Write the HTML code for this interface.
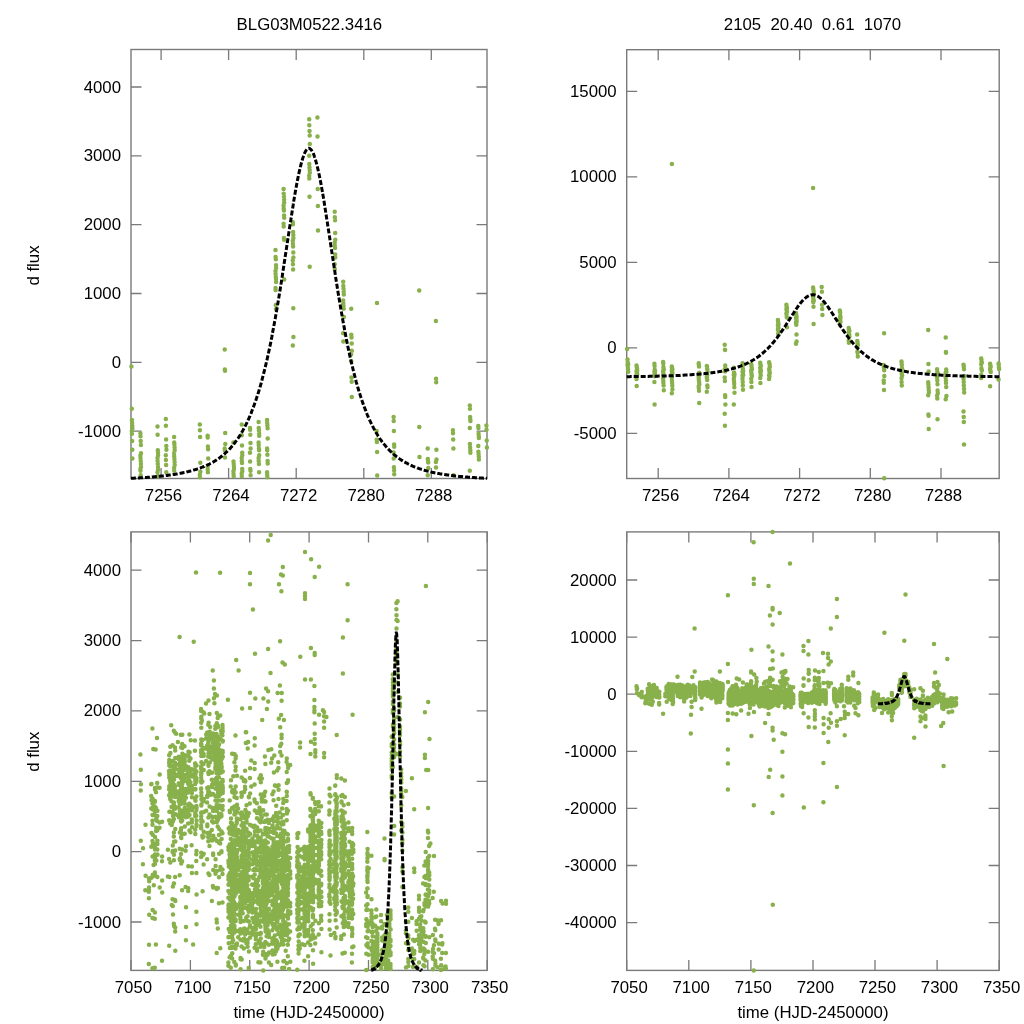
<!DOCTYPE html>
<html><head><meta charset="utf-8"><title>BLG03M0522.3416</title><style>html,body{margin:0;padding:0;background:#fff;}svg{display:block;will-change:transform}</style></head><body>
<svg width="1024" height="1024" viewBox="0 0 1024 1024">
<rect width="1024" height="1024" fill="#fff"/>
<g font-family="Liberation Sans, Arial, sans-serif" font-size="16.8" fill="#000">
<text x="309.4" y="30.3" text-anchor="middle">BLG03M0522.3416</text>
<text x="812.5" y="30.3" text-anchor="middle" xml:space="preserve">2105  20.40  0.61  1070</text>
<text transform="translate(39 265.5) rotate(-90)" text-anchor="middle">d flux</text>
<text transform="translate(39 751.7) rotate(-90)" text-anchor="middle">d flux</text>
<text x="309" y="1017.8" text-anchor="middle">time (HJD-2450000)</text>
<text x="813" y="1017.8" text-anchor="middle">time (HJD-2450000)</text>
<text x="163.5" y="500.6" text-anchor="middle">7256</text>
<text x="231" y="500.6" text-anchor="middle">7264</text>
<text x="298.6" y="500.6" text-anchor="middle">7272</text>
<text x="366.2" y="500.6" text-anchor="middle">7280</text>
<text x="433.7" y="500.6" text-anchor="middle">7288</text>
<text x="121" y="436.6" text-anchor="end">-1000</text>
<text x="121" y="367.8" text-anchor="end">0</text>
<text x="121" y="299" text-anchor="end">1000</text>
<text x="121" y="230.2" text-anchor="end">2000</text>
<text x="121" y="161.3" text-anchor="end">3000</text>
<text x="121" y="92.5" text-anchor="end">4000</text>
<text x="660.6" y="500.6" text-anchor="middle">7256</text>
<text x="731.3" y="500.6" text-anchor="middle">7264</text>
<text x="802" y="500.6" text-anchor="middle">7272</text>
<text x="872.7" y="500.6" text-anchor="middle">7280</text>
<text x="943.4" y="500.6" text-anchor="middle">7288</text>
<text x="616.7" y="438.9" text-anchor="end">-5000</text>
<text x="616.7" y="353.4" text-anchor="end">0</text>
<text x="616.7" y="267.9" text-anchor="end">5000</text>
<text x="616.7" y="182.4" text-anchor="end">10000</text>
<text x="616.7" y="96.9" text-anchor="end">15000</text>
<text x="133.4" y="992.5" text-anchor="middle">7050</text>
<text x="192.8" y="992.5" text-anchor="middle">7100</text>
<text x="252.1" y="992.5" text-anchor="middle">7150</text>
<text x="311.5" y="992.5" text-anchor="middle">7200</text>
<text x="370.9" y="992.5" text-anchor="middle">7250</text>
<text x="430.2" y="992.5" text-anchor="middle">7300</text>
<text x="489.6" y="992.5" text-anchor="middle">7350</text>
<text x="121" y="927.5" text-anchor="end">-1000</text>
<text x="121" y="857.1" text-anchor="end">0</text>
<text x="121" y="786.8" text-anchor="end">1000</text>
<text x="121" y="716.4" text-anchor="end">2000</text>
<text x="121" y="646.1" text-anchor="end">3000</text>
<text x="121" y="575.7" text-anchor="end">4000</text>
<text x="629.1" y="992.5" text-anchor="middle">7050</text>
<text x="691.2" y="992.5" text-anchor="middle">7100</text>
<text x="753.3" y="992.5" text-anchor="middle">7150</text>
<text x="815.4" y="992.5" text-anchor="middle">7200</text>
<text x="877.4" y="992.5" text-anchor="middle">7250</text>
<text x="939.5" y="992.5" text-anchor="middle">7300</text>
<text x="1001.6" y="992.5" text-anchor="middle">7350</text>
<text x="616.7" y="928.2" text-anchor="end">-40000</text>
<text x="616.7" y="871" text-anchor="end">-30000</text>
<text x="616.7" y="813.9" text-anchor="end">-20000</text>
<text x="616.7" y="756.8" text-anchor="end">-10000</text>
<text x="616.7" y="699.7" text-anchor="end">0</text>
<text x="616.7" y="642.6" text-anchor="end">10000</text>
<text x="616.7" y="585.5" text-anchor="end">20000</text>
</g>
<path d="M161.1 478.5v-10.5M161.1 49.5v10.5M228.6 478.5v-10.5M228.6 49.5v10.5M296.2 478.5v-10.5M296.2 49.5v10.5M363.8 478.5v-10.5M363.8 49.5v10.5M431.3 478.5v-10.5M431.3 49.5v10.5M131 431.1h10.5M487 431.1h-10.5M131 362.3h10.5M487 362.3h-10.5M131 293.5h10.5M487 293.5h-10.5M131 224.7h10.5M487 224.7h-10.5M131 155.8h10.5M487 155.8h-10.5M131 87h10.5M487 87h-10.5" stroke="#7a7a7a" stroke-width="1.3" fill="none"/>
<rect x="131.0" y="49.5" width="356" height="429" stroke="#7a7a7a" stroke-width="1.4" fill="none"/>
<path d="M658.2 478.5v-10.5M658.2 49.7v10.5M728.9 478.5v-10.5M728.9 49.7v10.5M799.6 478.5v-10.5M799.6 49.7v10.5M870.3 478.5v-10.5M870.3 49.7v10.5M941 478.5v-10.5M941 49.7v10.5M626.7 433.4h10.5M999.2 433.4h-10.5M626.7 347.9h10.5M999.2 347.9h-10.5M626.7 262.4h10.5M999.2 262.4h-10.5M626.7 176.9h10.5M999.2 176.9h-10.5M626.7 91.4h10.5M999.2 91.4h-10.5" stroke="#7a7a7a" stroke-width="1.3" fill="none"/>
<rect x="626.7" y="49.7" width="372.5" height="428.8" stroke="#7a7a7a" stroke-width="1.4" fill="none"/>
<path d="M131 970.4v-10.5M131 531.9v10.5M190.4 970.4v-10.5M190.4 531.9v10.5M249.7 970.4v-10.5M249.7 531.9v10.5M309.1 970.4v-10.5M309.1 531.9v10.5M368.5 970.4v-10.5M368.5 531.9v10.5M427.8 970.4v-10.5M427.8 531.9v10.5M487.2 970.4v-10.5M487.2 531.9v10.5M131 922h10.5M487.2 922h-10.5M131 851.6h10.5M487.2 851.6h-10.5M131 781.3h10.5M487.2 781.3h-10.5M131 710.9h10.5M487.2 710.9h-10.5M131 640.6h10.5M487.2 640.6h-10.5M131 570.2h10.5M487.2 570.2h-10.5" stroke="#7a7a7a" stroke-width="1.3" fill="none"/>
<rect x="131.0" y="531.9" width="356.2" height="438.5" stroke="#7a7a7a" stroke-width="1.4" fill="none"/>
<path d="M626.7 970.4v-10.5M626.7 531.9v10.5M688.8 970.4v-10.5M688.8 531.9v10.5M750.9 970.4v-10.5M750.9 531.9v10.5M813 970.4v-10.5M813 531.9v10.5M875 970.4v-10.5M875 531.9v10.5M937.1 970.4v-10.5M937.1 531.9v10.5M999.2 970.4v-10.5M999.2 531.9v10.5M626.7 922.7h10.5M999.2 922.7h-10.5M626.7 865.5h10.5M999.2 865.5h-10.5M626.7 808.4h10.5M999.2 808.4h-10.5M626.7 751.3h10.5M999.2 751.3h-10.5M626.7 694.2h10.5M999.2 694.2h-10.5M626.7 637.1h10.5M999.2 637.1h-10.5M626.7 580h10.5M999.2 580h-10.5" stroke="#7a7a7a" stroke-width="1.3" fill="none"/>
<rect x="626.7" y="531.9" width="372.5" height="438.5" stroke="#7a7a7a" stroke-width="1.4" fill="none"/>
<path d="M131.8 408.8h0M131.9 420h0M132.1 423h0M132.3 426h0M132.4 428.5h0M131.8 431h0M131.9 433.7h0M132.1 441h0M132.3 449.8h0M132.4 458.6h0M140.4 433.2h0M140.5 436.2h0M140.7 441h0M140.9 445h0M141 453.2h0M140.4 455.7h0M140.5 458.1h0M140.7 461h0M140.9 464h0M141 466.9h0M140.4 468.9h0M140.5 470.8h0M140.7 475.2h0M157.5 426.4h0M157.6 434.7h0M157.8 450.3h0M158 452.8h0M158.1 455.2h0M157.5 458.1h0M157.6 461h0M157.8 464h0M158 466.9h0M158.1 469.8h0M157.5 472.3h0M157.6 476.2h0M165.8 418.9h0M165.9 425.7h0M166.1 439.6h0M166.3 445.9h0M166.4 449.8h0M165.8 455.2h0M165.9 460.1h0M166.1 465h0M166.3 472.3h0M174.1 436.9h0M174.2 442.5h0M174.4 444.5h0M174.6 447.4h0M174.7 450.3h0M174.1 453.2h0M174.2 456.2h0M174.4 459.1h0M174.6 462h0M174.7 465h0M174.1 467.9h0M174.2 470.8h0M199.8 424.4h0M199.9 430.3h0M200.1 437.1h0M200.3 462.8h0M200.4 471.8h0M199.8 474.7h0M199.9 477.2h0M207.6 435.7h0M207.7 437.6h0M207.9 446.4h0M208.1 449.3h0M208.2 458.6h0M207.6 466.9h0M207.7 469.8h0M207.9 472.3h0M224.7 349.5h0M224.8 369.6h0M225 370.8h0M225.2 433h0M225.3 444h0M224.7 448.4h0M224.8 450.3h0M225 457.6h0M233.4 442.5h0M233.5 461.5h0M233.7 464h0M233.9 466.4h0M234 468.9h0M233.4 471.3h0M233.5 473.8h0M233.7 476.2h0M241.7 424.4h0M241.8 435.2h0M242 445.4h0M242.2 452.8h0M242.3 455.2h0M241.7 458.1h0M241.8 461h0M242 463h0M242.2 468.9h0M242.3 471.3h0M241.7 473.8h0M241.8 476.2h0M250 427.9h0M250.1 429.8h0M250.3 434.7h0M250.5 443h0M250.6 448.4h0M250 452.8h0M250.1 461.5h0M250.3 468.9h0M250.5 470.8h0M250.6 475.2h0M258.6 422h0M258.7 427.9h0M258.9 430.3h0M259.1 433.2h0M259.2 435.7h0M258.6 442.5h0M258.7 444.9h0M258.9 448.4h0M259.1 450.3h0M259.2 455.2h0M258.6 458.1h0M258.7 461h0M258.9 464h0M259.1 472.3h0M267.1 420h0M267.2 423h0M267.4 425.4h0M267.6 428.3h0M267.7 438.6h0M267.1 448.4h0M267.2 450.3h0M267.4 454.7h0M267.6 461h0M267.7 463.5h0M267.1 472.3h0M267.2 474.7h0M267.4 477.2h0M275.5 250h0M275.6 256.9h0M275.8 259.3h0M276 265.2h0M276.1 268.1h0M275.5 271.1h0M275.6 274h0M275.8 276.9h0M276 278.9h0M276.1 282h0M275.5 288h0M275.6 290h0M275.8 305h0M276 309.3h0M283.6 189h0M283.7 193.7h0M283.9 196.8h0M284.1 199.8h0M284.2 202.7h0M283.6 205.6h0M283.7 208.6h0M283.9 210.5h0M284.1 215.4h0M284.2 217.8h0M283.6 223.7h0M283.7 226.6h0M283.9 237.9h0M284.1 239.8h0M284.2 279.4h0M292.8 222.2h0M292.9 224.2h0M293.1 232h0M293.3 234.9h0M293.4 237.9h0M292.8 240.8h0M292.9 243.7h0M293.1 246.6h0M293.3 252.5h0M293.4 257.4h0M292.8 260.3h0M292.9 264.2h0M293.1 269.6h0M293.3 308.3h0M293.4 337.1h0M292.8 345.4h0M309.2 119.2h0M309.3 125.2h0M309.5 131.1h0M309.7 135.6h0M309.8 143.9h0M309.2 155.7h0M309.3 164h0M309.5 167.4h0M309.7 170.3h0M309.8 172.8h0M309.2 175.7h0M309.3 178.6h0M309.5 196.7h0M309.7 266.7h0M317.4 117.4h0M317.5 136.6h0M317.7 188.9h0M317.9 206.1h0M318 230.5h0M334.7 211.7h0M334.8 217.3h0M335 220.3h0M335.2 233h0M335.3 239.8h0M334.7 242.7h0M334.8 245.7h0M335 248.1h0M335.2 254.5h0M335.3 257.4h0M334.7 264.2h0M334.8 269.1h0M343.2 281.8h0M343.3 285.9h0M343.5 288.8h0M343.7 291.7h0M343.8 294.6h0M343.2 300.5h0M343.3 303.4h0M343.5 305.9h0M343.7 308.8h0M343.8 317.1h0M343.2 333.2h0M343.3 341.5h0M351.2 308.8h0M351.3 334.7h0M351.5 337.6h0M351.7 343.5h0M351.8 350.8h0M351.2 354.2h0M351.3 361.2h0M351.5 377.6h0M351.7 381.7h0M351.8 396.9h0M377 303.1h0M376.6 430.9h0M376.7 439.7h0M376.9 442.1h0M377.1 452h0M377.2 475.5h0M393.6 416.9h0M393.7 421h0M393.9 430.9h0M394.1 444.4h0M394.2 446.8h0M393.6 452.6h0M393.7 458.5h0M393.9 467.3h0M394.1 470.2h0M394.2 474.3h0M419.2 290.5h0M419.3 427.1h0M419.5 457h0M427.7 448.4h0M427.8 459.1h0M428 461h0M428.2 462.5h0M428.3 467.9h0M427.7 475.2h0M435.9 320.9h0M436 378.8h0M436.2 382.3h0M436.4 449.8h0M436.5 459.6h0M435.9 462h0M436 467.4h0M452.9 430.3h0M453 433.2h0M453.2 439.6h0M453.4 448.4h0M453.5 475.2h0M469.8 405.4h0M469.9 408.8h0M470.1 417.1h0M470.3 419.6h0M470.4 421h0M469.8 427.9h0M469.9 444h0M470.1 447.4h0M470.3 450.3h0M470.4 452.8h0M469.8 470.8h0M478.3 425.9h0M478.4 427.9h0M478.6 433.7h0M478.8 436.2h0M478.9 438.1h0M478.3 445.9h0M478.4 451.8h0M478.6 454.2h0M478.8 456.7h0M478.9 459.6h0M486.4 425.4h0M486.5 429.8h0M486.7 440.5h0M486.9 447.4h0M131.4 366.4h0" stroke="#88b04b" stroke-width="4.5" stroke-linecap="round" fill="none"/>
<path d="M131 478.3L131.6 478.3L132.2 478.3L132.8 478.2L133.4 478.2L134 478.2L134.6 478.1L135.2 478.1L135.8 478.1L136.3 478L136.9 478L137.5 478L138.1 477.9L138.7 477.9L139.3 477.9L139.9 477.8L140.5 477.8L141.1 477.8L141.7 477.7L142.3 477.7L142.9 477.7L143.5 477.6L144.1 477.6L144.7 477.5L145.3 477.5L145.9 477.4L146.5 477.4L147 477.4L147.6 477.3L148.2 477.3L148.8 477.2L149.4 477.2L150 477.1L150.6 477.1L151.2 477L151.8 477L152.4 476.9L153 476.9L153.6 476.8L154.2 476.8L154.8 476.7L155.4 476.7L156 476.6L156.6 476.6L157.2 476.5L157.7 476.5L158.3 476.4L158.9 476.3L159.5 476.3L160.1 476.2L160.7 476.1L161.3 476.1L161.9 476L162.5 476L163.1 475.9L163.7 475.8L164.3 475.7L164.9 475.7L165.5 475.6L166.1 475.5L166.7 475.5L167.3 475.4L167.8 475.3L168.4 475.2L169 475.1L169.6 475.1L170.2 475L170.8 474.9L171.4 474.8L172 474.7L172.6 474.6L173.2 474.5L173.8 474.5L174.4 474.4L175 474.3L175.6 474.2L176.2 474.1L176.8 474L177.4 473.9L178 473.8L178.5 473.7L179.1 473.5L179.7 473.4L180.3 473.3L180.9 473.2L181.5 473.1L182.1 473L182.7 472.8L183.3 472.7L183.9 472.6L184.5 472.5L185.1 472.3L185.7 472.2L186.3 472.1L186.9 471.9L187.5 471.8L188.1 471.6L188.6 471.5L189.2 471.3L189.8 471.2L190.4 471L191 470.9L191.6 470.7L192.2 470.6L192.8 470.4L193.4 470.2L194 470L194.6 469.9L195.2 469.7L195.8 469.5L196.4 469.3L197 469.1L197.6 468.9L198.2 468.7L198.8 468.5L199.3 468.3L199.9 468.1L200.5 467.9L201.1 467.6L201.7 467.4L202.3 467.2L202.9 467L203.5 466.7L204.1 466.5L204.7 466.2L205.3 466L205.9 465.7L206.5 465.4L207.1 465.2L207.7 464.9L208.3 464.6L208.9 464.3L209.5 464L210 463.7L210.6 463.4L211.2 463.1L211.8 462.7L212.4 462.4L213 462.1L213.6 461.7L214.2 461.4L214.8 461L215.4 460.7L216 460.3L216.6 459.9L217.2 459.5L217.8 459.1L218.4 458.7L219 458.3L219.6 457.8L220.1 457.4L220.7 457L221.3 456.5L221.9 456L222.5 455.5L223.1 455.1L223.7 454.6L224.3 454L224.9 453.5L225.5 453L226.1 452.4L226.7 451.9L227.3 451.3L227.9 450.7L228.5 450.1L229.1 449.5L229.7 448.9L230.3 448.2L230.8 447.6L231.4 446.9L232 446.2L232.6 445.5L233.2 444.8L233.8 444L234.4 443.3L235 442.5L235.6 441.7L236.2 440.9L236.8 440.1L237.4 439.2L238 438.4L238.6 437.5L239.2 436.6L239.8 435.7L240.4 434.7L240.9 433.7L241.5 432.7L242.1 431.7L242.7 430.7L243.3 429.6L243.9 428.5L244.5 427.4L245.1 426.3L245.7 425.1L246.3 423.9L246.9 422.7L247.5 421.4L248.1 420.1L248.7 418.8L249.3 417.5L249.9 416.1L250.5 414.7L251.1 413.2L251.6 411.7L252.2 410.2L252.8 408.7L253.4 407.1L254 405.5L254.6 403.8L255.2 402.1L255.8 400.4L256.4 398.6L257 396.8L257.6 395L258.2 393.1L258.8 391.2L259.4 389.2L260 387.2L260.6 385.1L261.2 383L261.8 380.8L262.3 378.6L262.9 376.4L263.5 374.1L264.1 371.7L264.7 369.3L265.3 366.9L265.9 364.4L266.5 361.9L267.1 359.3L267.7 356.6L268.3 353.9L268.9 351.2L269.5 348.4L270.1 345.5L270.7 342.6L271.3 339.6L271.9 336.6L272.4 333.6L273 330.4L273.6 327.3L274.2 324L274.8 320.8L275.4 317.5L276 314.1L276.6 310.7L277.2 307.2L277.8 303.7L278.4 300.1L279 296.5L279.6 292.9L280.2 289.2L280.8 285.5L281.4 281.7L282 277.9L282.6 274.1L283.1 270.3L283.7 266.4L284.3 262.5L284.9 258.6L285.5 254.6L286.1 250.7L286.7 246.8L287.3 242.8L287.9 238.9L288.5 234.9L289.1 231L289.7 227.1L290.3 223.2L290.9 219.4L291.5 215.5L292.1 211.8L292.7 208L293.3 204.3L293.8 200.7L294.4 197.2L295 193.7L295.6 190.3L296.2 187L296.8 183.7L297.4 180.6L298 177.6L298.6 174.7L299.2 171.9L299.8 169.3L300.4 166.8L301 164.4L301.6 162.1L302.2 160.1L302.8 158.1L303.4 156.4L303.9 154.8L304.5 153.3L305.1 152.1L305.7 151L306.3 150.1L306.9 149.4L307.5 148.9L308.1 148.6L308.7 148.4L309.3 148.5L309.9 148.7L310.5 149.1L311.1 149.7L311.7 150.5L312.3 151.5L312.9 152.6L313.5 153.9L314.1 155.4L314.6 157.1L315.2 158.9L315.8 160.9L316.4 163.1L317 165.4L317.6 167.8L318.2 170.4L318.8 173.1L319.4 175.9L320 178.9L320.6 181.9L321.2 185.1L321.8 188.4L322.4 191.7L323 195.2L323.6 198.7L324.2 202.3L324.7 205.9L325.3 209.6L325.9 213.4L326.5 217.2L327.1 221L327.7 224.9L328.3 228.8L328.9 232.7L329.5 236.6L330.1 240.6L330.7 244.5L331.3 248.4L331.9 252.4L332.5 256.3L333.1 260.2L333.7 264.2L334.3 268L334.9 271.9L335.4 275.7L336 279.5L336.6 283.3L337.2 287.1L337.8 290.8L338.4 294.4L339 298.1L339.6 301.6L340.2 305.2L340.8 308.7L341.4 312.1L342 315.5L342.6 318.9L343.2 322.2L343.8 325.4L344.4 328.6L345 331.8L345.6 334.9L346.1 337.9L346.7 340.9L347.3 343.8L347.9 346.7L348.5 349.6L349.1 352.3L349.7 355.1L350.3 357.7L350.9 360.4L351.5 362.9L352.1 365.5L352.7 367.9L353.3 370.4L353.9 372.7L354.5 375.1L355.1 377.3L355.7 379.6L356.2 381.8L356.8 383.9L357.4 386L358 388L358.6 390L359.2 392L359.8 393.9L360.4 395.8L361 397.6L361.6 399.4L362.2 401.2L362.8 402.9L363.4 404.6L364 406.2L364.6 407.8L365.2 409.4L365.8 410.9L366.4 412.4L366.9 413.8L367.5 415.3L368.1 416.7L368.7 418L369.3 419.4L369.9 420.7L370.5 421.9L371.1 423.2L371.7 424.4L372.3 425.6L372.9 426.7L373.5 427.9L374.1 429L374.7 430.1L375.3 431.1L375.9 432.2L376.5 433.2L377.1 434.2L377.6 435.1L378.2 436.1L378.8 437L379.4 437.9L380 438.8L380.6 439.6L381.2 440.5L381.8 441.3L382.4 442.1L383 442.9L383.6 443.6L384.2 444.4L384.8 445.1L385.4 445.8L386 446.5L386.6 447.2L387.2 447.9L387.7 448.5L388.3 449.1L388.9 449.8L389.5 450.4L390.1 451L390.7 451.5L391.3 452.1L391.9 452.7L392.5 453.2L393.1 453.7L393.7 454.3L394.3 454.8L394.9 455.3L395.5 455.7L396.1 456.2L396.7 456.7L397.3 457.1L397.9 457.6L398.4 458L399 458.4L399.6 458.9L400.2 459.3L400.8 459.7L401.4 460.1L402 460.4L402.6 460.8L403.2 461.2L403.8 461.5L404.4 461.9L405 462.2L405.6 462.6L406.2 462.9L406.8 463.2L407.4 463.5L408 463.8L408.5 464.1L409.1 464.4L409.7 464.7L410.3 465L410.9 465.3L411.5 465.5L412.1 465.8L412.7 466.1L413.3 466.3L413.9 466.6L414.5 466.8L415.1 467.1L415.7 467.3L416.3 467.5L416.9 467.7L417.5 468L418.1 468.2L418.7 468.4L419.2 468.6L419.8 468.8L420.4 469L421 469.2L421.6 469.4L422.2 469.6L422.8 469.8L423.4 469.9L424 470.1L424.6 470.3L425.2 470.5L425.8 470.6L426.4 470.8L427 471L427.6 471.1L428.2 471.3L428.8 471.4L429.4 471.6L429.9 471.7L430.5 471.8L431.1 472L431.7 472.1L432.3 472.3L432.9 472.4L433.5 472.5L434.1 472.7L434.7 472.8L435.3 472.9L435.9 473L436.5 473.1L437.1 473.3L437.7 473.4L438.3 473.5L438.9 473.6L439.5 473.7L440 473.8L440.6 473.9L441.2 474L441.8 474.1L442.4 474.2L443 474.3L443.6 474.4L444.2 474.5L444.8 474.6L445.4 474.7L446 474.8L446.6 474.8L447.2 474.9L447.8 475L448.4 475.1L449 475.2L449.6 475.3L450.2 475.3L450.7 475.4L451.3 475.5L451.9 475.6L452.5 475.6L453.1 475.7L453.7 475.8L454.3 475.8L454.9 475.9L455.5 476L456.1 476L456.7 476.1L457.3 476.2L457.9 476.2L458.5 476.3L459.1 476.4L459.7 476.4L460.3 476.5L460.8 476.5L461.4 476.6L462 476.6L462.6 476.7L463.2 476.8L463.8 476.8L464.4 476.9L465 476.9L465.6 477L466.2 477L466.8 477.1L467.4 477.1L468 477.2L468.6 477.2L469.2 477.2L469.8 477.3L470.4 477.3L471 477.4L471.5 477.4L472.1 477.5L472.7 477.5L473.3 477.5L473.9 477.6L474.5 477.6L475.1 477.7L475.7 477.7L476.3 477.7L476.9 477.8L477.5 477.8L478.1 477.9L478.7 477.9L479.3 477.9L479.9 478L480.5 478L481.1 478L481.7 478.1L482.2 478.1L482.8 478.1L483.4 478.2L484 478.2L484.6 478.2L485.2 478.2L485.8 478.3L486.4 478.3L487 478.3" stroke="#000" stroke-width="3" stroke-dasharray="5 2" fill="none"/>
<path d="M627.5 359.4h0M627.7 362.2h0M627.9 363h0M628 363.7h0M628.2 364.3h0M627.5 364.9h0M627.7 365.6h0M627.9 367.4h0M628 369.6h0M628.2 371.8h0M636.5 365.5h0M636.7 366.2h0M636.8 367.4h0M637 368.4h0M637.2 370.5h0M636.5 371.1h0M636.7 371.7h0M636.8 372.4h0M637 373.1h0M637.2 373.9h0M636.5 374.4h0M636.7 374.8h0M636.8 375.9h0M654.4 363.8h0M654.6 365.9h0M654.7 369.7h0M654.9 370.4h0M655.1 371h0M654.4 371.7h0M654.6 372.4h0M654.7 373.1h0M654.9 373.9h0M655.1 374.6h0M654.4 375.2h0M654.6 376.2h0M663.1 361.9h0M663.3 363.6h0M663.4 367.1h0M663.6 368.6h0M663.8 369.6h0M663.1 371h0M663.3 372.2h0M663.4 373.4h0M663.6 375.2h0M671.8 366.4h0M671.9 367.8h0M672.1 368.3h0M672.3 369h0M672.4 369.7h0M671.8 370.5h0M671.9 371.2h0M672.1 371.9h0M672.3 372.6h0M672.4 373.4h0M671.8 374.1h0M671.9 374.8h0M698.7 363.3h0M698.8 364.8h0M699 366.5h0M699.2 372.8h0M699.3 375.1h0M698.7 375.8h0M698.8 376.4h0M706.8 366.1h0M707 366.6h0M707.2 368.8h0M707.3 369.5h0M707.5 371.8h0M706.8 373.9h0M707 374.6h0M707.2 375.2h0M724.7 344.7h0M724.9 349.7h0M725.1 350h0M725.2 365.4h0M725.4 368.2h0M724.7 369.3h0M724.9 369.7h0M725.1 371.6h0M733.8 367.8h0M734 372.5h0M734.2 373.1h0M734.3 373.7h0M734.5 374.4h0M733.8 375h0M734 375.6h0M734.2 376.2h0M742.5 363.3h0M742.7 366h0M742.8 368.5h0M743 370.4h0M743.2 371h0M742.5 371.7h0M742.7 372.4h0M742.8 372.9h0M743 374.4h0M743.2 375h0M742.5 375.6h0M742.7 376.2h0M751.2 364.2h0M751.4 364.6h0M751.5 365.9h0M751.7 367.9h0M751.9 369.3h0M751.2 370.4h0M751.4 372.5h0M751.5 374.4h0M751.7 374.8h0M751.9 375.9h0M760.2 362.7h0M760.4 364.2h0M760.5 364.8h0M760.7 365.5h0M760.9 366.1h0M760.2 367.8h0M760.4 368.4h0M760.5 369.3h0M760.7 369.7h0M760.9 371h0M760.2 371.7h0M760.4 372.4h0M760.5 373.1h0M760.7 375.2h0M769.1 362.2h0M769.3 363h0M769.4 363.6h0M769.6 364.3h0M769.8 366.8h0M769.1 369.3h0M769.3 369.7h0M769.4 370.8h0M769.6 372.4h0M769.8 373h0M769.1 375.2h0M769.3 375.8h0M769.4 376.4h0M777.9 320h0M778 321.7h0M778.2 322.3h0M778.4 323.8h0M778.5 324.5h0M777.9 325.2h0M778 325.9h0M778.2 326.7h0M778.4 327.2h0M778.5 327.9h0M777.9 329.4h0M778 329.9h0M778.2 333.6h0M778.4 334.7h0M786.4 304.8h0M786.5 306h0M786.7 306.8h0M786.9 307.5h0M787 308.2h0M786.4 308.9h0M786.5 309.7h0M786.7 310.2h0M786.9 311.4h0M787 312h0M786.4 313.4h0M786.5 314.2h0M786.7 317h0M786.9 317.4h0M787 327.3h0M796 313.1h0M796.1 313.6h0M796.3 315.5h0M796.5 316.2h0M796.6 317h0M796 317.7h0M796.1 318.4h0M796.3 319.1h0M796.5 320.6h0M796.6 321.8h0M796 322.5h0M796.1 323.5h0M796.3 324.8h0M796.5 334.5h0M796.6 341.6h0M796 343.7h0M813.1 287.5h0M813.3 289h0M813.5 290.4h0M813.6 291.6h0M813.8 293.6h0M813.1 296.6h0M813.3 298.6h0M813.5 299.5h0M813.6 300.2h0M813.8 300.8h0M813.1 301.5h0M813.3 302.2h0M813.5 306.7h0M813.6 324.1h0M821.7 287h0M821.9 291.8h0M822.1 304.8h0M822.2 309.1h0M822.4 315.1h0M839.8 310.5h0M840 311.9h0M840.2 312.6h0M840.3 315.8h0M840.5 317.4h0M839.8 318.2h0M840 318.9h0M840.2 319.5h0M840.3 321.1h0M840.5 321.8h0M839.8 323.5h0M840 324.7h0M848.7 327.9h0M848.9 328.9h0M849 329.6h0M849.2 330.3h0M849.4 331.1h0M848.7 332.5h0M848.9 333.2h0M849 333.9h0M849.2 334.6h0M849.4 336.6h0M848.7 340.6h0M848.9 342.7h0M857.1 334.6h0M857.3 341h0M857.4 341.7h0M857.6 343.2h0M857.8 345h0M857.1 345.9h0M857.3 347.6h0M857.4 351.7h0M857.6 352.7h0M857.8 356.5h0M884.1 333.2h0M883.7 364.9h0M883.8 367.1h0M884 367.7h0M884.2 370.2h0M884.3 376h0M901.5 361.4h0M901.6 362.5h0M901.8 364.9h0M902 368.3h0M902.1 368.9h0M901.5 370.3h0M901.6 371.8h0M901.8 374h0M902 374.7h0M902.1 375.7h0M928.2 330h0M928.4 364h0M928.6 371.4h0M937.1 369.3h0M937.3 371.9h0M937.5 372.4h0M937.6 372.8h0M937.8 374.1h0M937.1 375.9h0M945.7 337.6h0M945.9 352h0M946 352.8h0M946.2 369.6h0M946.4 372h0M945.7 372.6h0M945.9 374h0M963.5 364.8h0M963.7 365.5h0M963.8 367.1h0M964 369.3h0M964.2 375.9h0M981.2 358.6h0M981.4 359.4h0M981.5 361.5h0M981.7 362.1h0M981.9 362.5h0M981.2 364.2h0M981.4 368.2h0M981.5 369h0M981.7 369.7h0M981.9 370.4h0M981.2 374.8h0M990.1 363.7h0M990.2 364.2h0M990.4 365.6h0M990.6 366.2h0M990.7 366.7h0M990.1 368.6h0M990.2 370.1h0M990.4 370.7h0M990.6 371.3h0M990.7 372h0M998.6 363.6h0M998.7 364.6h0M998.9 367.3h0M999.1 369h0M627.1 348.9h0M636.5 379h0M636.7 385.9h0M654.4 382h0M654.6 404.4h0M663.1 378.6h0M663.3 380.9h0M663.4 383.1h0M663.6 385.4h0M663.8 390.3h0M671.8 377.8h0M671.9 380.4h0M672.1 382.9h0M672.3 385.4h0M672.4 389.3h0M671.8 393.2h0M671.9 164.1h0M698.7 377.6h0M698.8 379.5h0M699 381.2h0M699.2 382.9h0M699.3 384.6h0M698.7 386.3h0M698.8 388.3h0M699 390.8h0M699.2 403h0M706.8 377h0M707 378.5h0M707.2 380h0M707.3 385.4h0M707.5 387.3h0M706.8 391.7h0M724.7 377.6h0M724.9 381h0M725.1 395.2h0M725.2 397.1h0M725.4 404.5h0M724.7 413.7h0M724.9 425.7h0M733.8 378.7h0M734 381.2h0M734.2 383.8h0M734.3 387.2h0M734.5 392.7h0M733.8 404.5h0M742.5 378.7h0M742.7 382.1h0M742.8 385.5h0M743 389.8h0M751.2 378.7h0M751.4 382.1h0M751.5 386.9h0M760.2 378.1h0M760.4 383h0M769.1 379h0M813.1 188.1h0M883.7 380.5h0M883.8 382.7h0M884 390h0M884.2 478.2h0M901.5 378.3h0M901.6 382h0M901.8 385.6h0M928.2 382.2h0M928.4 384.6h0M928.6 387.2h0M928.7 389.8h0M928.9 392.3h0M928.2 395.2h0M928.4 414.4h0M928.6 415.7h0M928.7 429h0M937.1 377.8h0M937.3 380.4h0M937.5 384.3h0M937.6 390.4h0M937.8 393.2h0M937.1 395.7h0M937.3 398.6h0M937.5 419.2h0M945.7 377.8h0M945.9 380.4h0M946 382.9h0M946.2 387h0M946.4 395.9h0M945.7 399.3h0M963.5 378.8h0M963.7 382.1h0M963.8 385.5h0M964 388.9h0M964.2 392.5h0M963.5 411.6h0M963.7 417.1h0M963.8 421.9h0M964 444.5h0M981.2 378.1h0M990.1 386.3h0M998.6 379.5h0" stroke="#88b04b" stroke-width="4.5" stroke-linecap="round" fill="none"/>
<path d="M626.7 376.7L627.3 376.7L627.9 376.7L628.6 376.7L629.2 376.7L629.8 376.7L630.4 376.6L631.1 376.6L631.7 376.6L632.3 376.6L632.9 376.6L633.5 376.6L634.2 376.6L634.8 376.6L635.4 376.6L636 376.6L636.6 376.6L637.3 376.6L637.9 376.5L638.5 376.5L639.1 376.5L639.8 376.5L640.4 376.5L641 376.5L641.6 376.5L642.2 376.5L642.9 376.5L643.5 376.5L644.1 376.4L644.7 376.4L645.4 376.4L646 376.4L646.6 376.4L647.2 376.4L647.8 376.4L648.5 376.4L649.1 376.3L649.7 376.3L650.3 376.3L651 376.3L651.6 376.3L652.2 376.3L652.8 376.3L653.4 376.3L654.1 376.2L654.7 376.2L655.3 376.2L655.9 376.2L656.5 376.2L657.2 376.2L657.8 376.2L658.4 376.1L659 376.1L659.7 376.1L660.3 376.1L660.9 376.1L661.5 376.1L662.1 376L662.8 376L663.4 376L664 376L664.6 376L665.3 375.9L665.9 375.9L666.5 375.9L667.1 375.9L667.7 375.9L668.4 375.8L669 375.8L669.6 375.8L670.2 375.8L670.9 375.8L671.5 375.7L672.1 375.7L672.7 375.7L673.3 375.7L674 375.6L674.6 375.6L675.2 375.6L675.8 375.6L676.4 375.5L677.1 375.5L677.7 375.5L678.3 375.4L678.9 375.4L679.6 375.4L680.2 375.4L680.8 375.3L681.4 375.3L682 375.3L682.7 375.2L683.3 375.2L683.9 375.2L684.5 375.1L685.2 375.1L685.8 375.1L686.4 375L687 375L687.6 375L688.3 374.9L688.9 374.9L689.5 374.8L690.1 374.8L690.8 374.8L691.4 374.7L692 374.7L692.6 374.6L693.2 374.6L693.9 374.5L694.5 374.5L695.1 374.5L695.7 374.4L696.3 374.4L697 374.3L697.6 374.3L698.2 374.2L698.8 374.2L699.5 374.1L700.1 374L700.7 374L701.3 373.9L701.9 373.9L702.6 373.8L703.2 373.7L703.8 373.7L704.4 373.6L705.1 373.6L705.7 373.5L706.3 373.4L706.9 373.4L707.5 373.3L708.2 373.2L708.8 373.1L709.4 373.1L710 373L710.7 372.9L711.3 372.8L711.9 372.7L712.5 372.7L713.1 372.6L713.8 372.5L714.4 372.4L715 372.3L715.6 372.2L716.2 372.1L716.9 372L717.5 371.9L718.1 371.8L718.7 371.7L719.4 371.6L720 371.5L720.6 371.4L721.2 371.3L721.8 371.2L722.5 371L723.1 370.9L723.7 370.8L724.3 370.7L725 370.5L725.6 370.4L726.2 370.3L726.8 370.1L727.4 370L728.1 369.8L728.7 369.7L729.3 369.5L729.9 369.4L730.6 369.2L731.2 369.1L731.8 368.9L732.4 368.7L733 368.5L733.7 368.4L734.3 368.2L734.9 368L735.5 367.8L736.1 367.6L736.8 367.4L737.4 367.2L738 367L738.6 366.8L739.3 366.6L739.9 366.3L740.5 366.1L741.1 365.9L741.7 365.6L742.4 365.4L743 365.1L743.6 364.9L744.2 364.6L744.9 364.3L745.5 364L746.1 363.8L746.7 363.5L747.3 363.2L748 362.9L748.6 362.6L749.2 362.2L749.8 361.9L750.5 361.6L751.1 361.2L751.7 360.9L752.3 360.5L752.9 360.2L753.6 359.8L754.2 359.4L754.8 359L755.4 358.6L756 358.2L756.7 357.8L757.3 357.3L757.9 356.9L758.5 356.5L759.2 356L759.8 355.5L760.4 355L761 354.5L761.6 354L762.3 353.5L762.9 353L763.5 352.5L764.1 351.9L764.8 351.4L765.4 350.8L766 350.2L766.6 349.6L767.2 349L767.9 348.4L768.5 347.8L769.1 347.1L769.7 346.5L770.4 345.8L771 345.1L771.6 344.4L772.2 343.7L772.8 343L773.5 342.2L774.1 341.5L774.7 340.7L775.3 340L775.9 339.2L776.6 338.4L777.2 337.6L777.8 336.7L778.4 335.9L779.1 335L779.7 334.2L780.3 333.3L780.9 332.4L781.5 331.5L782.2 330.6L782.8 329.7L783.4 328.8L784 327.9L784.7 326.9L785.3 326L785.9 325L786.5 324L787.1 323.1L787.8 322.1L788.4 321.1L789 320.2L789.6 319.2L790.3 318.2L790.9 317.2L791.5 316.2L792.1 315.3L792.7 314.3L793.4 313.3L794 312.4L794.6 311.4L795.2 310.5L795.8 309.5L796.5 308.6L797.1 307.7L797.7 306.9L798.3 306L799 305.1L799.6 304.3L800.2 303.5L800.8 302.7L801.4 302L802.1 301.3L802.7 300.6L803.3 299.9L803.9 299.3L804.6 298.7L805.2 298.2L805.8 297.6L806.4 297.2L807 296.7L807.7 296.3L808.3 296L808.9 295.7L809.5 295.4L810.2 295.2L810.8 295L811.4 294.9L812 294.8L812.6 294.7L813.3 294.8L813.9 294.8L814.5 294.9L815.1 295.1L815.7 295.3L816.4 295.5L817 295.8L817.6 296.1L818.2 296.5L818.9 296.9L819.5 297.4L820.1 297.8L820.7 298.4L821.3 299L822 299.6L822.6 300.2L823.2 300.9L823.8 301.6L824.5 302.3L825.1 303.1L825.7 303.9L826.3 304.7L826.9 305.5L827.6 306.4L828.2 307.2L828.8 308.1L829.4 309L830.1 309.9L830.7 310.9L831.3 311.8L831.9 312.8L832.5 313.7L833.2 314.7L833.8 315.7L834.4 316.6L835 317.6L835.6 318.6L836.3 319.6L836.9 320.6L837.5 321.5L838.1 322.5L838.8 323.5L839.4 324.5L840 325.4L840.6 326.4L841.2 327.3L841.9 328.3L842.5 329.2L843.1 330.1L843.7 331L844.4 331.9L845 332.8L845.6 333.7L846.2 334.6L846.8 335.4L847.5 336.3L848.1 337.1L848.7 337.9L849.3 338.7L850 339.5L850.6 340.3L851.2 341.1L851.8 341.8L852.4 342.6L853.1 343.3L853.7 344L854.3 344.7L854.9 345.4L855.5 346.1L856.2 346.7L856.8 347.4L857.4 348L858 348.7L858.7 349.3L859.3 349.9L859.9 350.5L860.5 351L861.1 351.6L861.8 352.2L862.4 352.7L863 353.2L863.6 353.8L864.3 354.3L864.9 354.8L865.5 355.2L866.1 355.7L866.7 356.2L867.4 356.6L868 357.1L868.6 357.5L869.2 358L869.9 358.4L870.5 358.8L871.1 359.2L871.7 359.6L872.3 359.9L873 360.3L873.6 360.7L874.2 361L874.8 361.4L875.4 361.7L876.1 362L876.7 362.4L877.3 362.7L877.9 363L878.6 363.3L879.2 363.6L879.8 363.9L880.4 364.2L881 364.4L881.7 364.7L882.3 365L882.9 365.2L883.5 365.5L884.2 365.7L884.8 366L885.4 366.2L886 366.4L886.6 366.6L887.3 366.9L887.9 367.1L888.5 367.3L889.1 367.5L889.8 367.7L890.4 367.9L891 368.1L891.6 368.3L892.2 368.4L892.9 368.6L893.5 368.8L894.1 369L894.7 369.1L895.3 369.3L896 369.4L896.6 369.6L897.2 369.7L897.8 369.9L898.5 370L899.1 370.2L899.7 370.3L900.3 370.5L900.9 370.6L901.6 370.7L902.2 370.8L902.8 371L903.4 371.1L904.1 371.2L904.7 371.3L905.3 371.4L905.9 371.5L906.5 371.6L907.2 371.8L907.8 371.9L908.4 372L909 372.1L909.7 372.2L910.3 372.3L910.9 372.3L911.5 372.4L912.1 372.5L912.8 372.6L913.4 372.7L914 372.8L914.6 372.9L915.2 372.9L915.9 373L916.5 373.1L917.1 373.2L917.7 373.2L918.4 373.3L919 373.4L919.6 373.5L920.2 373.5L920.8 373.6L921.5 373.6L922.1 373.7L922.7 373.8L923.3 373.8L924 373.9L924.6 374L925.2 374L925.8 374.1L926.4 374.1L927.1 374.2L927.7 374.2L928.3 374.3L928.9 374.3L929.6 374.4L930.2 374.4L930.8 374.5L931.4 374.5L932 374.6L932.7 374.6L933.3 374.7L933.9 374.7L934.5 374.7L935.1 374.8L935.8 374.8L936.4 374.9L937 374.9L937.6 374.9L938.3 375L938.9 375L939.5 375L940.1 375.1L940.7 375.1L941.4 375.2L942 375.2L942.6 375.2L943.2 375.3L943.9 375.3L944.5 375.3L945.1 375.3L945.7 375.4L946.3 375.4L947 375.4L947.6 375.5L948.2 375.5L948.8 375.5L949.5 375.5L950.1 375.6L950.7 375.6L951.3 375.6L951.9 375.6L952.6 375.7L953.2 375.7L953.8 375.7L954.4 375.7L955 375.8L955.7 375.8L956.3 375.8L956.9 375.8L957.5 375.9L958.2 375.9L958.8 375.9L959.4 375.9L960 375.9L960.6 376L961.3 376L961.9 376L962.5 376L963.1 376L963.8 376L964.4 376.1L965 376.1L965.6 376.1L966.2 376.1L966.9 376.1L967.5 376.1L968.1 376.2L968.7 376.2L969.4 376.2L970 376.2L970.6 376.2L971.2 376.2L971.8 376.2L972.5 376.3L973.1 376.3L973.7 376.3L974.3 376.3L974.9 376.3L975.6 376.3L976.2 376.3L976.8 376.4L977.4 376.4L978.1 376.4L978.7 376.4L979.3 376.4L979.9 376.4L980.5 376.4L981.2 376.4L981.8 376.4L982.4 376.5L983 376.5L983.7 376.5L984.3 376.5L984.9 376.5L985.5 376.5L986.1 376.5L986.8 376.5L987.4 376.5L988 376.5L988.6 376.6L989.3 376.6L989.9 376.6L990.5 376.6L991.1 376.6L991.7 376.6L992.4 376.6L993 376.6L993.6 376.6L994.2 376.6L994.8 376.6L995.5 376.7L996.1 376.7L996.7 376.7L997.3 376.7L998 376.7L998.6 376.7L999.2 376.7" stroke="#000" stroke-width="3" stroke-dasharray="5 2" fill="none"/>
<path d="M371.5 899.2h0M371.5 910.6h0M371.5 913.7h0M371.5 916.8h0M371.6 919.3h0M371.5 921.9h0M371.5 924.6h0M371.5 932.1h0M371.5 941.1h0M371.6 950.1h0M372.7 924.1h0M372.7 927.2h0M372.7 932.1h0M372.7 936.2h0M372.8 944.6h0M372.7 947.1h0M372.7 949.6h0M372.7 952.5h0M372.7 955.6h0M372.8 958.6h0M372.7 960.6h0M372.7 962.6h0M372.7 967.1h0M375.1 917.2h0M375.1 925.7h0M375.1 941.6h0M375.2 944.2h0M375.2 946.6h0M375.1 949.6h0M375.1 952.5h0M375.1 955.6h0M375.2 958.6h0M375.2 961.5h0M375.1 964.1h0M375.1 968.1h0M376.3 909.5h0M376.3 916.5h0M376.3 930.7h0M376.3 937.1h0M376.3 941.1h0M376.3 946.6h0M376.3 951.6h0M376.3 956.6h0M376.3 964.1h0M377.4 927.9h0M377.4 933.6h0M377.5 935.7h0M377.5 938.6h0M377.5 941.6h0M377.4 944.6h0M377.4 947.6h0M377.5 950.6h0M377.5 953.6h0M377.5 956.6h0M377.4 959.6h0M377.4 962.6h0M381 915.1h0M381.1 921.2h0M381.1 928.1h0M381.1 954.4h0M381.1 963.6h0M381 966.5h0M381.1 969.1h0M382.1 926.7h0M382.2 928.6h0M382.2 937.6h0M382.2 940.6h0M382.2 950.1h0M382.1 958.6h0M382.2 961.5h0M382.2 964.1h0M384.5 838.6h0M384.6 859.1h0M384.6 860.3h0M384.6 923.9h0M384.6 935.2h0M384.5 939.7h0M384.6 941.6h0M384.6 949.1h0M385.8 933.6h0M385.8 953.1h0M385.8 955.6h0M385.8 958.1h0M385.8 960.6h0M385.8 963.1h0M385.8 965.6h0M385.8 968.1h0M386.9 915.1h0M386.9 926.2h0M387 936.6h0M387 944.2h0M387 946.6h0M386.9 949.6h0M386.9 952.5h0M387 954.6h0M387 960.6h0M387 963.1h0M386.9 965.6h0M386.9 968.1h0M388.1 918.7h0M388.1 920.6h0M388.1 925.7h0M388.2 934.1h0M388.2 939.7h0M388.1 944.2h0M388.1 953.1h0M388.1 960.6h0M388.2 962.6h0M388.2 967.1h0M389.3 912.7h0M389.3 918.7h0M389.3 921.2h0M389.4 924.1h0M389.4 926.7h0M389.3 933.6h0M389.3 936.1h0M389.3 939.7h0M389.4 941.6h0M389.4 946.6h0M389.3 949.6h0M389.3 952.5h0M389.3 955.6h0M389.4 964.1h0M390.5 910.6h0M390.5 913.7h0M390.5 916.2h0M390.6 919.1h0M390.6 929.6h0M390.5 939.7h0M390.5 941.6h0M390.5 946.1h0M390.6 952.5h0M390.6 955.1h0M390.5 964.1h0M390.5 966.5h0M390.5 969.1h0M391.7 736.8h0M391.7 743.9h0M391.7 746.4h0M391.7 752.4h0M391.8 755.4h0M391.7 758.4h0M391.7 761.4h0M391.7 764.3h0M391.7 766.4h0M391.8 769.6h0M391.7 775.7h0M391.7 777.7h0M391.7 793.1h0M391.7 797.5h0M392.8 674.5h0M392.8 679.3h0M392.9 682.5h0M392.9 685.5h0M392.9 688.5h0M392.8 691.5h0M392.8 694.5h0M392.9 696.5h0M392.9 701.5h0M392.9 703.9h0M392.8 710h0M392.8 712.9h0M392.9 724.5h0M392.9 726.4h0M392.9 766.9h0M394.1 708.4h0M394.1 710.5h0M394.2 718.4h0M394.2 721.4h0M394.2 724.5h0M394.1 727.4h0M394.1 730.4h0M394.2 733.4h0M394.2 739.4h0M394.2 744.4h0M394.1 747.4h0M394.1 751.4h0M394.2 756.9h0M394.2 796.4h0M394.2 825.9h0M394.1 834.4h0M396.4 603.1h0M396.4 609.3h0M396.5 615.3h0M396.5 619.9h0M396.5 628.4h0M396.4 640.4h0M396.4 648.9h0M396.5 652.4h0M396.5 655.4h0M396.5 657.9h0M396.4 660.9h0M396.4 663.9h0M396.5 682.4h0M396.5 753.9h0M397.6 601.3h0M397.6 620.9h0M397.6 674.4h0M397.6 692h0M397.7 716.9h0M400 697.7h0M400 703.4h0M400 706.5h0M400.1 719.5h0M400.1 726.4h0M400 729.4h0M400 732.5h0M400 734.9h0M400.1 741.4h0M400.1 744.4h0M400 751.4h0M400 756.4h0M401.2 769.4h0M401.2 773.5h0M401.2 776.5h0M401.3 779.5h0M401.3 782.4h0M401.2 788.5h0M401.2 791.4h0M401.2 794h0M401.3 797h0M401.3 805.4h0M401.2 821.9h0M401.2 830.4h0M402.3 797h0M402.3 823.4h0M402.4 826.4h0M402.4 832.4h0M402.4 839.9h0M402.3 843.4h0M402.3 850.5h0M402.4 867.3h0M402.4 871.5h0M402.4 887h0M405.9 791.1h0M405.9 921.8h0M405.9 930.8h0M405.9 933.2h0M406 943.3h0M406 967.4h0M408.3 907.5h0M408.3 911.7h0M408.3 921.8h0M408.3 935.6h0M408.4 938h0M408.3 944h0M408.3 950h0M408.3 959h0M408.3 961.9h0M408.4 966.1h0M411.9 778.2h0M411.9 917.9h0M411.9 948.5h0M413.1 939.7h0M413.1 950.6h0M413.1 952.5h0M413.1 954.1h0M413.2 959.6h0M413.1 967.1h0M414.2 809.3h0M414.2 868.5h0M414.3 872.1h0M414.3 941.1h0M414.3 951.1h0M414.2 953.6h0M414.2 959.1h0M416.6 921.2h0M416.6 924.1h0M416.7 930.7h0M416.7 939.7h0M416.7 967.1h0M419 895.7h0M419 899.2h0M419 907.7h0M419.1 910.2h0M419.1 911.7h0M419 918.7h0M419 935.2h0M419 938.6h0M419.1 941.6h0M419.1 944.2h0M419 962.6h0M420.2 916.7h0M420.2 918.7h0M420.2 924.6h0M420.3 927.2h0M420.3 929.1h0M420.2 937.1h0M420.2 943.1h0M420.2 945.6h0M420.3 948.1h0M420.3 951.1h0M421.3 916.2h0M421.3 920.6h0M421.4 931.6h0M421.4 938.6h0M421.4 941.6h0M371.4 855.8h0M196 572.4h0M220.1 572.8h0M250 573.1h0M250 584.3h0M179.6 636.9h0M193.7 641.7h0M270.7 535h0M268.1 540.5h0M305 551.9h0M311.1 559.3h0M319.1 566.7h0M282.8 566.9h0M281 574.5h0M282.8 575.5h0M314.7 576.9h0M279 584.3h0M347.6 584.3h0M281.4 591.2h0M305 593.3h0M305 596.2h0M305 599.1h0M252.9 609.5h0M347.6 620.2h0M342.9 637.6h0M280.1 641.3h0M268.1 649h0M310.9 648.1h0M425.9 586.1h0M236.2 659.9h0M212.7 670.5h0M238.6 670.5h0M213.9 680.4h0M213.9 688.4h0M215 693.9h0M213.9 698.2h0M214.4 703.3h0M227.9 699.8h0M250 692.7h0M242.1 708.6h0M250 708h0M204.2 713.5h0M201.9 720.5h0M171.2 725.2h0M173.8 730.8h0M176.1 733.8h0M180.8 734.7h0M157 737.9h0M210.1 727h0M221 730.8h0M245.8 732.3h0M194.9 740.5h0M245.8 743.1h0M248.2 742h0M153.3 749h0M155.6 749.6h0M194.9 750.7h0M140.4 754.6h0M233.5 753.9h0M177.9 742h0M255 653.8h0M314.7 652.9h0M314.7 655h0M300.3 656.8h0M282.5 662.6h0M284.8 664.6h0M270.5 673h0M342.9 673.6h0M305 679.5h0M310.9 679.5h0M279.9 685.5h0M314.4 686.1h0M266.1 688.6h0M268.1 691.3h0M277.6 693.1h0M281.7 693.1h0M255.3 698.4h0M263.4 698.4h0M268.2 701.5h0M281.6 700.7h0M314.4 700h0M266.9 708.9h0M314.4 707h0M314.4 710.3h0M314.4 712.3h0M322.9 710.3h0M324.1 712.1h0M319.1 714.7h0M324.1 716.2h0M326.4 717h0M352.6 714.7h0M262.2 720h0M281.1 715h0M278.8 718.8h0M283.9 719.9h0M324.1 721.4h0M314.7 723.4h0M280.2 727.3h0M324.1 727.7h0M246.2 732.2h0M314.7 733.8h0M281.6 734.7h0M281.6 737.9h0M314.7 739h0M310.9 741.7h0M314.7 743.7h0M300.1 742.5h0M300.1 747.6h0M281.3 743.7h0M280.2 746.1h0M246.2 743.1h0M247.9 742h0M268.4 749.9h0M280.2 751.9h0M281.6 755.4h0M315.3 750.2h0M315.3 752.5h0M324.1 753.1h0M324.1 757.2h0M274.3 755.4h0M264.9 756.6h0M272 758.6h0M315.3 756.6h0M428.2 702h0M424.9 712.2h0M429.5 738.9h0M424.9 754.7h0M424.9 758h0M426.2 769.9h0M428.2 769.9h0M140.8 840.7h0M140.8 769.8h0M140.9 784.3h0M140.7 790.4h0M143 848.3h0M142.9 864.2h0M145.3 890.3h0M145.6 875.7h0M145.5 824.7h0M151.3 877.7h0M151.2 808.4h0M151.2 784.3h0M151.5 833h0M151.3 846.7h0M151.5 783.9h0M151.5 799.9h0M151.2 795.9h0M152.6 798.7h0M152.8 874.7h0M152.4 728.5h0M152.5 821h0M152.8 809.6h0M152.5 840.9h0M152.7 807.7h0M152.4 803.4h0M152.5 824.7h0M152.6 856.6h0M152.8 876.6h0M152.5 814.9h0M155 815.3h0M154.9 808.7h0M154.9 801h0M154.8 806.4h0M154.9 847.6h0M154.8 874.9h0M154.9 854.7h0M154.8 967.8h0M154.9 811.3h0M155 788h0M155 789.5h0M154.9 801.8h0M154.9 854.5h0M155.1 858h0M156.3 818.8h0M156.2 827.7h0M156.3 831.1h0M156.1 830.9h0M156 792.3h0M156 808.1h0M156.3 860.4h0M156.2 843.8h0M156.3 816.7h0M155.9 944.5h0M157.3 854.6h0M157.5 854.8h0M157.4 840.7h0M157.4 810.7h0M157.3 877.1h0M157.2 783.1h0M157.3 849.5h0M157.2 787.4h0M157.3 830.3h0M157.3 816h0M157.4 844.1h0M157.1 821h0M159.7 887.6h0M159.5 787.8h0M159.5 822.5h0M159.7 774.4h0M159.5 827.8h0M162.1 821.7h0M162.1 880.4h0M169.4 770.8h0M169.2 777.4h0M169.1 789.3h0M169.3 773.7h0M169.3 775.1h0M169.1 762.8h0M169.3 765.5h0M169 771.3h0M169.1 820.5h0M169.1 795.3h0M169.2 755.2h0M169.3 786.3h0M169.3 760.1h0M169.3 820.2h0M170.4 811.9h0M170.2 821.4h0M170.4 772.3h0M170.3 799.2h0M170.3 862.4h0M170.4 753.1h0M170.2 823.5h0M170.4 796.3h0M170.3 766.2h0M170.2 780.8h0M170.2 797.9h0M170.3 746.7h0M170.3 784.9h0M170.3 763.6h0M170.5 791.6h0M170.4 788.2h0M170.5 776.5h0M170.2 792.3h0M170.4 772.7h0M170.6 783.1h0M171.4 790.3h0M171.5 821.1h0M171.6 765.7h0M171.6 806.9h0M171.8 772.9h0M171.8 904.9h0M171.4 766.2h0M171.7 796.6h0M171.7 825h0M171.5 801.2h0M171.6 771.1h0M171.7 787.4h0M171.5 796.2h0M172.6 761h0M172.6 790.8h0M172.6 745.2h0M172.8 845.4h0M172.7 791.5h0M172.8 782.4h0M172.7 821.6h0M172.9 774.3h0M172.7 795.5h0M172.8 775.1h0M172.7 786.4h0M172.7 821.8h0M172.7 766.3h0M172.9 766.9h0M172.9 777.5h0M172.9 821.3h0M172.8 788h0M173 815.9h0M172.9 886.6h0M172.7 851.1h0M172.7 791.2h0M172.7 812.2h0M173.9 802.6h0M173.9 776.4h0M174 796.3h0M173.8 792.5h0M174 809.1h0M173.9 819.1h0M174 796.2h0M173.9 784.8h0M174 790.8h0M173.8 796.4h0M173.8 784.8h0M174 773.2h0M173.9 854.8h0M174.1 785h0M173.8 794.5h0M174.1 805.9h0M174 787.4h0M174.1 841.7h0M173.8 794.5h0M174.2 787.9h0M174.1 779.6h0M173.8 836.4h0M173.8 794h0M174 773.6h0M173.8 804.6h0M174 805.3h0M173.8 807.4h0M173.9 832.4h0M175.3 776.3h0M175.2 750.6h0M175.2 766.5h0M175.1 765.4h0M175.3 814.3h0M175.3 792.4h0M175.3 758h0M175 786.4h0M175 747.4h0M175 808.7h0M175 797.1h0M175.3 950.7h0M175 762.8h0M175 900h0M175 789.8h0M175.1 769.5h0M175.3 807.1h0M175 732.6h0M177.3 794.1h0M177.4 815.1h0M178.5 769.6h0M178.6 783.4h0M178.6 791.4h0M178.9 783.4h0M178.8 784.8h0M178.6 773.4h0M178.7 759h0M178.6 807.4h0M178.8 776.2h0M178.9 817.3h0M178.7 801.1h0M178.7 756.8h0M178.6 807.3h0M178.7 798.2h0M178.6 764.3h0M180.1 757.6h0M180 770.3h0M180.1 774.4h0M180.1 791.4h0M179.7 858.9h0M179.8 793.7h0M179.8 783.9h0M179.8 832.5h0M179.7 798.2h0M179.7 765.6h0M179.9 810.4h0M179.8 763h0M179.8 848.7h0M179.8 791h0M180 815.4h0M179.8 793.8h0M179.7 803.8h0M179.8 784.1h0M179.7 858.9h0M180.1 858.3h0M180 811.5h0M180.9 794.8h0M181.2 817.1h0M180.9 814.6h0M181.1 798h0M181 778.3h0M181.1 816.8h0M181.2 863.4h0M181.2 797.9h0M181.2 828.2h0M181.2 813.8h0M181.2 817.3h0M180.9 793.2h0M181.3 821.4h0M181.2 833h0M180.9 795.7h0M181.3 813.4h0M180.9 795.4h0M181.1 837h0M181.2 801.5h0M181 800.9h0M180.9 829.9h0M180.9 810.5h0M181 776.1h0M181 795.3h0M181.2 796.7h0M181.3 803.8h0M181.2 815.3h0M181.2 756.9h0M181 800.5h0M181.3 838h0M180.9 769.9h0M181 811.3h0M181.1 770.3h0M181.1 769.5h0M181 854.1h0M180.9 786.8h0M180.9 816.7h0M181.1 788.6h0M180.9 757.3h0M180.9 776.4h0M181.2 782.9h0M181.1 771.9h0M181.2 759.7h0M181 821h0M181.2 774.8h0M181.2 747.4h0M180.9 770.2h0M181 797.3h0M182.4 814.3h0M182.2 744h0M182.2 762.4h0M182.3 787.8h0M182.1 780.3h0M182.1 795.5h0M182.2 789.7h0M182.2 820.6h0M182.2 770.6h0M182.4 834.3h0M182.1 890.2h0M182.1 760.2h0M182.1 782h0M182.3 802.3h0M182.1 771.8h0M182.5 782.5h0M182.2 757.2h0M182.1 772.5h0M182.5 781.4h0M182.3 765.2h0M182.3 790.6h0M182.1 861.3h0M182.4 753.8h0M182.2 784.3h0M182.3 849.5h0M182.1 766.5h0M182.1 773.6h0M182.3 734.7h0M182.1 765.7h0M182.2 775.2h0M182.1 784.1h0M182.2 801.3h0M182.4 812.8h0M182.4 769.4h0M182.2 747.9h0M182.3 783.9h0M182.1 787.8h0M182.3 800.4h0M182.3 798.6h0M182.2 781.8h0M182.4 780.5h0M182.3 774.9h0M183.2 778.3h0M183.4 767.8h0M184.7 808h0M184.6 810.5h0M184.4 802.6h0M184.5 778.1h0M184.5 816.4h0M184.7 797.4h0M184.5 746.3h0M184.7 765.3h0M184.5 799.9h0M184.8 795.5h0M184.7 795.3h0M184.6 803.6h0M184.6 767.9h0M184.5 793h0M184.7 833.7h0M184.8 826.6h0M184.5 758h0M184.7 757h0M184.8 766.8h0M184.5 794.5h0M184.6 755.2h0M184.7 769.8h0M184.8 808.5h0M184.6 759.3h0M184.8 761.5h0M184.5 780.9h0M185.6 850.7h0M185.7 765.7h0M186 788.9h0M186 789.9h0M185.9 789.1h0M186 774.7h0M185.9 797.7h0M185.9 793.3h0M186 817.2h0M188.3 776.5h0M188 777.2h0M188.4 767.2h0M188.2 816.4h0M188.1 772.3h0M188.1 783.8h0M188.2 755.1h0M188 815.3h0M188.3 866.3h0M188.3 791.5h0M188.1 777.1h0M188.1 783.5h0M188.2 755.4h0M188.2 767.8h0M188.4 751.7h0M188.3 805.3h0M188.2 810.1h0M188.2 823.4h0M188.1 789.1h0M188.4 781h0M188.3 792.5h0M188.3 888.2h0M188.3 782.7h0M188.1 811.5h0M189.3 772.7h0M189.4 734.4h0M189.5 784.3h0M189.3 770.2h0M189.2 803.8h0M189.3 774.6h0M189.3 769.7h0M189.5 806h0M189.6 785.2h0M189.2 760.7h0M189.2 772.8h0M189.5 815h0M189.5 769.8h0M189.2 776.8h0M189.6 752.3h0M189.2 783.3h0M189.4 830.4h0M189.3 808h0M189.5 772.1h0M189.4 776.7h0M189.3 780.8h0M189.2 769.7h0M189.5 769.7h0M189.3 757.5h0M189.2 785.4h0M189.3 770.5h0M190.6 786.9h0M190.5 782.2h0M190.5 758.4h0M190.5 805.1h0M190.5 832.2h0M190.7 740.3h0M191.8 769.3h0M192 827.2h0M191.6 845.3h0M191.7 788.3h0M191.7 775.5h0M191.8 806.2h0M191.8 819.4h0M191.8 822.6h0M191.9 797.2h0M191.8 822h0M191.8 810.3h0M191.9 788.7h0M191.9 792.9h0M191.8 792.7h0M191.9 789.4h0M191.7 774.2h0M192 776.4h0M191.6 806.3h0M191.9 769.8h0M191.8 785.9h0M191.7 822h0M195.4 812.9h0M195.4 776.5h0M195.3 780.7h0M195.1 770.6h0M195.2 764.6h0M195.3 834.1h0M195.1 776.3h0M195.4 807h0M195.2 798.2h0M195.2 784h0M195.4 766h0M195.5 777.5h0M195.1 789.4h0M195.2 814.6h0M195.2 829.8h0M195.5 800.7h0M195.2 763.4h0M195.3 763.4h0M195.1 771.6h0M195.3 816.3h0M195.5 789h0M195.1 807.6h0M195.3 769.9h0M195.3 799.7h0M195.2 799.9h0M195.2 778.5h0M195.5 774.2h0M196.6 765.6h0M196.4 796.5h0M196.3 815.8h0M196.6 820.4h0M196.4 873h0M196.4 806h0M196.5 780.5h0M196.5 824.4h0M196.4 810h0M196.5 778.2h0M196.5 771.4h0M196.5 826.2h0M196.3 854.2h0M196.4 779.5h0M196.4 781.7h0M196.6 807.7h0M149 887.4h0M149.2 914.8h0M148.9 898.3h0M149 878.5h0M149 890.2h0M148.8 964.1h0M148.8 891.7h0M149.2 881.2h0M149 944.8h0M152.5 820.8h0M152.4 968.2h0M152.6 910.1h0M152.5 918h0M152.7 834.8h0M152.8 844.1h0M153.6 864.9h0M153.8 885.2h0M154.9 872.4h0M155.1 849.5h0M154.8 918.7h0M155 837h0M154.9 912.6h0M154.8 860.4h0M154.9 864.1h0M162.2 892.6h0M162 861.3h0M162 960.8h0M162.1 856.6h0M167.9 876.6h0M167.9 849.7h0M169.4 811.8h0M169.1 859h0M169.2 945.7h0M169.3 876.9h0M172.6 899.2h0M172.8 906.1h0M172.6 851.9h0M173 914.5h0M173.9 860.3h0M173.8 923.8h0M174 883.5h0M173.8 883.6h0M174.1 926h0M175.2 931.6h0M175.3 828.9h0M175.2 927.5h0M175.2 774.7h0M175.1 877h0M175.3 900.9h0M175.3 841.5h0M175.2 850.4h0M179.7 875.2h0M180 860h0M185.9 940.2h0M186 813.2h0M186 846.2h0M185.6 887.1h0M186 907.2h0M186 927h0M188.1 890.9h0M191.9 866.6h0M191.9 873.1h0M193.1 944.6h0M196.4 911.7h0M196.5 924.3h0M196.5 851h0M196.6 894.5h0M196.3 861.1h0M201.3 781.7h0M201.1 788.6h0M201.1 788.9h0M201.1 743.4h0M201.4 768.8h0M201.3 756h0M201.2 743.6h0M201.1 750.3h0M201.4 792.7h0M201.1 772.8h0M201.3 795.7h0M201.1 768.6h0M201.2 744.6h0M201.3 780.6h0M201.1 752.7h0M201.3 727.8h0M201.4 710.5h0M201.1 828.2h0M201.2 777.8h0M201.4 821.8h0M201.5 769.5h0M201.3 716.8h0M201.4 762.3h0M201.4 804.6h0M201.4 773.4h0M201.2 819.3h0M201.1 813.1h0M201.2 718.3h0M201.3 782.4h0M201.4 799.3h0M201.1 774.9h0M201.2 781.2h0M201.3 739.5h0M201.1 766.5h0M201.1 711h0M201.1 825.7h0M201.2 744.2h0M201.2 852.8h0M201.2 816.4h0M201.1 709h0M201.2 722.8h0M201.3 812.6h0M201.1 856.9h0M201.2 745.4h0M201.2 752.1h0M201.4 753.2h0M201.3 805.6h0M201.2 768.9h0M201.3 744.6h0M201.2 827.7h0M201.4 768.5h0M202.3 749.8h0M202.6 837.5h0M202.6 891.3h0M202.3 835.7h0M202.6 821.4h0M202.5 740h0M202.3 812.5h0M202.4 751.9h0M202.5 799.2h0M202.3 781.6h0M202.6 855.2h0M202.4 800.8h0M202.6 769.6h0M203.7 755.8h0M203.7 712.6h0M203.5 754.9h0M203.5 763.9h0M203.8 798.9h0M203.7 853.8h0M203.7 831.8h0M203.8 812.1h0M203.6 753.9h0M203.7 769.9h0M203.6 864.4h0M203.6 801.3h0M203.6 748.5h0M203.5 836.4h0M203.5 748h0M206 738.4h0M206 703.6h0M206.2 734.4h0M206.1 761h0M206.2 810.7h0M207.2 788h0M207.3 824.4h0M207.2 795.8h0M207.1 859.3h0M207.2 732.6h0M207.3 833.1h0M207.3 826.2h0M207.1 802.4h0M207.3 734.1h0M207.1 749h0M207.2 796.9h0M207.1 745.8h0M208.4 817.5h0M208.6 722.8h0M208.4 749.9h0M208.2 794h0M208.3 724.7h0M208.4 741.7h0M208.3 841.2h0M208.3 746.9h0M208.2 756.5h0M208.6 774h0M208.2 791.7h0M208.5 739.5h0M208.5 765.8h0M208.4 744.2h0M208.6 742.1h0M208.2 789.5h0M208.4 873.4h0M208.4 739.4h0M208.6 753.4h0M208.6 791.1h0M208.3 772.6h0M208.2 743.4h0M208.4 765.1h0M208.4 787.2h0M208.2 837h0M208.6 763.3h0M208.6 738.8h0M208.5 753.5h0M208.5 700.4h0M209.7 735.6h0M209.8 832.4h0M209.6 806.6h0M209.6 757.3h0M209.6 835.8h0M209.5 794.9h0M209.4 755.8h0M209.5 845.9h0M209.4 752.1h0M209.4 875h0M209.7 731.8h0M209.6 754.3h0M209.5 771.2h0M209.4 747.2h0M209.5 713.9h0M209.8 762.6h0M209.6 792.6h0M209.5 814.6h0M209.4 746.5h0M209.5 772.3h0M211.9 738.9h0M212 772.7h0M212.1 758.8h0M211.8 779.7h0M212.1 784.7h0M212.1 821.2h0M211.8 839.8h0M211.9 786.9h0M212.1 840.4h0M212.1 816.8h0M212.1 751.1h0M211.8 830h0M212.1 807.7h0M211.8 794.4h0M211.9 900.9h0M213.2 743.5h0M213 749.1h0M213.2 855.1h0M213.2 822.6h0M213 793.9h0M213.3 747.8h0M213.2 750.9h0M213.1 810.9h0M213.2 869.9h0M213 749.9h0M213.2 733.6h0M213.3 734.3h0M213.2 738h0M213.3 784h0M213 742.8h0M213.1 783.2h0M213.2 757.1h0M212.9 885.9h0M213.2 739.6h0M213.2 759.5h0M213 758.1h0M213 817.2h0M213.2 748.3h0M213.2 738h0M213.1 853.6h0M213 746.2h0M213.2 734.9h0M213.3 835.7h0M213.2 887.5h0M213 752.7h0M213.1 747.7h0M215.4 756.8h0M215.4 748.4h0M215.6 817h0M215.5 873.8h0M215.6 778.9h0M215.3 734.5h0M215.6 763.3h0M215.5 766.3h0M215.4 752.2h0M215.4 726h0M215.4 769.4h0M215.4 768.3h0M215.4 788.6h0M215.5 800.5h0M215.6 752.5h0M215.7 810.1h0M215.4 767.6h0M215.3 838.9h0M215.6 816.7h0M215.3 728.7h0M215.5 768.5h0M215.5 758.7h0M215.4 783h0M215.4 796.1h0M215.4 754.9h0M215.4 808h0M215.6 859.2h0M215.4 741.9h0M215.4 839.4h0M215.6 865.9h0M215.6 756.1h0M215.4 750.5h0M216.8 754.1h0M216.8 746.7h0M216.9 695.4h0M216.8 780.4h0M216.8 821.9h0M216.9 784.5h0M216.8 723.3h0M216.5 734h0M216.5 888.1h0M216.9 737.6h0M216.7 821.9h0M216.8 777.7h0M216.6 919.6h0M216.6 804.9h0M216.6 811h0M216.6 782h0M216.8 757.9h0M216.8 712.9h0M216.6 750.9h0M216.7 777.7h0M216.6 821h0M216.8 840.9h0M216.8 889.1h0M216.8 810.4h0M216.8 922.5h0M216.8 771.1h0M216.7 795.6h0M216.5 773.1h0M216.5 766.8h0M216.7 758.2h0M216.5 760.9h0M216.8 871.1h0M216.7 778.5h0M216.7 760.5h0M216.7 724.3h0M216.8 765.2h0M216.9 785.2h0M216.7 953h0M216.7 744.3h0M218 789.6h0M217.8 784.8h0M218 800.8h0M217.8 767.3h0M218 752h0M217.7 777.2h0M218 763.1h0M217.8 745.2h0M218 756.3h0M218.1 740.6h0M217.8 753.1h0M218 756.2h0M217.9 800.6h0M217.9 805.5h0M218 717.1h0M217.8 725.4h0M217.8 767.1h0M218 759.5h0M217.8 738.5h0M217.7 757.7h0M217.8 758.6h0M217.8 785.7h0M218 757h0M217.8 820.1h0M218 792h0M217.9 744.2h0M217.7 746h0M218 807.1h0M217.8 928.4h0M218 744.3h0M217.7 745.9h0M217.7 763.6h0M217.7 754h0M217.8 758.2h0M217.9 741h0M218 790.8h0M217.8 738.2h0M217.7 786.7h0M217.8 755.9h0M217.8 736.7h0M218 795.3h0M218.1 746.6h0M217.7 826.5h0M218 751.2h0M218 727h0M217.9 796.2h0M217.9 750.8h0M217.9 888.1h0M217.8 768.3h0M217.7 718h0M217.9 761.4h0M219.2 786.1h0M219.1 795.2h0M218.9 834.9h0M219.2 771.1h0M219.1 771.7h0M219.1 815.3h0M218.9 903.2h0M219.2 813.8h0M219.2 789.4h0M219 755.8h0M218.9 777.5h0M219.1 795.9h0M218.9 752.5h0M218.9 786.3h0M219.3 805.5h0M219.1 744.6h0M219 877.3h0M218.9 795.8h0M219.2 773.3h0M219 817.7h0M219 749.4h0M219.1 829.1h0M219.2 766h0M219.2 841.5h0M219.1 853.7h0M219.1 760.8h0M219 806.8h0M219 842.8h0M220.3 869.7h0M220.2 792h0M220.4 753.8h0M220.3 948.3h0M220.3 808h0M220.2 753.3h0M220.3 755.2h0M220.2 715.4h0M220.3 756.7h0M220.4 782.7h0M220.3 755.8h0M220.2 752.9h0M220.4 793.9h0M220.2 761.3h0M220.4 866.9h0M220.4 738.9h0M220.5 758.8h0M220.1 817h0M220.2 843.5h0M220.4 763.4h0M220.2 816.1h0M221.6 733.2h0M221.4 733.8h0M221.6 766.2h0M221.5 851.3h0M221.3 800.4h0M221.5 831.5h0M221.6 734.6h0M221.3 772.4h0M221.3 759.8h0M221.6 767.4h0M221.6 768h0M221.4 787.3h0M221.5 816h0M221.4 852.2h0M221.3 763.5h0M221.3 814.2h0M221.6 750.8h0M221.6 756.9h0M221.5 756h0M221.6 839h0M221.5 833.6h0M221.6 787.3h0M222.8 800h0M222.7 787.1h0M222.7 731.5h0M222.5 833.3h0M222.8 740.7h0M222.8 788.3h0M222.7 781.6h0M222.8 756.8h0M222.5 726.9h0M222.8 771.6h0M222.5 869.5h0M222.7 751.1h0M222.5 809.7h0M222.6 809.7h0M222.6 780.1h0M222.8 791.1h0M222.5 873.9h0M222.4 735.2h0M222.4 757.8h0M222.4 789.3h0M222.7 741.6h0M222.5 902.5h0M222.5 729h0M222.5 730.1h0M222.7 752.6h0M222.5 725.1h0M222.6 806h0M222.6 790.9h0M222.7 793.1h0M222.4 756.3h0M222.5 785.4h0M228.6 850.1h0M228.4 908.9h0M228.5 911.7h0M228.7 875.2h0M228.4 962.5h0M228.7 905h0M228.5 884.4h0M228.5 884.8h0M228.5 877h0M228.4 897.7h0M228.6 863.6h0M228.7 929h0M228.8 866.6h0M228.7 828.4h0M228.4 847h0M228.7 943.2h0M228.5 937.2h0M228.6 849.4h0M228.6 906.6h0M228.5 905.2h0M228.8 910h0M228.4 861h0M228.5 936.9h0M228.4 917.6h0M228.4 879.5h0M228.4 965.7h0M228.6 875.5h0M228.7 904.5h0M228.4 890.9h0M229.6 845h0M229.7 855.2h0M229.6 893.3h0M229.6 862.9h0M229.9 904.6h0M229.6 898.9h0M229.9 947.9h0M229.9 932.1h0M229.7 832.6h0M229.7 844.5h0M229.7 859.1h0M229.7 800.5h0M229.7 833.4h0M229.6 957.2h0M229.6 884.2h0M229.6 854.3h0M229.9 873h0M229.6 860.1h0M229.9 899.6h0M229.6 908.5h0M229.8 848.5h0M229.8 881.8h0M229.9 911.9h0M229.7 932h0M229.8 914.5h0M229.8 829.7h0M229.7 917.6h0M229.9 812.3h0M229.7 873.6h0M229.6 882.2h0M229.6 827.6h0M229.8 853.3h0M229.9 875.1h0M231.1 873.2h0M230.8 921h0M231.1 892.3h0M231.1 891.4h0M230.8 876.1h0M230.9 925.5h0M230.8 900h0M231.1 914h0M230.8 868.7h0M230.8 857.6h0M231.1 868.4h0M230.7 866.1h0M230.9 928.6h0M231.1 899.1h0M231.1 921h0M231 876.1h0M230.9 905.7h0M230.9 849.9h0M230.9 879h0M231 873.5h0M230.8 839.1h0M231 818.6h0M230.8 967.7h0M231 955.7h0M231.1 859.5h0M230.8 931.3h0M231 859.3h0M232 824.5h0M232 870.9h0M232.3 845.6h0M232.2 852.9h0M232.1 881.8h0M232.2 877.7h0M232.1 908.8h0M232 905.1h0M232.1 937.3h0M231.9 880.4h0M232.2 877.8h0M232.2 905.3h0M232 909.3h0M232 886.7h0M232.2 890.2h0M232 878.9h0M232 879.9h0M232 873.1h0M232.3 923.6h0M232.1 905h0M231.9 885.6h0M231.9 894.4h0M232.1 953.5h0M232.1 884.5h0M231.9 932.3h0M232.2 917.6h0M232 903.9h0M232.3 880h0M232 930h0M232.2 941.9h0M232.1 843h0M232.2 830.6h0M232.3 922.1h0M232.2 882.1h0M232.3 834.6h0M232 933.2h0M231.9 879.4h0M232 883.7h0M232.1 823.5h0M232.1 851h0M232.3 866.2h0M232 946.4h0M232.2 935.6h0M232.2 853.7h0M232.2 865.4h0M232.2 877h0M232.3 876.6h0M232.3 876.8h0M232.2 947.8h0M232.3 953.3h0M232.3 920.5h0M232.3 898.7h0M232 863.3h0M232.1 919.1h0M232 891.7h0M232 887.3h0M232.1 862.4h0M232 847.7h0M232.1 894h0M232.2 879.1h0M232.2 889.9h0M232.1 958.6h0M232.2 937.8h0M232.3 896.3h0M232.2 872.7h0M231.9 873.2h0M232 933.7h0M232.1 882h0M232.1 879.2h0M232.1 888.8h0M232.3 909.7h0M232.1 859.2h0M232.3 827.5h0M232.2 913.7h0M232.1 867.4h0M232.2 845.1h0M232.1 887.5h0M231.9 919.9h0M232.2 904.5h0M232 932.4h0M232 899h0M232 865.4h0M232.1 872.2h0M231.9 887.3h0M232.2 911.8h0M231.9 896h0M232.2 846.8h0M233.4 870.7h0M233.5 888.9h0M233.1 920.3h0M233.3 923.9h0M233.3 861.6h0M233.4 843.5h0M233.3 889.6h0M233.5 928.6h0M233.2 850.3h0M233.4 900.5h0M233.1 940.3h0M233.3 928.4h0M233.5 852.9h0M233.3 842.9h0M233.3 881.6h0M233.3 872.9h0M233.3 925.6h0M234.5 925.9h0M234.5 861h0M234.7 878.1h0M234.4 859.7h0M234.7 881.8h0M234.6 893h0M234.5 849.9h0M234.6 880.6h0M234.4 873.8h0M234.4 895.3h0M234.5 865.8h0M234.5 866.4h0M234.3 902.7h0M234.5 893.3h0M234.3 844.1h0M234.7 829.8h0M234.6 907.6h0M234.5 880.9h0M234.3 962h0M234.4 914.3h0M234.5 843.3h0M234.4 932.6h0M234.7 892.4h0M234.5 873.4h0M234.4 792.8h0M234.5 827.2h0M234.3 859h0M234.6 864.8h0M234.4 859.9h0M234.6 928.8h0M234.4 814.6h0M234.4 855.1h0M234.4 913.4h0M234.7 904.9h0M234.4 846.4h0M234.7 859h0M234.5 797.1h0M234.5 863.3h0M234.5 884.7h0M234.4 917.9h0M234.4 867.2h0M234.5 896.6h0M234.5 853.9h0M234.4 905.6h0M234.5 835.6h0M234.7 833.2h0M234.6 810.7h0M234.7 830.1h0M234.4 891.3h0M234.5 888.9h0M234.6 919.1h0M234.6 876.9h0M234.5 790.5h0M234.5 840.2h0M234.3 876.6h0M234.5 877.9h0M235.5 844.2h0M235.5 948.5h0M235.8 965.4h0M235.7 866.3h0M235.5 881.3h0M235.6 919.7h0M235.8 893.8h0M235.6 879.6h0M235.7 871.6h0M235.8 964.6h0M235.7 920.9h0M235.6 893.1h0M235.8 944.8h0M235.8 909.3h0M236.9 852.9h0M236.7 798h0M236.9 881.3h0M236.9 818.4h0M237 860.2h0M236.8 829.9h0M237 850.8h0M236.8 945.2h0M237 891.7h0M237 775.8h0M237 906.9h0M236.8 879.8h0M237 886.9h0M237 865.4h0M236.7 834.7h0M236.8 823h0M237 874.3h0M236.8 867.4h0M236.9 885.7h0M237 879.5h0M236.7 821.8h0M237 889.3h0M236.7 904.8h0M236.8 865.8h0M237 856.9h0M236.8 862.7h0M237.1 849.9h0M236.8 811.3h0M236.8 864.7h0M236.9 943.6h0M236.8 866.7h0M236.9 857.7h0M237 850.9h0M237.9 833.3h0M238.3 884.4h0M238.1 808.6h0M238.1 869.8h0M237.9 884.5h0M237.9 906.7h0M237.9 838h0M238 863.3h0M238 889.7h0M238 844.7h0M238.2 875h0M238.2 830.1h0M238.2 863h0M238.2 841.8h0M238.2 914.8h0M238.2 861.6h0M238 867.2h0M238 839.6h0M238.1 838.9h0M238.2 937.2h0M238.1 931.1h0M240.6 922h0M240.6 878.2h0M240.5 886.5h0M240.3 929.2h0M240.5 867.3h0M240.6 933.4h0M240.4 889.8h0M240.4 885.5h0M240.4 813.4h0M240.4 867h0M240.5 911.4h0M240.4 890.8h0M240.6 969.2h0M240.5 878.3h0M240.3 902.1h0M240.4 819.3h0M240.3 879.4h0M240.4 911.3h0M240.5 913.6h0M240.6 958.1h0M240.6 849.6h0M240.6 929.5h0M240.6 959.2h0M240.4 898.3h0M240.5 880.1h0M240.4 883h0M240.4 880.6h0M240.3 908.2h0M240.3 880.2h0M240.6 905.7h0M240.5 917.4h0M240.3 911.1h0M240.3 896.8h0M240.3 863.2h0M240.4 891.8h0M240.3 919h0M240.5 832.7h0M240.5 847.4h0M240.4 933h0M240.5 908.5h0M240.5 908.3h0M240.6 939.8h0M240.6 879h0M240.4 845.7h0M241.4 906.6h0M241.7 856.4h0M241.5 892.5h0M241.7 847.2h0M241.7 875.5h0M241.7 902.8h0M241.6 847.7h0M241.5 843h0M241.6 845.4h0M241.6 849.4h0M241.5 841.2h0M241.7 872.3h0M241.7 881h0M241.7 837.6h0M241.8 930.3h0M241.8 847.2h0M241.7 876.2h0M241.5 836.3h0M241.8 904.9h0M241.6 899.3h0M241.6 845.1h0M241.8 795.7h0M241.5 825.6h0M241.4 792.7h0M241.5 946.4h0M241.5 859.1h0M241.8 890.1h0M241.5 896.9h0M241.7 866h0M241.5 812.6h0M241.5 861.1h0M241.6 872.6h0M241.8 813.1h0M241.7 910.6h0M241.7 855.5h0M241.6 839.2h0M241.7 855.9h0M241.7 959.4h0M241.7 878.1h0M242.9 897.4h0M242.8 875.1h0M242.6 886.4h0M242.8 907.6h0M242.8 892.2h0M242.9 873.7h0M243 898.9h0M242.6 861.9h0M243 940.5h0M242.8 906.9h0M242.6 897.1h0M242.7 913.2h0M242.6 880.1h0M243 833.8h0M242.9 887.3h0M242.7 890.2h0M242.7 829.9h0M242.9 864.8h0M242.8 822.9h0M242.7 851.6h0M244.1 873.6h0M244.2 818.1h0M243.9 887.4h0M244.2 826.8h0M244.1 831.1h0M243.8 948.4h0M243.9 839.3h0M244.1 867.2h0M244 886.7h0M244 779.8h0M244.1 863.9h0M243.9 881.7h0M243.9 932.8h0M244 879.6h0M244 938.8h0M244.1 846.9h0M243.9 841.8h0M243.9 834.7h0M244 870.9h0M243.9 826.5h0M243.9 884.9h0M243.8 835.8h0M244.1 856.6h0M244 899.5h0M243.9 908h0M244 861h0M244.2 839.7h0M244 888.8h0M243.9 879.3h0M244 858.2h0M243.9 931.2h0M244.1 859.5h0M243.9 900h0M243.9 834.6h0M244 848h0M244.1 792.1h0M244.1 874.6h0M244 884.8h0M243.9 861.6h0M243.9 895.3h0M244 835.3h0M244.2 928.6h0M243.8 920.9h0M243.9 866.2h0M244.2 841.9h0M243.9 829.3h0M244.1 852.2h0M244 841.9h0M243.9 839.8h0M243.8 867.9h0M244.1 862.4h0M244.2 846.8h0M244 854.1h0M244.1 849.7h0M243.9 828.1h0M244.1 874.1h0M244.2 897.6h0M244 867.8h0M243.9 849.4h0M244.2 834.1h0M243.8 901.2h0M245.1 900h0M245.1 934.4h0M245.4 842.4h0M245.2 881.6h0M245.4 810.1h0M245.3 839.6h0M245.1 903h0M245 867.5h0M245.3 881.3h0M245.1 940.7h0M245.2 877.9h0M245 929.1h0M245.3 892.2h0M245.2 902.8h0M245.3 898.4h0M245.3 907.5h0M245 862.8h0M245.1 876.9h0M245.3 885.7h0M246.5 829.1h0M246.6 873.5h0M246.4 865.5h0M246.4 869.8h0M246.3 901.4h0M246.3 830.6h0M246.3 860.6h0M246.5 852.6h0M246.5 885.5h0M246.3 843.1h0M246.4 819h0M246.4 866.3h0M246.4 878h0M246.3 812.1h0M246.2 882.5h0M246.5 865.9h0M246.3 851.2h0M246.6 898.9h0M246.3 822.5h0M246.4 900.9h0M246.4 898.8h0M246.5 805.2h0M246.4 884h0M246.3 930.8h0M246.4 855.2h0M246.2 917.6h0M246.4 871.9h0M246.2 836.7h0M246.5 854.8h0M246.5 853.9h0M246.4 872.8h0M246.3 890.8h0M246.5 854.7h0M246.6 821.4h0M246.4 943.3h0M246.2 830.9h0M246.4 867.4h0M246.4 814.8h0M247.5 841.1h0M247.8 920.9h0M247.6 860.2h0M247.6 909h0M247.4 854.7h0M247.6 940.1h0M247.4 880.9h0M247.5 891.6h0M247.7 893.6h0M247.5 866.8h0M247.6 894.2h0M247.4 885.2h0M247.4 877.4h0M247.4 929.4h0M247.4 889h0M247.6 943.1h0M247.6 946.7h0M247.7 896.6h0M247.6 878.5h0M247.6 916.3h0M248.7 911.8h0M248.7 895.1h0M249 841h0M248.9 890.2h0M248.8 899.9h0M248.8 891.6h0M248.9 892h0M248.8 933.1h0M248.6 906h0M248.8 876.9h0M248.6 832.8h0M248.6 897.3h0M248.9 921.5h0M248.6 835.4h0M248.7 857.2h0M248.8 855.7h0M248.6 812.9h0M249 910.1h0M248.9 951.6h0M248.7 968h0M248.9 865.9h0M248.8 813.2h0M248.7 880.3h0M248.7 848.8h0M248.9 910.7h0M248.6 870.1h0M248.6 848.1h0M248.6 835.3h0M248.6 890.1h0M248.8 796.8h0M248.8 865.6h0M248.6 898h0M248.8 869h0M248.8 845.6h0M248.9 899.1h0M248.7 865.1h0M248.7 852.8h0M248.6 864.2h0M248.7 846.2h0M248.9 797.2h0M248.6 862.2h0M248.6 907h0M248.6 865.4h0M249 891.5h0M248.6 876.4h0M249.9 926.4h0M250.1 937.5h0M250 900.8h0M250.1 793.5h0M249.9 824.8h0M250.1 834h0M249.9 893.5h0M250.1 843.1h0M250 898.8h0M250.1 901.9h0M250.1 925.4h0M252.4 899.6h0M252.2 928.1h0M252.4 893.3h0M252.1 859.6h0M252.5 930.7h0M252.4 852.5h0M252.3 907.7h0M252.3 859.4h0M252.1 895.7h0M252.4 903.9h0M252.5 934.5h0M252.3 894.1h0M252.4 846h0M252.2 864.2h0M252.4 910.3h0M252.4 838.4h0M252.1 884.6h0M252.4 917.9h0M252.5 897.5h0M252.3 876.7h0M252.5 912.5h0M253.7 854.1h0M253.7 856.1h0M253.5 826.9h0M253.4 878.2h0M253.5 877.9h0M253.4 863h0M253.6 893.3h0M253.6 922.3h0M253.4 911.5h0M253.4 855.4h0M253.5 877.2h0M253.5 843.7h0M253.3 870.1h0M253.6 855.7h0M253.4 841.3h0M253.6 897.4h0M253.3 885.1h0M253.5 920.8h0M254.6 845.2h0M254.9 889.5h0M254.7 883.9h0M254.7 874.5h0M254.8 868.8h0M254.5 901.8h0M254.8 801.5h0M254.8 810.6h0M254.9 856.3h0M254.6 947.8h0M254.9 859.6h0M254.8 860.6h0M254.7 835.2h0M254.8 861.1h0M254.8 909.8h0M254.8 927.8h0M254.6 852h0M256 929.1h0M255.8 933.6h0M255.7 916.5h0M256 893.4h0M255.8 863.5h0M255.9 885.8h0M256 882.9h0M256 848.6h0M256 925.9h0M256 919.1h0M255.7 925.5h0M255.9 880.2h0M256 858.3h0M256 892h0M255.8 901.3h0M256 909.1h0M255.8 936.7h0M255.8 841.5h0M255.8 939.2h0M255.7 912.5h0M256.1 869.9h0M255.8 944.3h0M256 885.6h0M255.8 933.5h0M255.9 858.1h0M255.7 895.6h0M257.1 919.5h0M256.9 851.2h0M257.2 827.5h0M257.2 921.6h0M257.1 895.1h0M257 882h0M257.2 865.5h0M257.2 812.5h0M257.3 836h0M257.1 933.7h0M257 880h0M257 812.9h0M256.9 861.2h0M257.1 889.3h0M257.1 948.5h0M257.2 885.2h0M257 856.3h0M257 852.4h0M257.2 848.4h0M257.2 901h0M257.3 916.7h0M257 950.7h0M257.3 892.4h0M258.2 880.1h0M258.4 896.4h0M258.2 934.1h0M258.4 870.1h0M258.3 850.3h0M258.3 842.2h0M258.1 898.7h0M258.4 862.9h0M258.3 838.4h0M258.3 861.6h0M258.1 831.4h0M258.2 900.5h0M258.4 943.1h0M258.1 891.9h0M258.4 962.3h0M258.3 885.7h0M258.3 903.8h0M259.6 914.3h0M259.3 940.6h0M259.3 877h0M259.5 904h0M259.3 925.1h0M260.6 830.6h0M260.4 962.4h0M260.8 867h0M260.5 860.2h0M260.6 822.2h0M260.7 872.8h0M260.8 782.3h0M260.7 856.9h0M260.5 921.7h0M260.7 846.4h0M260.6 837.8h0M260.7 932.9h0M260.7 861.7h0M260.6 896.6h0M260.7 897h0M260.5 851.1h0M260.5 874h0M260.5 908.3h0M260.5 926.7h0M260.6 852.8h0M260.8 873.6h0M260.7 872.7h0M260.8 871.3h0M260.7 794.5h0M260.8 943.3h0M260.6 943.3h0M260.8 842.1h0M260.8 840.4h0M260.8 868.6h0M260.8 933.1h0M260.5 908.1h0M260.6 859.9h0M260.7 902h0M260.6 864.9h0M260.4 842.6h0M260.5 915.7h0M260.6 906.9h0M260.8 814.8h0M260.8 920.4h0M260.5 778.3h0M260.5 892.6h0M260.7 898.2h0M260.8 875.2h0M260.7 946.8h0M260.7 938.6h0M260.5 908.3h0M260.7 933.8h0M260.8 890.7h0M260.8 775.3h0M260.8 819.4h0M260.8 842.6h0M260.8 911.9h0M261.8 944.2h0M261.7 897.9h0M261.6 840.7h0M261.9 894.2h0M261.7 913.2h0M262.9 857.6h0M262.9 912.6h0M263.1 910.8h0M262.8 882h0M262.8 878.5h0M263.1 895.7h0M263 870.6h0M263.1 920.3h0M263.1 887.6h0M263.1 892.4h0M262.9 883.5h0M262.9 864.5h0M262.9 846h0M263.2 889.8h0M263.2 863.2h0M263 862.6h0M263 881.2h0M263 903.2h0M262.9 834h0M262.9 954.7h0M262.8 905.7h0M263.2 970.4h0M263.2 810.3h0M263 902.9h0M262.9 901.1h0M262.8 850.3h0M263.2 951.8h0M262.9 834.2h0M264.2 863.8h0M264.3 853.7h0M264.2 889h0M264.3 946.9h0M264.4 903.7h0M264.3 878.1h0M264.1 875.5h0M264.3 861.8h0M264.3 845.7h0M264 844.7h0M264.2 918.4h0M264.1 848.9h0M264.2 856.1h0M264.2 873.6h0M264.3 821.9h0M264.3 922.2h0M264 898.7h0M264.2 884.3h0M264.3 903.9h0M264.2 795.9h0M264.2 915.7h0M264.3 801h0M265.4 883.3h0M265.4 897.8h0M265.4 893.3h0M265.3 920h0M265.4 942h0M265.2 880.4h0M265.5 905.9h0M265.3 923.2h0M265.2 847.9h0M265.6 888.3h0M265.5 896.6h0M265.3 875.1h0M265.3 867.9h0M265.5 943.1h0M265.2 908.1h0M265.6 866.4h0M265.6 871.9h0M265.2 890.7h0M265.6 931.4h0M265.2 881h0M265.2 867.2h0M265.4 889.5h0M265.3 954h0M265.3 910.5h0M265.4 862.7h0M265.4 841.9h0M265.4 861.7h0M265.4 829.5h0M265.6 903.4h0M265.5 904.4h0M265.4 899h0M265.4 877.8h0M265.5 958.5h0M265.2 885h0M265.4 864.7h0M265.5 850.1h0M265.5 874.7h0M265.5 865.3h0M265.2 814.6h0M265.2 922.5h0M265.4 884.4h0M265.2 895.3h0M265.6 859.2h0M265.5 874.1h0M265.4 870h0M265.3 925.2h0M265.6 870.1h0M265.4 828.1h0M265.2 791.7h0M265.3 840.6h0M265.2 894.1h0M265.4 830.7h0M265.3 844.9h0M265.3 851h0M265.2 915.5h0M265.4 891.7h0M265.4 854.6h0M265.5 929.5h0M265.5 904.5h0M265.5 876.3h0M265.6 855.9h0M265.6 892.3h0M265.5 881.4h0M265.4 942.2h0M265.5 957.7h0M265.5 919h0M265.4 841h0M265.5 927.8h0M265.3 863h0M265.3 852.4h0M265.6 898.7h0M266.6 879.8h0M266.7 874.7h0M266.6 860.9h0M266.4 909.7h0M266.5 911.2h0M266.8 814.6h0M266.8 869.3h0M266.5 870.6h0M266.6 858.8h0M266.8 828.3h0M266.5 943.3h0M266.4 898.5h0M266.5 908.6h0M266.6 869.8h0M266.7 875.7h0M266.4 882.7h0M266.6 936.3h0M266.7 891.4h0M266.7 857.6h0M266.5 880.5h0M266.4 886.8h0M266.5 893.2h0M266.6 903.1h0M266.5 929.3h0M266.5 902.8h0M266.7 930.2h0M266.5 918h0M266.6 929.6h0M266.8 912.1h0M266.4 886.7h0M266.4 903.9h0M266.6 908.8h0M267.6 833.6h0M267.8 842.5h0M267.6 925.5h0M267.7 865.5h0M267.7 892.6h0M267.6 836.3h0M267.7 883.5h0M267.9 877h0M267.9 919.1h0M267.9 829.3h0M267.8 901.5h0M267.8 923.5h0M267.9 854.2h0M267.8 848h0M267.6 821.8h0M267.7 877.4h0M267.6 881.8h0M267.7 954.8h0M267.7 900h0M267.8 878.4h0M267.6 852.5h0M267.8 910.4h0M267.8 894.1h0M267.6 932.6h0M267.6 854.7h0M267.8 878.8h0M267.8 887.9h0M267.6 871.8h0M267.6 819.7h0M267.7 929.9h0M267.6 934.7h0M267.9 930.8h0M267.9 893h0M267.8 857.9h0M267.6 820.7h0M268 857.3h0M267.6 901.6h0M267.8 865.5h0M268.8 944.7h0M268.9 914.2h0M269 858.4h0M269 860.4h0M269.1 887.2h0M268.8 893.2h0M269.1 890.4h0M269.1 855h0M269 870.4h0M268.8 863.8h0M269 863.4h0M268.9 962.6h0M269.1 857.6h0M268.8 823.1h0M268.9 896.4h0M269 874.6h0M269 874.6h0M269 891.9h0M268.9 851.1h0M269 889h0M268.9 887.3h0M269.1 850.4h0M269 828.9h0M269 854.2h0M269 935.9h0M269 891.7h0M269.1 874.9h0M269 836.7h0M268.9 937h0M268.9 883.4h0M269 952.6h0M268.9 887.9h0M269 916.9h0M268.9 908.8h0M268.8 855.4h0M268.8 877.6h0M269.1 920.3h0M269 878.6h0M268.9 933.2h0M268.9 863.1h0M268.9 855.9h0M268.8 900.9h0M269 892.5h0M269 921.4h0M271.3 875h0M271.2 964.9h0M271.3 838.3h0M271.4 819.8h0M271.3 860.3h0M271.2 922.1h0M271.3 868.4h0M271.3 872.3h0M271.5 851.5h0M271.3 866.8h0M271.2 862h0M271.4 894.5h0M271.2 915.1h0M272.7 850.5h0M272.5 902h0M272.4 865.3h0M272.5 846.5h0M272.4 794.3h0M272.3 915.9h0M272.4 911.7h0M272.7 818.8h0M272.6 825.6h0M272.6 883.3h0M272.4 891.3h0M272.7 938.4h0M272.3 827.1h0M272.3 893.3h0M272.7 850.2h0M272.4 851.6h0M272.4 919.1h0M272.7 876.1h0M272.4 941.8h0M272.4 950.5h0M272.3 854.8h0M272.4 880.9h0M272.6 900.6h0M272.5 873.5h0M272.7 954.6h0M272.5 868.6h0M272.4 848.1h0M272.6 826.4h0M272.5 851.1h0M272.3 930.2h0M272.4 858.6h0M272.7 885.9h0M272.3 943.7h0M272.6 905.3h0M272.4 904.8h0M272.4 888.5h0M272.5 939.3h0M272.5 924.3h0M272.4 870.4h0M272.6 895.3h0M272.4 858.1h0M272.6 915h0M273.8 876.3h0M273.9 877.9h0M273.5 860.7h0M273.9 853h0M273.6 800.3h0M273.9 816.2h0M273.5 943.1h0M273.6 863.5h0M273.6 915.3h0M273.8 927.8h0M273.6 891.6h0M273.7 843.6h0M273.5 937.8h0M273.6 914.5h0M273.5 881.4h0M273.7 851.6h0M273.9 849.5h0M273.8 842.4h0M273.8 919.1h0M273.6 881.3h0M273.7 878.7h0M273.8 865.8h0M273.9 875.4h0M273.7 866.9h0M273.9 857.6h0M273.9 860.9h0M273.8 853.4h0M273.7 828.3h0M273.8 821.2h0M273.8 887.6h0M273.7 870.8h0M273.6 886.5h0M273.6 791.6h0M273.6 844.8h0M273.7 917.5h0M273.9 831.3h0M273.6 846.4h0M273.7 841.4h0M273.5 882.9h0M273.8 866h0M273.8 831.4h0M273.6 900.5h0M273.6 838.7h0M273.7 855.3h0M273.8 846h0M273.5 926.2h0M273.7 910.2h0M273.8 880.9h0M273.6 817.2h0M273.7 833.1h0M275.1 889h0M275 897.5h0M274.7 953.9h0M274.7 846h0M274.8 926.3h0M274.7 917.3h0M275 884.9h0M274.8 856.3h0M275 871.4h0M274.7 883.8h0M275 849.9h0M274.8 878.8h0M275 867h0M274.8 935.4h0M274.8 924h0M274.9 878.5h0M274.9 914.1h0M274.8 908.4h0M275 856.8h0M274.7 860.2h0M274.9 785.4h0M275 887h0M274.8 885.4h0M274.8 916.7h0M274.7 881.3h0M275 862.2h0M276 946.5h0M276.1 852.1h0M276 883.2h0M276.3 896.6h0M276.2 903.5h0M276.2 940.3h0M276.2 946.1h0M276 882.3h0M276.1 917.2h0M276.1 849.6h0M275.9 852h0M276 885.3h0M276.1 886.8h0M276 908.6h0M276.2 805.7h0M276.2 833.6h0M275.9 857.1h0M276 900.3h0M276.1 898.6h0M276.1 919.6h0M275.9 889.4h0M276.2 897.9h0M276.2 856.8h0M276 855.3h0M275.9 915.2h0M276 882.5h0M276 951.2h0M276.1 845.7h0M275.9 904.4h0M275.9 949.4h0M276.1 914.4h0M275.9 897h0M276.1 908h0M276.1 878.1h0M276 883.5h0M276.2 910.6h0M275.9 863.7h0M276.3 880.9h0M277.2 941.5h0M277.4 888.1h0M277.1 922.4h0M277.4 816.7h0M277.2 844.7h0M277.3 894.2h0M277.4 920.4h0M277.4 916.3h0M277.4 890h0M277.1 910.8h0M277.2 885.8h0M277.4 868.1h0M277.1 943.2h0M277.4 871h0M277.3 850.8h0M277.4 893.1h0M277.1 894.9h0M277.1 929.8h0M277.1 881.4h0M277.5 868.1h0M277.4 820.3h0M277.2 894.5h0M277.3 921.8h0M277.4 825.4h0M277.4 893.8h0M277.2 893.1h0M277.1 881.8h0M277.4 842.3h0M277.5 905.1h0M277.3 821.5h0M277.4 948.8h0M277.3 855h0M277.4 961.8h0M277.4 862.3h0M277.1 889.2h0M277.3 835.9h0M277.1 843.8h0M277.3 860.8h0M277.2 891.6h0M278.4 913.3h0M278.5 876.7h0M278.6 879.2h0M278.4 881.4h0M278.2 906.4h0M278.6 908.9h0M278.3 862.5h0M278.3 927h0M278.6 851.9h0M278.6 896.2h0M278.3 934.1h0M278.5 898h0M278.3 946h0M278.5 853.1h0M278.3 855.9h0M278.6 915.3h0M278.4 875.9h0M278.6 844.6h0M278.5 895.2h0M278.3 875.6h0M278.4 878.3h0M278.4 906.5h0M279.6 944.9h0M279.5 874.4h0M279.5 880.7h0M279.7 812.4h0M279.8 932.9h0M279.5 917.4h0M279.7 847.8h0M279.8 828.4h0M279.7 865.3h0M279.5 893.3h0M279.6 917.2h0M279.8 861.3h0M279.7 926.8h0M279.6 897.2h0M280.8 822.8h0M281 874.5h0M280.9 869.7h0M280.7 837.6h0M280.7 860.4h0M280.7 838.2h0M281 861.2h0M281 837.7h0M280.6 864.9h0M280.8 852.7h0M280.9 863.9h0M280.7 843.9h0M280.8 861.9h0M280.6 910.1h0M281 833.7h0M280.7 874.3h0M280.8 879.1h0M280.7 847.5h0M281 841.7h0M281 925.6h0M280.9 840.3h0M280.8 924.8h0M280.9 817.4h0M280.8 928.5h0M280.8 861.7h0M280.7 937h0M281 904.2h0M280.6 864.8h0M281.8 899.4h0M281.9 903.3h0M282 824.4h0M281.8 866.2h0M282.1 866.7h0M282.2 846.7h0M282 939.2h0M282.2 911.1h0M281.8 943.1h0M282 883.9h0M282 935.1h0M281.8 846.8h0M282.2 891.1h0M281.9 910.9h0M282.1 896.8h0M282 883.5h0M281.8 930.1h0M282 871.9h0M282 861.2h0M282 926.3h0M281.9 878.1h0M281.8 855h0M282.2 906h0M282 902h0M282 936.3h0M282.2 844.1h0M281.8 838.6h0M281.9 914.4h0M282.1 902h0M282.1 867.3h0M282.2 967.9h0M282.1 808.5h0M282.2 839.7h0M281.8 899.4h0M282 916.4h0M281.9 939.6h0M281.9 878.7h0M283.2 884.5h0M283.3 866.5h0M283 852.6h0M283.3 883.6h0M283 839.2h0M283.2 927.2h0M283.4 823.9h0M283.1 857.1h0M283.1 844.8h0M283.2 932h0M283.1 918.1h0M283.4 866.8h0M283.3 843.1h0M283.1 853.8h0M283.3 944.5h0M283.1 890h0M283.3 902.2h0M283.3 850.4h0M283.2 867.4h0M283.1 875.5h0M283.2 875.7h0M283.1 859h0M283.1 909.5h0M283.2 861.8h0M283 873.3h0M283.2 920.8h0M283 883.2h0M283 895.3h0M283.3 880.1h0M283.3 871.1h0M283.3 864.4h0M283 856h0M283.3 869.5h0M283.3 885.6h0M283.1 885.4h0M283.1 847.7h0M283 908.2h0M283.3 884.7h0M283.2 914.9h0M283.1 903.9h0M283.2 897.3h0M283.3 931.3h0M283.2 882.8h0M283.1 857.2h0M283.3 896.5h0M283 880.9h0M283.3 854.9h0M283.1 848.4h0M283.2 876.8h0M283.1 852.2h0M283 891.6h0M283.2 851.1h0M283.4 836.9h0M283.2 897.9h0M283 852.9h0M283.3 871.3h0M283 872.5h0M283 835.1h0M283.1 930.6h0M283.3 881.6h0M283 862.2h0M283.3 899.3h0M283.2 841.6h0M283 815.1h0M283.2 885.3h0M283.1 830.5h0M283.1 899.1h0M283.3 848.9h0M283.4 883.2h0M283.1 852.7h0M283.3 880.8h0M283.1 856.7h0M283.2 884.3h0M283.3 887h0M283 908.2h0M283.1 860.8h0M283.1 821.8h0M283.1 934.2h0M283.2 876.2h0M283 835h0M283.1 868.6h0M283 915.4h0M283.1 877.8h0M283.1 849.4h0M283 930.5h0M283 898.8h0M283.4 874h0M283.4 961.3h0M284.3 923.6h0M284.4 915.9h0M284.3 894.7h0M284.5 853.2h0M284.2 841h0M284.2 967.7h0M284.3 935.1h0M284.3 891.6h0M284.3 902.9h0M284.5 861.4h0M284.4 830.9h0M284.3 940.3h0M284.2 875.7h0M284.2 960.9h0M285.7 899.9h0M285.4 902.4h0M285.7 882.2h0M285.7 950.8h0M285.5 922.4h0M285.8 898.9h0M285.8 884h0M285.5 888.5h0M285.5 870.7h0M285.6 905.7h0M285.6 928.1h0M285.5 850.8h0M286.9 858.3h0M286.8 883.9h0M286.9 932.2h0M286.7 893h0M286.7 856.3h0M286.8 963.3h0M286.7 841.2h0M286.9 877.7h0M286.7 851.9h0M286.6 868.2h0M286.7 864.3h0M286.9 861.3h0M286.7 859.9h0M286.8 782.9h0M286.8 906.7h0M286.6 899.1h0M286.8 925.3h0M286.9 929h0M286.8 935.3h0M286.9 833.8h0M286.8 865.6h0M286.7 893.7h0M286.7 879.5h0M286.9 847.8h0M286.9 879.2h0M286.7 883.4h0M286.5 876.3h0M286.9 860.4h0M286.8 932.7h0M288 905.6h0M288 932.5h0M287.8 931.5h0M287.9 878.7h0M288.1 902.1h0M287.8 956.3h0M288 884.3h0M287.7 913.5h0M288 852h0M288.1 915.7h0M288 918.5h0M288 883.8h0M288 857.7h0M288 875.2h0M287.8 944.7h0M287.8 880.6h0M288 893h0M287.8 868.2h0M287.8 861.6h0M287.8 866.3h0M287.8 892.1h0M287.8 858.5h0M288 839h0M288 904.1h0M287.8 885.3h0M287.8 849.3h0M287.9 892.4h0M288 869.1h0M288 900.4h0M288.1 940.4h0M287.7 901.2h0M287.9 933.1h0M288.1 882h0M287.9 846.4h0M287.7 929.9h0M287.9 858.1h0M287.8 880h0M287.9 895.4h0M287.9 905.9h0M287.8 869.8h0M287.8 866.4h0M288 861.7h0M287.9 834.4h0M288 888.5h0M288 840.7h0M288 904.2h0M288 875.1h0M288.1 911.1h0M289.1 867.1h0M288.9 924.2h0M289 876.6h0M289.2 865.2h0M289 849.2h0M289.2 846.1h0M289 867h0M289.1 969.1h0M289.2 938.7h0M288.9 852.1h0M289.1 863.3h0M288.9 875.8h0M289.2 857.7h0M290.3 903.1h0M290.3 858h0M290.3 911.8h0M290.3 961.8h0M290.3 874h0M290.1 931.6h0M290.4 878.2h0M290.2 765.1h0M290.2 871.2h0M290.2 906.4h0M290.4 913.6h0M229.7 810.8h0M231 780.2h0M230.9 850.7h0M230.7 786.6h0M230.9 822.7h0M232.1 753.8h0M232.1 791.2h0M232.3 792.3h0M232.1 807.9h0M232.2 791h0M232 832.6h0M233.3 776.2h0M233.3 790.1h0M233.4 826.2h0M234.6 790.8h0M234.4 762.3h0M234.6 754.2h0M234.3 792.9h0M234.4 806.6h0M235.5 826.1h0M235.8 756h0M235.7 766.7h0M235.7 786.6h0M235.5 735.5h0M235.6 813.8h0M235.7 812h0M235.5 770.4h0M235.6 758.5h0M235.7 792.5h0M237 804.8h0M241.6 844.9h0M241.6 777.6h0M241.6 817.3h0M241.5 796.8h0M243.9 815.6h0M243.8 781h0M245.3 781.3h0M245.2 780.6h0M245 786.7h0M245.2 789.2h0M245.1 770.7h0M245.3 781.6h0M247.7 748.5h0M247.8 816.3h0M249.8 803.6h0M249.9 778.1h0M250.1 768.3h0M251.2 760.6h0M251.2 760.6h0M251.2 825.5h0M251.3 786.4h0M254.7 826.1h0M254.9 831.2h0M254.6 784.6h0M254.5 799.6h0M254.7 763h0M254.6 768.9h0M254.7 825.8h0M254.6 745.4h0M254.8 738.2h0M257 818.2h0M256.9 803.2h0M257.2 811.6h0M259.5 807.7h0M259.3 778.6h0M259.5 821.1h0M260.6 777.1h0M260.5 776.5h0M260.4 778h0M260.7 812.4h0M260.8 810h0M261.7 798.6h0M261.9 797.7h0M261.8 801.4h0M261.9 778.4h0M261.7 817.2h0M264.3 851.9h0M264.2 793.6h0M264.2 801.4h0M265.4 834.1h0M265.3 820.9h0M265.4 764.1h0M265.5 801.6h0M271.2 762.8h0M271.3 749.3h0M271.1 831.8h0M273.8 817h0M273.8 846.7h0M273.9 772.6h0M275 785.5h0M276.2 786h0M276.1 814.1h0M275.9 857.7h0M276.2 828.5h0M276.1 812.9h0M277.2 770.5h0M277.2 846.2h0M278.6 789.7h0M278.5 798.9h0M278.5 768h0M278.6 785.2h0M278.2 762.3h0M283.2 803h0M283.3 798.9h0M286.7 771.9h0M286.7 791.8h0M286.8 791.9h0M286.8 795.9h0M286.9 813.6h0M286.7 820.2h0M286.8 758.4h0M286.6 761.9h0M286.6 800.9h0M286.9 811.3h0M286.6 808.9h0M287.7 782h0M287.9 765.1h0M288.1 767.9h0M288.1 780.2h0M288 810.8h0M297.3 864.7h0M297.3 913.4h0M297.3 867h0M297.2 866h0M297.2 909.8h0M297.6 884.2h0M297.5 860h0M297.2 857.2h0M297.4 929.4h0M297.6 851.6h0M297.4 866.2h0M297.6 887.6h0M297.5 833.5h0M297.4 899.5h0M297.2 877.7h0M297.4 885.7h0M297.5 918.9h0M297.6 847h0M297.5 834.5h0M297.4 905.3h0M297.3 861.6h0M297.4 861.8h0M297.2 875.4h0M297.6 913.7h0M297.5 911.9h0M297.3 969.7h0M297.4 922.6h0M297.4 903.3h0M297.3 917.9h0M297.4 838h0M297.3 892.7h0M297.3 904.6h0M297.6 904.3h0M297.3 852.6h0M298.5 890.7h0M298.6 898.4h0M298.5 911.5h0M298.8 922.6h0M298.7 851.3h0M298.7 895.5h0M298.7 897.3h0M298.7 911.1h0M298.5 901h0M298.5 912h0M298.6 903.1h0M298.4 883.5h0M298.8 888.6h0M298.4 949.5h0M298.8 871.2h0M298.7 893.1h0M298.5 855.5h0M298.5 874.5h0M298.6 870.3h0M298.5 867.8h0M298.5 893h0M298.7 880h0M298.5 936.3h0M298.5 890.9h0M298.8 863.4h0M298.5 915.1h0M298.8 919.3h0M298.4 833.1h0M298.6 880.1h0M298.7 886.5h0M298.8 950.1h0M298.6 887.3h0M298.8 896.4h0M298.6 935.3h0M298.7 889.7h0M298.6 904.7h0M298.8 885h0M298.6 870.2h0M298.5 945.7h0M298.8 875.8h0M298.5 855.6h0M298.5 921.3h0M298.5 891.4h0M298.7 893.4h0M298.8 900.8h0M298.6 953.5h0M298.4 881.3h0M298.7 908.5h0M298.8 927.3h0M298.4 901.5h0M298.7 866.1h0M298.6 896.6h0M298.7 865.2h0M298.7 941.6h0M298.5 929h0M298.7 922.3h0M300 869.9h0M299.9 934.5h0M299.7 901.4h0M299.8 948.2h0M299.7 856.1h0M299.7 934.6h0M299.9 901.5h0M299.8 928.8h0M299.7 903h0M300 850.1h0M299.6 894.2h0M299.7 886.2h0M299.8 885h0M300 903.8h0M300 889.7h0M299.6 866.3h0M302.2 926.5h0M302.3 882h0M302 876.5h0M302.2 918.1h0M302.3 909.6h0M302.2 848.9h0M302.4 889.2h0M302.3 879.6h0M302 895.9h0M302.3 871.6h0M302.3 891.1h0M302.2 857.2h0M302.1 868h0M302 885.5h0M302.2 886.5h0M302.3 944.2h0M302.1 878.9h0M302.3 897.1h0M302.2 902.5h0M302.2 924.4h0M302.1 888h0M302.3 876.7h0M304.4 927.3h0M304.7 859.1h0M304.6 884.5h0M304.7 880.1h0M304.7 878.4h0M304.7 872.2h0M304.8 913.1h0M304.4 901.6h0M304.6 923.4h0M304.5 930.2h0M304.5 883.3h0M304.5 904.3h0M304.6 908.8h0M304.5 909.7h0M304.5 913.9h0M304.6 883.7h0M304.6 851.2h0M304.6 896.6h0M304.6 882.1h0M304.5 919.8h0M304.4 902.7h0M304.8 935.1h0M304.7 909.6h0M304.5 868.8h0M304.7 921.9h0M304.6 873.2h0M304.4 911.8h0M304.6 925.4h0M304.4 885.9h0M304.7 885.2h0M304.4 883h0M304.6 888.9h0M304.7 936.3h0M304.6 908.4h0M304.7 906.3h0M304.6 895.5h0M304.5 888.7h0M304.4 896.6h0M304.4 893.8h0M304.7 907.8h0M304.4 873.2h0M304.4 960.7h0M304.7 884.6h0M304.7 887.7h0M304.4 896.5h0M304.4 919.6h0M304.6 896.4h0M304.5 890.6h0M304.7 889.7h0M304.5 885.1h0M304.6 903.9h0M304.5 865.4h0M304.4 873.9h0M304.4 924.4h0M304.7 893.1h0M304.4 902.3h0M304.4 884.7h0M304.6 935.4h0M304.5 884.9h0M304.4 891.3h0M304.7 887.3h0M304.5 932.1h0M304.6 878h0M304.8 885.5h0M304.4 885.9h0M304.4 851.9h0M304.7 907.4h0M304.5 929.4h0M304.6 899.5h0M304.5 866.8h0M304.5 923.6h0M304.5 909.4h0M304.6 859.2h0M304.5 871.2h0M304.7 931.3h0M304.4 881h0M304.7 922.3h0M304.6 945.1h0M304.7 864.7h0M304.8 917.3h0M304.4 878.6h0M304.6 866.7h0M304.5 846.8h0M304.7 894.4h0M304.5 877.3h0M304.7 855.5h0M304.5 849.8h0M304.4 882h0M308.2 913.2h0M308.2 831.5h0M308.1 942.4h0M308.2 899.2h0M308.1 872.8h0M308.3 921.3h0M308.2 911.6h0M308.2 933.8h0M308.3 896.1h0M308.3 881.3h0M308.2 929.9h0M308.2 906.5h0M308.2 883.7h0M308.1 899.1h0M308.2 849.4h0M308.2 886.7h0M308.1 871.4h0M308 900h0M308.1 902.2h0M308.1 932.2h0M308.3 860.8h0M308.3 851.6h0M308.2 861.1h0M308.1 886h0M308.1 956.2h0M307.9 893.7h0M308 918.3h0M308.1 885.4h0M307.9 935.5h0M308.3 880.3h0M308.2 894.9h0M308.1 899.6h0M308.2 853.8h0M308 858.3h0M308.3 878.6h0M308 905.2h0M308.2 910.8h0M308.1 882.6h0M308.2 860.7h0M308 904.8h0M308.2 885.8h0M308.2 854.4h0M307.9 856.8h0M308.2 864.6h0M308.2 882.5h0M308.3 883.8h0M308 871.6h0M308.3 867.8h0M308.3 884.4h0M308.3 903.6h0M308.2 874.6h0M308 863.7h0M308.1 905.2h0M308.1 847h0M308 919.9h0M308 829.6h0M308.1 915.8h0M310.6 897.3h0M310.7 876.7h0M310.6 883.9h0M310.5 793.3h0M310.6 866.7h0M310.5 816h0M310.5 816.3h0M310.4 856.9h0M310.5 891.4h0M310.6 809.9h0M310.4 944.9h0M310.6 840.1h0M310.5 754h0M310.3 830.8h0M310.6 890.9h0M310.4 840.3h0M310.4 841.5h0M310.7 926.3h0M310.7 840.9h0M310.7 889.4h0M310.5 831.2h0M310.6 838.3h0M310.5 852.6h0M310.3 808.8h0M310.5 901.5h0M310.3 830h0M310.5 879.4h0M310.4 872.6h0M310.7 867.8h0M310.6 939.6h0M310.5 832.4h0M310.4 898.4h0M310.6 850.5h0M310.6 937.1h0M310.6 794.6h0M310.5 836.1h0M310.5 834.3h0M310.4 850.1h0M310.3 855.6h0M310.4 845.4h0M310.3 882.7h0M310.5 872.4h0M310.6 896h0M310.6 885.4h0M310.5 826.6h0M310.7 907.5h0M310.6 869.7h0M310.4 893.8h0M310.4 825.5h0M310.5 859.1h0M310.6 860.4h0M310.3 855.6h0M313 831.6h0M312.7 861.5h0M312.9 841.4h0M313.1 908.8h0M312.9 867.6h0M312.7 843.8h0M312.8 865.8h0M313.1 902.2h0M312.7 878.5h0M313 859h0M312.7 837.7h0M313 862.1h0M313 850h0M312.9 827.7h0M313.1 902.3h0M312.8 884.5h0M312.9 896.6h0M312.9 917.2h0M312.9 850.5h0M312.8 830h0M312.8 860.3h0M313.1 892.8h0M312.9 896.9h0M312.7 869.2h0M312.8 833.3h0M312.9 815.1h0M313 816.4h0M313 828.8h0M312.7 840.9h0M313 821.9h0M312.9 860.2h0M312.7 871.2h0M312.8 938.6h0M312.8 829.8h0M312.7 798.7h0M313 858.4h0M312.7 849.8h0M312.7 910.4h0M312.9 880.8h0M313 950.2h0M313 853.7h0M312.7 823.5h0M312.8 812.3h0M313 849.8h0M313 835.9h0M312.8 885.9h0M312.8 899h0M313 854.3h0M312.8 866.5h0M312.7 819.2h0M313 879.4h0M312.7 850h0M312.9 857.1h0M312.9 861.3h0M312.7 841.3h0M312.8 930.2h0M312.7 870.7h0M312.9 889.4h0M312.9 852h0M312.7 842.6h0M312.9 798h0M312.9 826.5h0M312.7 877.5h0M312.7 874.3h0M312.8 878.5h0M313.1 902.2h0M313.1 963.7h0M313 874.3h0M312.9 828.1h0M312.7 825.7h0M313 847.8h0M313 840.5h0M312.8 839h0M312.7 832.5h0M312.7 836.8h0M313 834.8h0M312.9 883.9h0M313 847.5h0M313 915.5h0M312.8 849.6h0M313 855.8h0M313 848.8h0M312.9 900.1h0M312.8 849h0M313 821.8h0M313 915.1h0M313 836.4h0M312.9 844.5h0M313 844.2h0M313 866.5h0M312.7 878.2h0M313 916.9h0M312.8 874.3h0M312.9 881.9h0M312.7 818.1h0M312.8 889.2h0M312.9 820.3h0M312.9 889.2h0M312.9 868.5h0M312.9 910.1h0M312.8 934.6h0M312.9 886.1h0M312.7 924h0M312.8 835.6h0M313 884.1h0M312.8 843.7h0M312.7 876h0M312.8 878.2h0M315.1 813.2h0M315.2 825.6h0M315.2 861.8h0M315.1 896.2h0M315.1 879.5h0M315.4 804h0M315.1 809.1h0M315.2 943.6h0M315.2 883.2h0M315.1 896.9h0M315.2 837h0M315.1 802.8h0M315.3 866.1h0M315.3 810.9h0M315.3 814.1h0M315.3 827.6h0M315 839h0M315.3 836.5h0M315.4 869.8h0M315.2 882.3h0M315.4 802.3h0M315.1 841.9h0M315.4 920.8h0M315.3 830.5h0M315.2 937.5h0M315.4 841.7h0M315.1 871.6h0M315.3 848h0M315.3 867.1h0M315.4 855h0M318.7 806.2h0M319 845h0M318.6 869.2h0M318.9 923.3h0M318.7 903.4h0M318.7 843h0M318.8 863.7h0M318.6 830.8h0M318.9 865.4h0M319 865.5h0M318.8 842.1h0M318.8 845.2h0M318.7 855.7h0M318.7 865.3h0M318.6 863.9h0M319 844h0M318.7 859.6h0M318.9 896.8h0M318.9 871.1h0M318.9 880.1h0M318.6 840.9h0M318.8 889.3h0M318.9 854.4h0M318.9 906.2h0M318.8 846.6h0M318.9 824.5h0M318.8 851.3h0M318.8 836.3h0M318.6 884.6h0M319 873.2h0M318.9 863.7h0M318.7 880.2h0M318.6 890.7h0M318.8 899.3h0M318.7 828.9h0M318.9 848.9h0M318.9 826.4h0M318.9 857.6h0M318.9 853.8h0M318.8 893.3h0M318.8 853.4h0M318.7 820.8h0M318.9 854.4h0M318.8 888.1h0M319 831.3h0M318.7 826.5h0M318.9 844.6h0M319 863.4h0M318.7 833.5h0M318.7 934.5h0M318.8 811.3h0M318.8 861.6h0M318.7 802.1h0M318.7 883.9h0M321.4 901.9h0M321.1 827.2h0M321.2 915.7h0M321 806.5h0M321.2 851.9h0M321.4 952.2h0M321.1 919.4h0M321.1 871.1h0M321.2 843.6h0M321.4 896.9h0M321.2 831.9h0M321.3 854.7h0M321.4 929h0M321.3 834h0M321.4 840.1h0M321.1 847.5h0M321.2 883.8h0M321.1 806.3h0M321.2 884.9h0M321 852h0M321.1 845.2h0M321.2 844.8h0M321.2 906h0M321.4 823h0M321 885.4h0M321.3 920.8h0M321.4 875.8h0M321.1 891.7h0M321 855.3h0M321.2 859.3h0M321.1 892.6h0M321 915.9h0M321 903.5h0M321.3 892.1h0M329.4 834h0M329.3 814.6h0M329.7 868.2h0M329.3 864.8h0M329.6 811.6h0M329.5 855.2h0M329.3 832.1h0M329.6 887.7h0M329.5 847.4h0M329.5 902.1h0M329.7 900.7h0M329.4 844.2h0M329.5 886.9h0M329.7 897.4h0M329.3 896.5h0M329.7 840.4h0M329.6 862.2h0M329.4 861.9h0M329.4 879.4h0M329.7 876.6h0M329.5 873.6h0M329.7 843.8h0M329.5 846.7h0M329.6 794.8h0M329.3 894.6h0M329.5 852.1h0M329.7 877.9h0M329.6 841.6h0M329.6 834.9h0M329.4 810.4h0M329.4 802.4h0M329.6 929.5h0M329.5 896.9h0M329.5 896.3h0M329.5 914.3h0M329.6 847.7h0M329.6 850.7h0M329.4 861.3h0M329.7 873.4h0M329.4 887.5h0M329.5 879.9h0M329.3 864.8h0M329.6 830.7h0M329.6 920.8h0M329.5 874.6h0M329.6 872h0M329.5 868.6h0M329.4 854.5h0M329.5 884.4h0M329.4 877.3h0M329.6 844.3h0M329.3 870.3h0M329.4 831.2h0M329.5 788.6h0M330.6 859.1h0M330.5 853.8h0M330.8 935h0M330.7 851.8h0M330.8 844.9h0M330.6 866.8h0M330.5 955.5h0M330.6 871.6h0M330.5 796.2h0M330.5 903.8h0M330.7 864.2h0M330.7 889.1h0M330.5 891.3h0M334.4 872.2h0M334.4 829h0M334.4 933.1h0M334.1 886.4h0M334.1 850.8h0M334.4 889.8h0M334.4 871.3h0M334.3 864.3h0M334.3 899.4h0M334.3 898h0M334.3 818.8h0M334.3 892.3h0M334.3 861.5h0M334.4 850.8h0M334.2 868.9h0M335.5 851.7h0M335.6 851.9h0M335.2 906.4h0M335.5 833.1h0M335.4 896.3h0M335.3 822.3h0M335.4 938.3h0M335.4 842.3h0M335.5 897.6h0M335.3 899.8h0M335.6 854h0M335.4 822.7h0M335.5 841.8h0M335.4 892.6h0M335.3 813.8h0M335.4 910.2h0M335.5 828.2h0M335.3 855.2h0M335.3 900.9h0M335.3 884.2h0M335.3 846.4h0M335.4 816.1h0M335.2 785.8h0M335.5 823.4h0M335.6 821.9h0M335.3 871.9h0M335.3 877.3h0M335.3 844.3h0M335.4 835.7h0M335.3 877.6h0M335.3 831.3h0M335.6 800.4h0M335.4 843.7h0M335.6 892.8h0M335.3 885.3h0M335.6 833.3h0M335.2 898.9h0M335.4 821h0M335.4 844.9h0M335.4 813.4h0M335.6 855.9h0M335.5 810.9h0M335.4 800.2h0M335.5 815.7h0M335.5 842.2h0M335.4 897.7h0M335.6 859.9h0M335.3 825.5h0M335.3 785.4h0M335.6 842.3h0M335.6 890.2h0M335.6 878.6h0M335.4 824.1h0M335.4 818.4h0M335.5 838.4h0M335.4 837.2h0M335.5 884.6h0M335.4 849.2h0M335.6 841.2h0M335.3 821.7h0M335.4 852.9h0M335.3 842.1h0M335.4 838.8h0M335.5 838.9h0M335.3 794.3h0M335.3 794.9h0M335.4 847.6h0M335.3 847.8h0M335.4 847.5h0M335.2 823.6h0M335.6 846h0M335.6 842.5h0M335.2 903.1h0M335.3 873.5h0M335.4 886.5h0M335.2 876.3h0M335.3 833.1h0M335.3 840.3h0M335.4 832.6h0M335.4 853.4h0M335.5 843.2h0M335.6 851.2h0M335.4 864h0M335.2 909.9h0M335.4 821.9h0M335.3 834h0M335.6 899.3h0M335.2 855.1h0M335.6 920.2h0M335.6 837.6h0M335.4 833.3h0M335.5 936.7h0M335.5 824.7h0M335.6 892.3h0M335.5 816.5h0M335.4 858h0M335.3 884.9h0M335.5 899.4h0M335.6 880.6h0M335.5 866.7h0M335.5 835.8h0M335.6 835.8h0M335.3 824.5h0M335.4 835.1h0M335.4 887.9h0M335.6 863.3h0M335.6 914.8h0M335.3 823.3h0M335.4 895.7h0M335.4 863.2h0M336.6 896.7h0M336.5 820h0M336.7 857.5h0M336.8 831.1h0M336.6 866.7h0M336.4 848.3h0M336.7 865.8h0M336.4 819.8h0M336.8 902.4h0M336.6 833.3h0M336.6 876.5h0M336.7 891.5h0M336.8 803.7h0M336.7 837.3h0M336.5 803.6h0M336.8 840.4h0M336.5 802.6h0M336.6 831.9h0M336.7 823.3h0M336.7 820.1h0M336.6 913.2h0M336.5 852.9h0M336.6 856.5h0M336.5 807.7h0M336.5 837.9h0M336.6 817.2h0M336.6 806.5h0M336.8 777.9h0M336.8 775.3h0M336.8 832.4h0M336.6 855.7h0M336.6 816.3h0M336.7 798.8h0M336.6 864.6h0M336.5 891h0M336.7 865.3h0M336.6 818.8h0M336.7 904.3h0M336.8 797.1h0M336.6 865.8h0M336.7 828.8h0M336.8 856.3h0M336.6 899.3h0M336.6 884h0M336.8 811.8h0M336.6 822h0M336.5 821.4h0M336.4 853.1h0M336.8 820.2h0M336.7 838.3h0M336.7 873.7h0M336.8 876.7h0M336.7 821.9h0M336.7 810.9h0M336.7 882.8h0M336.7 803.2h0M336.8 824.3h0M336.6 877.9h0M336.5 858.5h0M336.5 869h0M336.7 872.9h0M336.8 912.1h0M336.6 843.3h0M336.8 822.2h0M336.5 911.1h0M336.5 846.2h0M336.7 735.1h0M336.6 893.1h0M336.8 828.5h0M336.5 835.3h0M336.4 885.6h0M336.8 865.9h0M336.6 866.2h0M336.7 927.6h0M336.7 851.3h0M336.5 853.9h0M341.4 821.6h0M341.4 819.1h0M341.5 901.3h0M341.5 834.5h0M341.3 863.2h0M341.2 864h0M341.5 859.6h0M341.4 893h0M341.2 868.2h0M341.4 881.1h0M341.3 858h0M341.4 870.8h0M341.2 870.9h0M341.6 802.6h0M341.2 889.6h0M341.3 936.3h0M341.2 853.9h0M341.4 855.1h0M341.4 850.5h0M341.3 878.9h0M341.4 869.8h0M341.3 810.5h0M341.5 848.7h0M341.2 939.1h0M341.2 852.2h0M341.5 849.9h0M341.4 842.4h0M341.4 847.3h0M341.3 832.9h0M341.4 845.3h0M341.2 838.4h0M341.3 843.9h0M341.5 801.5h0M341.5 816.7h0M341.3 778.4h0M341.3 795.9h0M341.4 916.3h0M342.6 814.9h0M342.5 877.5h0M342.7 923.2h0M342.6 868.2h0M342.7 843.5h0M342.7 857.3h0M342.4 794.9h0M342.7 874.4h0M342.5 839.3h0M342.4 816.8h0M342.4 819.9h0M342.6 866.5h0M342.5 811.2h0M342.5 841.9h0M342.4 870.5h0M342.4 826.3h0M342.6 855.2h0M342.6 869.8h0M342.4 881.9h0M342.4 833.7h0M342.6 834.6h0M342.4 879.6h0M342.7 873.8h0M342.4 857.6h0M342.5 844.3h0M342.6 883.7h0M342.4 877.1h0M342.5 841.1h0M342.5 832.8h0M342.4 841.6h0M342.4 906.7h0M342.6 836.8h0M342.5 847.2h0M342.5 850.5h0M342.4 856.3h0M342.4 902.3h0M342.6 883h0M342.4 886.1h0M342.5 953.5h0M342.7 879.7h0M342.8 856h0M342.6 870.4h0M342.5 892.7h0M342.4 835.2h0M342.4 834h0M342.5 838.6h0M342.4 880.4h0M342.7 908.1h0M342.7 817h0M342.6 850.1h0M342.5 869.6h0M342.6 855.2h0M342.5 866.2h0M342.4 851.3h0M343.9 908.5h0M343.6 923.1h0M343.6 890.8h0M343.7 921.2h0M343.6 897.8h0M343.8 870.5h0M343.9 836h0M343.6 861.5h0M343.9 845.5h0M343.8 833.9h0M343.8 826.5h0M343.7 805.2h0M343.6 828.6h0M343.9 836.8h0M343.6 819.4h0M343.6 901.4h0M343.9 832.8h0M343.6 873.8h0M343.9 917.7h0M343.8 833.8h0M343.8 914.5h0M343.6 823h0M343.7 918.6h0M343.7 927h0M343.8 832.4h0M343.9 842h0M343.8 850h0M343.6 857.5h0M343.6 905.8h0M343.9 934.6h0M343.8 838.8h0M343.6 898.8h0M345.1 846.1h0M345 865.3h0M344.9 868h0M344.8 854.8h0M345 833.4h0M345.1 832.6h0M345 852h0M344.8 850.7h0M344.9 877.5h0M345.1 923.9h0M344.8 876.3h0M345 875.4h0M344.7 900.5h0M345.1 889.6h0M344.8 910.3h0M344.8 812.4h0M344.8 797.1h0M345 850.9h0M344.7 824.8h0M344.9 911h0M344.8 823.6h0M344.9 850.3h0M344.8 844.6h0M344.8 838.5h0M344.8 926.4h0M345.1 900.6h0M345.1 921.2h0M344.9 867.8h0M345 886.1h0M345.1 889h0M344.9 903.5h0M345 828h0M344.7 839.5h0M344.8 952.7h0M344.8 862.6h0M344.8 897.8h0M344.9 896h0M344.9 874h0M344.9 844.1h0M344.9 780.4h0M348.4 864.5h0M348.5 851.5h0M348.4 886.5h0M348.3 865h0M348.7 854.5h0M348.5 871.3h0M348.5 831.1h0M348.6 926.9h0M348.4 856.9h0M348.4 865.4h0M348.5 822.5h0M348.3 882.5h0M348.7 880.9h0M348.6 828.2h0M348.7 912.3h0M348.3 856.8h0M348.6 918.1h0M348.6 923.2h0M348.4 873h0M348.4 913.4h0M348.6 903.1h0M348.4 901.3h0M348.3 874.7h0M348.6 854.4h0M348.4 910.4h0M348.5 856.2h0M348.5 887.3h0M348.5 866h0M348.4 859.5h0M348.5 916.8h0M348.3 804h0M348.5 871.6h0M348.7 907.9h0M348.6 855.4h0M348.6 890.5h0M349.8 858.6h0M349.9 851.3h0M349.6 904.8h0M349.6 858.4h0M349.8 885.1h0M349.7 896.7h0M349.6 862.8h0M349.7 876.1h0M349.5 841.7h0M349.5 874.8h0M349.8 893.8h0M349.5 887.4h0M349.8 877.6h0M352.1 886.9h0M351.9 880.8h0M352.1 831.3h0M352 918.4h0M351.9 962.5h0M352.2 834.1h0M352.2 890.8h0M352.1 874.3h0M352.2 879.9h0M352.2 877.5h0M352.2 899.4h0M352.2 878.2h0M352.3 844.4h0M352.2 843h0M352.1 876.1h0M352 883.6h0M352 853.6h0M352.1 867h0M352.2 928.3h0M352 879.4h0M352.1 903.1h0M352 902.2h0M352.1 878.9h0M352.2 898.5h0M352.2 947.2h0M352.2 891.5h0M352 851.8h0M351.9 894.8h0M352 953.8h0M352.2 858.7h0M351.9 893.2h0M352.2 913h0M352.2 911h0M352.1 864h0M352.2 929.9h0M351.9 891.9h0M352 935.9h0M352.1 877.7h0M352 853.7h0M352 867.8h0M352.2 869h0M352.2 894.3h0M351.9 886.7h0M351.9 904.7h0M352.1 864.2h0M352 879.1h0M351.9 850.7h0M352.3 933.8h0M351.9 845.1h0M352 847h0M351.9 902.2h0M352.2 828.1h0M352.1 909.7h0M352.2 863.9h0M351.9 915.8h0M352.2 877.1h0M351.9 909.8h0M352.1 928h0M351.9 877h0M352.2 873.7h0M353.1 844.3h0M353.3 845h0M353.1 876.2h0M353.3 914h0M353.4 852h0M353.1 894.3h0M353.3 849.4h0M353.4 946.6h0M353.4 883.5h0M353.1 885.4h0M353.1 898.7h0M367.6 926.6h0M367.5 852.9h0M367.4 880.4h0M367.6 849.1h0M367.5 904.3h0M367.4 861.7h0M367.4 923.3h0M367.6 943.6h0M367.6 870.9h0M367.3 861.5h0M367.4 876.4h0M367.5 875.2h0M367.6 871.2h0M367.3 832.1h0M367.3 870.4h0M367.5 869.1h0M367.4 875.6h0M367.6 909.8h0M367.4 853.4h0M367.6 896h0M367.4 877.5h0M367.6 931.3h0M367.4 867.6h0M367.5 870.8h0M367.3 875.7h0M367.5 858.1h0M367.7 872.4h0M367.5 921.6h0M367.5 897h0M367.6 888.4h0M367.4 877.7h0M367.3 888.5h0M367.6 881.9h0M367.6 855.1h0M368.8 868.2h0M368.6 954.8h0M366.2 905.5h0M366.3 970h0M366.4 923.8h0M366.1 937.3h0M366.4 945.1h0M366.3 953.8h0M366.4 910h0M366.4 919.2h0M366.2 926.2h0M366.1 892.4h0M366.2 924.6h0M367.5 937.9h0M367.4 944.4h0M367.3 946.2h0M367.5 921.2h0M368.5 930.6h0M368.5 947.3h0M371.2 948.4h0M423.3 958.6h0M423.5 910h0M423.5 931.4h0M423.2 941.7h0M423.1 883.5h0M423.2 957.6h0M423.3 935h0M423.4 965.3h0M423.5 948.4h0M423.4 949h0M423.3 928.2h0M423.2 911.2h0M424.6 966.3h0M424.4 876.9h0M424.6 921.4h0M424.3 865.4h0M424.3 953.9h0M424.5 902.9h0M424.6 949.5h0M424.6 951.2h0M424.5 904.9h0M425.5 935.9h0M425.6 906.6h0M425.6 885.1h0M425.5 960.5h0M425.8 943h0M425.7 878h0M425.5 876h0M425.5 899.8h0M425.5 883.9h0M425.6 894.7h0M425.7 852h0M425.6 922.4h0M425.6 861.6h0M425.5 936.8h0M425.5 922.1h0M425.7 894.4h0M425.6 902.8h0M428.1 861.3h0M427.9 857.8h0M428.1 900.7h0M428.2 832.4h0M428.1 869.7h0M428.1 885h0M428.2 876.7h0M428.2 861.3h0M428.1 903.3h0M427.9 889.6h0M428.1 870.3h0M428.1 870.7h0M428.1 873.4h0M428.1 861.2h0M428 896.2h0M428.1 951.7h0M428 837.9h0M427.9 866.3h0M427.9 830.8h0M427.8 878.3h0M428.1 864h0M428.2 906.6h0M428.1 808.1h0M429.2 885.5h0M429.2 890.5h0M429.2 872.6h0M429.2 893.5h0M429.1 900.9h0M429.2 856h0M429.2 903.4h0M429.1 846.1h0M429.3 875.3h0M429.3 845.6h0M429.3 879.4h0M429.2 937.2h0M430.4 843.5h0M432.7 956.5h0M432.9 934.9h0M432.7 952.1h0M432.9 958.8h0M433 949.1h0M432.6 897.9h0M432.8 969.3h0M434 953.2h0M433.9 945.3h0M433.8 891.8h0M434 856.1h0M435.4 965.6h0M435.4 940.9h0M435 928.8h0M435.1 919.7h0M435.3 930.3h0M435.3 939.4h0M435.2 960.8h0M435.4 963.7h0M437.7 920.6h0M437.4 967.3h0M438.5 924.1h0M438.8 943.8h0M438.7 949.4h0M441 920.2h0M441 970.1h0M441.1 901h0M440.9 958.7h0M441.2 965.2h0M441.3 965.6h0M441.2 936.1h0M442.2 952.9h0M442.4 943.2h0M442.2 944.4h0M442.5 903.5h0M444.9 968.2h0M445.6 966.4h0M445.9 968.6h0M446 900.8h0M445.9 952.9h0M446 903.7h0" stroke="#88b04b" stroke-width="4.5" stroke-linecap="round" fill="none"/>
<path d="M371.4 970.2L371.4 970.2L371.5 970.2L371.6 970.1L371.7 970.1L371.8 970.1L371.9 970L371.9 970L372 970L372.1 969.9L372.2 969.9L372.3 969.9L372.4 969.8L372.4 969.8L372.5 969.8L372.6 969.7L372.7 969.7L372.8 969.6L372.9 969.6L373 969.6L373 969.5L373.1 969.5L373.2 969.5L373.3 969.4L373.4 969.4L373.5 969.3L373.5 969.3L373.6 969.2L373.7 969.2L373.8 969.1L373.9 969.1L374 969.1L374 969L374.1 969L374.2 968.9L374.3 968.9L374.4 968.8L374.5 968.8L374.5 968.7L374.6 968.6L374.7 968.6L374.8 968.5L374.9 968.5L375 968.4L375 968.4L375.1 968.3L375.2 968.2L375.3 968.2L375.4 968.1L375.5 968.1L375.5 968L375.6 967.9L375.7 967.9L375.8 967.8L375.9 967.7L376 967.7L376 967.6L376.1 967.5L376.2 967.4L376.3 967.4L376.4 967.3L376.5 967.2L376.5 967.1L376.6 967.1L376.7 967L376.8 966.9L376.9 966.8L377 966.7L377 966.6L377.1 966.5L377.2 966.4L377.3 966.4L377.4 966.3L377.5 966.2L377.5 966.1L377.6 966L377.7 965.9L377.8 965.8L377.9 965.7L378 965.6L378 965.4L378.1 965.3L378.2 965.2L378.3 965.1L378.4 965L378.5 964.9L378.5 964.7L378.6 964.6L378.7 964.5L378.8 964.4L378.9 964.2L379 964.1L379.1 964L379.1 963.8L379.2 963.7L379.3 963.5L379.4 963.4L379.5 963.2L379.6 963.1L379.6 962.9L379.7 962.8L379.8 962.6L379.9 962.4L380 962.3L380.1 962.1L380.1 961.9L380.2 961.8L380.3 961.6L380.4 961.4L380.5 961.2L380.6 961L380.6 960.8L380.7 960.6L380.8 960.4L380.9 960.2L381 960L381.1 959.8L381.1 959.5L381.2 959.3L381.3 959.1L381.4 958.8L381.5 958.6L381.6 958.4L381.6 958.1L381.7 957.8L381.8 957.6L381.9 957.3L382 957L382.1 956.8L382.1 956.5L382.2 956.2L382.3 955.9L382.4 955.6L382.5 955.3L382.6 955L382.6 954.6L382.7 954.3L382.8 954L382.9 953.6L383 953.3L383.1 952.9L383.1 952.5L383.2 952.2L383.3 951.8L383.4 951.4L383.5 951L383.6 950.6L383.6 950.1L383.7 949.7L383.8 949.3L383.9 948.8L384 948.4L384.1 947.9L384.1 947.4L384.2 946.9L384.3 946.4L384.4 945.9L384.5 945.4L384.6 944.9L384.6 944.3L384.7 943.8L384.8 943.2L384.9 942.6L385 942L385.1 941.4L385.1 940.8L385.2 940.1L385.3 939.5L385.4 938.8L385.5 938.1L385.6 937.4L385.7 936.7L385.7 935.9L385.8 935.2L385.9 934.4L386 933.6L386.1 932.8L386.2 932L386.2 931.1L386.3 930.3L386.4 929.4L386.5 928.5L386.6 927.6L386.7 926.6L386.7 925.6L386.8 924.6L386.9 923.6L387 922.6L387.1 921.5L387.2 920.4L387.2 919.3L387.3 918.2L387.4 917L387.5 915.8L387.6 914.6L387.7 913.3L387.7 912L387.8 910.7L387.9 909.4L388 908L388.1 906.6L388.2 905.2L388.2 903.7L388.3 902.2L388.4 900.6L388.5 899L388.6 897.4L388.7 895.8L388.7 894.1L388.8 892.4L388.9 890.6L389 888.8L389.1 886.9L389.2 885L389.2 883.1L389.3 881.1L389.4 879.1L389.5 877L389.6 874.9L389.7 872.8L389.7 870.6L389.8 868.3L389.9 866L390 863.7L390.1 861.3L390.2 858.8L390.2 856.3L390.3 853.8L390.4 851.2L390.5 848.5L390.6 845.8L390.7 843L390.7 840.2L390.8 837.4L390.9 834.5L391 831.5L391.1 828.5L391.2 825.4L391.2 822.2L391.3 819.1L391.4 815.8L391.5 812.5L391.6 809.2L391.7 805.8L391.7 802.3L391.8 798.8L391.9 795.3L392 791.7L392.1 788.1L392.2 784.4L392.3 780.7L392.3 776.9L392.4 773.1L392.5 769.3L392.6 765.4L392.7 761.5L392.8 757.5L392.8 753.6L392.9 749.6L393 745.6L393.1 741.6L393.2 737.6L393.3 733.5L393.3 729.5L393.4 725.5L393.5 721.4L393.6 717.4L393.7 713.4L393.8 709.5L393.8 705.5L393.9 701.6L394 697.7L394.1 693.9L394.2 690.2L394.3 686.5L394.3 682.8L394.4 679.3L394.5 675.8L394.6 672.4L394.7 669.1L394.8 665.9L394.8 662.8L394.9 659.9L395 657L395.1 654.3L395.2 651.8L395.3 649.3L395.3 647L395.4 644.9L395.5 642.9L395.6 641.1L395.7 639.5L395.8 638L395.8 636.8L395.9 635.7L396 634.8L396.1 634L396.2 633.5L396.3 633.2L396.3 633L396.4 633L396.5 633.3L396.6 633.7L396.7 634.3L396.8 635.1L396.8 636.1L396.9 637.3L397 638.6L397.1 640.2L397.2 641.9L397.3 643.8L397.3 645.8L397.4 648L397.5 650.3L397.6 652.8L397.7 655.5L397.8 658.2L397.8 661.1L397.9 664.1L398 667.3L398.1 670.5L398.2 673.8L398.3 677.3L398.4 680.8L398.4 684.4L398.5 688L398.6 691.8L398.7 695.6L398.8 699.4L398.9 703.3L398.9 707.2L399 711.1L399.1 715.1L399.2 719.1L399.3 723.2L399.4 727.2L399.4 731.2L399.5 735.2L399.6 739.3L399.7 743.3L399.8 747.3L399.9 751.3L399.9 755.3L400 759.2L400.1 763.1L400.2 767L400.3 770.9L400.4 774.7L400.4 778.5L400.5 782.3L400.6 786L400.7 789.6L400.8 793.2L400.9 796.8L400.9 800.3L401 803.8L401.1 807.2L401.2 810.6L401.3 813.9L401.4 817.2L401.4 820.4L401.5 823.6L401.6 826.7L401.7 829.8L401.8 832.8L401.9 835.7L401.9 838.6L402 841.4L402.1 844.2L402.2 847L402.3 849.7L402.4 852.3L402.4 854.9L402.5 857.4L402.6 859.9L402.7 862.3L402.8 864.7L402.9 867L402.9 869.3L403 871.5L403.1 873.7L403.2 875.8L403.3 877.9L403.4 880L403.4 882L403.5 883.9L403.6 885.9L403.7 887.7L403.8 889.6L403.9 891.3L403.9 893.1L404 894.8L404.1 896.5L404.2 898.1L404.3 899.7L404.4 901.3L404.4 902.8L404.5 904.3L404.6 905.8L404.7 907.2L404.8 908.6L404.9 910L405 911.3L405 912.6L405.1 913.9L405.2 915.1L405.3 916.3L405.4 917.5L405.5 918.7L405.5 919.8L405.6 920.9L405.7 922L405.8 923L405.9 924.1L406 925.1L406 926.1L406.1 927L406.2 928L406.3 928.9L406.4 929.8L406.5 930.7L406.5 931.5L406.6 932.3L406.7 933.2L406.8 934L406.9 934.7L407 935.5L407 936.3L407.1 937L407.2 937.7L407.3 938.4L407.4 939.1L407.5 939.7L407.5 940.4L407.6 941L407.7 941.6L407.8 942.3L407.9 942.8L408 943.4L408 944L408.1 944.5L408.2 945.1L408.3 945.6L408.4 946.1L408.5 946.6L408.5 947.1L408.6 947.6L408.7 948.1L408.8 948.6L408.9 949L409 949.5L409 949.9L409.1 950.3L409.2 950.7L409.3 951.2L409.4 951.5L409.5 951.9L409.5 952.3L409.6 952.7L409.7 953.1L409.8 953.4L409.9 953.8L410 954.1L410 954.4L410.1 954.8L410.2 955.1L410.3 955.4L410.4 955.7L410.5 956L410.5 956.3L410.6 956.6L410.7 956.9L410.8 957.2L410.9 957.4L411 957.7L411 958L411.1 958.2L411.2 958.5L411.3 958.7L411.4 958.9L411.5 959.2L411.6 959.4L411.6 959.6L411.7 959.9L411.8 960.1L411.9 960.3L412 960.5L412.1 960.7L412.1 960.9L412.2 961.1L412.3 961.3L412.4 961.5L412.5 961.7L412.6 961.8L412.6 962L412.7 962.2L412.8 962.4L412.9 962.5L413 962.7L413.1 962.8L413.1 963L413.2 963.2L413.3 963.3L413.4 963.5L413.5 963.6L413.6 963.7L413.6 963.9L413.7 964L413.8 964.2L413.9 964.3L414 964.4L414.1 964.5L414.1 964.7L414.2 964.8L414.3 964.9L414.4 965L414.5 965.2L414.6 965.3L414.6 965.4L414.7 965.5L414.8 965.6L414.9 965.7L415 965.8L415.1 965.9L415.1 966L415.2 966.1L415.3 966.2L415.4 966.3L415.5 966.4L415.6 966.5L415.6 966.6L415.7 966.7L415.8 966.8L415.9 966.8L416 966.9L416.1 967L416.1 967.1L416.2 967.2L416.3 967.2L416.4 967.3L416.5 967.4L416.6 967.5L416.6 967.5L416.7 967.6L416.8 967.7L416.9 967.8L417 967.8L417.1 967.9L417.1 968L417.2 968L417.3 968.1L417.4 968.2L417.5 968.2L417.6 968.3L417.7 968.3L417.7 968.4L417.8 968.4L417.9 968.5L418 968.6L418.1 968.6L418.2 968.7L418.2 968.7L418.3 968.8L418.4 968.8L418.5 968.9L418.6 968.9L418.7 969L418.7 969L418.8 969.1L418.9 969.1L419 969.2L419.1 969.2L419.2 969.3L419.2 969.3L419.3 969.3L419.4 969.4L419.5 969.4L419.6 969.5L419.7 969.5L419.7 969.5L419.8 969.6L419.9 969.6L420 969.7L420.1 969.7L420.2 969.7L420.2 969.8L420.3 969.8L420.4 969.8L420.5 969.9L420.6 969.9L420.7 969.9L420.7 970L420.8 970L420.9 970L421 970.1L421.1 970.1L421.2 970.1L421.2 970.2L421.3 970.2L421.4 970.2" stroke="#000" stroke-width="3" stroke-dasharray="5 2" fill="none"/>
<path d="M878.2 698.1h0M878.2 699h0M878.2 699.2h0M878.2 699.5h0M878.3 699.7h0M878.2 699.9h0M878.2 700.1h0M878.2 700.7h0M878.2 701.5h0M878.3 702.2h0M879.4 700.1h0M879.5 700.3h0M879.5 700.7h0M879.5 701.1h0M879.5 701.7h0M879.4 701.9h0M879.5 702.1h0M879.5 702.4h0M879.5 702.6h0M879.5 702.9h0M879.4 703h0M879.5 703.2h0M879.5 703.6h0M882 699.5h0M882 700.2h0M882 701.5h0M882 701.7h0M882 701.9h0M882 702.1h0M882 702.4h0M882 702.6h0M882 702.9h0M882 703.1h0M882 703.3h0M882 703.6h0M883.2 698.9h0M883.2 699.5h0M883.2 700.6h0M883.2 701.1h0M883.3 701.5h0M883.2 701.9h0M883.2 702.3h0M883.2 702.7h0M883.2 703.3h0M884.4 700.4h0M884.4 700.8h0M884.4 701h0M884.5 701.3h0M884.5 701.5h0M884.4 701.7h0M884.4 702h0M884.4 702.2h0M884.5 702.5h0M884.5 702.7h0M884.4 703h0M884.4 703.2h0M888.2 699.3h0M888.2 699.8h0M888.2 700.4h0M888.2 702.5h0M888.3 703.3h0M888.2 703.5h0M888.2 703.7h0M889.3 700.3h0M889.3 700.4h0M889.4 701.2h0M889.4 701.4h0M889.4 702.2h0M889.3 702.9h0M889.3 703.1h0M889.4 703.3h0M891.8 693.1h0M891.9 694.8h0M891.9 694.9h0M891.9 700.1h0M891.9 701h0M891.8 701.3h0M891.9 701.5h0M891.9 702.1h0M893.1 700.8h0M893.1 702.4h0M893.2 702.6h0M893.2 702.8h0M893.2 703h0M893.1 703.2h0M893.1 703.4h0M893.2 703.6h0M894.3 699.3h0M894.4 700.2h0M894.4 701.1h0M894.4 701.7h0M894.4 701.9h0M894.3 702.1h0M894.4 702.4h0M894.4 702.5h0M894.4 703h0M894.4 703.2h0M894.3 703.4h0M894.4 703.6h0M895.6 699.6h0M895.6 699.8h0M895.6 700.2h0M895.6 700.9h0M895.6 701.3h0M895.6 701.7h0M895.6 702.4h0M895.6 703h0M895.6 703.2h0M895.6 703.6h0M896.8 699.1h0M896.8 699.6h0M896.9 699.8h0M896.9 700.1h0M896.9 700.3h0M896.8 700.8h0M896.8 701h0M896.9 701.3h0M896.9 701.5h0M896.9 701.9h0M896.8 702.1h0M896.8 702.4h0M896.9 702.6h0M896.9 703.3h0M898.1 699h0M898.1 699.2h0M898.1 699.4h0M898.1 699.7h0M898.2 700.5h0M898.1 701.3h0M898.1 701.5h0M898.1 701.9h0M898.1 702.4h0M898.2 702.6h0M898.1 703.3h0M898.1 703.5h0M898.1 703.7h0M899.3 684.9h0M899.3 685.4h0M899.4 685.6h0M899.4 686.1h0M899.4 686.4h0M899.3 686.6h0M899.3 686.9h0M899.4 687.1h0M899.4 687.3h0M899.4 687.5h0M899.3 688h0M899.3 688.2h0M899.4 689.4h0M899.4 689.8h0M900.5 679.8h0M900.5 680.2h0M900.5 680.5h0M900.6 680.7h0M900.6 680.9h0M900.5 681.2h0M900.5 681.4h0M900.5 681.6h0M900.6 682h0M900.6 682.2h0M900.5 682.7h0M900.5 682.9h0M900.5 683.9h0M900.6 684h0M900.6 687.3h0M901.8 682.6h0M901.9 682.7h0M901.9 683.4h0M901.9 683.6h0M901.9 683.9h0M901.8 684.1h0M901.9 684.3h0M901.9 684.6h0M901.9 685.1h0M901.9 685.5h0M901.8 685.7h0M901.9 686.1h0M901.9 686.5h0M901.9 689.7h0M901.9 692.1h0M901.8 692.8h0M904.3 674h0M904.3 674.5h0M904.3 675h0M904.3 675.4h0M904.4 676.1h0M904.3 677h0M904.3 677.7h0M904.3 678h0M904.3 678.3h0M904.4 678.5h0M904.3 678.7h0M904.3 678.9h0M904.3 680.4h0M904.3 686.3h0M905.5 673.9h0M905.5 675.5h0M905.5 679.8h0M905.5 681.2h0M905.6 683.3h0M908 681.7h0M908 682.2h0M908.1 682.4h0M908.1 683.5h0M908.1 684h0M908 684.3h0M908 684.5h0M908.1 684.7h0M908.1 685.2h0M908.1 685.5h0M908 686.1h0M908 686.5h0M909.3 687.5h0M909.3 687.9h0M909.3 688.1h0M909.3 688.3h0M909.4 688.6h0M909.3 689.1h0M909.3 689.3h0M909.3 689.5h0M909.3 689.8h0M909.4 690.4h0M909.3 691.8h0M909.3 692.5h0M910.4 689.8h0M910.5 691.9h0M910.5 692.1h0M910.5 692.6h0M910.5 693.2h0M910.4 693.5h0M910.5 694.1h0M910.5 695.5h0M910.5 695.8h0M910.5 697.1h0M914.2 689.3h0M914.2 699.9h0M914.2 700.6h0M914.2 700.8h0M914.2 701.6h0M914.3 703.6h0M916.7 698.7h0M916.7 699.1h0M916.7 699.9h0M916.7 701h0M916.8 701.2h0M916.7 701.7h0M916.7 702.2h0M916.7 702.9h0M916.7 703.1h0M916.8 703.5h0M920.4 688.2h0M920.5 699.6h0M920.5 702.1h0M921.7 701.3h0M921.7 702.2h0M921.7 702.4h0M921.7 702.5h0M921.8 703h0M921.7 703.6h0M922.9 690.8h0M922.9 695.6h0M922.9 695.9h0M923 701.5h0M923 702.3h0M922.9 702.5h0M922.9 702.9h0M925.4 699.8h0M925.4 700.1h0M925.4 700.6h0M925.5 701.3h0M925.5 703.6h0M927.9 697.8h0M927.9 698.1h0M927.9 698.7h0M927.9 698.9h0M928 699.1h0M927.9 699.6h0M927.9 701h0M927.9 701.3h0M927.9 701.5h0M928 701.7h0M927.9 703.2h0M929.1 699.5h0M929.1 699.6h0M929.2 700.1h0M929.2 700.3h0M929.2 700.5h0M929.1 701.1h0M929.1 701.6h0M929.2 701.8h0M929.2 702h0M929.2 702.3h0M930.3 699.4h0M930.3 699.8h0M930.4 700.7h0M930.4 701.3h0M930.4 701.5h0M878.1 694.5h0M879.4 704.6h0M879.5 706.9h0M882 705.6h0M882 713.1h0M883.2 704.4h0M883.2 705.2h0M883.2 706h0M883.2 706.7h0M883.3 708.4h0M884.4 704.2h0M884.4 705h0M884.4 705.9h0M884.5 706.7h0M884.5 708h0M884.4 709.3h0M884.4 632.8h0M888.2 704.1h0M888.2 704.8h0M888.2 705.3h0M888.2 705.9h0M888.3 706.5h0M888.2 707h0M888.2 707.7h0M888.2 708.5h0M888.2 712.6h0M889.3 703.9h0M889.3 704.4h0M889.4 704.9h0M889.4 706.7h0M889.4 707.4h0M889.3 708.8h0M891.8 704.1h0M891.9 705.2h0M891.9 710h0M891.9 710.6h0M891.9 713.1h0M891.8 716.2h0M891.9 720.2h0M893.1 704.5h0M893.1 705.3h0M893.2 706.2h0M893.2 707.3h0M893.2 709.2h0M893.1 713.1h0M894.3 704.5h0M894.4 705.6h0M894.4 706.8h0M894.4 708.2h0M895.6 704.5h0M895.6 705.6h0M895.6 707.2h0M896.8 704.3h0M896.8 705.9h0M898.1 704.6h0M904.3 640.8h0M905.5 594.5h0M914.2 705.1h0M914.2 705.8h0M914.2 708.3h0M914.2 737.7h0M916.7 704.3h0M916.7 705.6h0M916.7 706.8h0M920.4 705.6h0M920.5 706.5h0M920.5 707.3h0M920.5 708.2h0M920.5 709h0M920.4 710h0M920.5 716.4h0M920.5 716.8h0M920.5 721.3h0M921.7 704.2h0M921.7 705h0M921.7 706.4h0M921.7 708.4h0M921.8 709.3h0M921.7 710.2h0M921.7 711.1h0M921.7 718h0M922.9 704.2h0M922.9 705h0M922.9 705.9h0M923 707.3h0M923 710.2h0M922.9 711.4h0M925.4 704.5h0M925.4 705.6h0M925.4 706.8h0M925.5 707.9h0M925.5 709.1h0M925.4 715.5h0M925.4 717.3h0M925.4 718.9h0M925.5 726.5h0M927.9 704.3h0M929.1 707h0M930.3 704.7h0M694.7 671.5h0M719.9 671.6h0M751.1 671.6h0M751.1 672.5h0M677.5 676.8h0M692.3 677.1h0M772.8 668.5h0M770.1 668.9h0M808.7 669.9h0M815 670.5h0M823.4 671.1h0M785.4 671.1h0M783.6 671.7h0M785.4 671.8h0M818.8 671.9h0M781.5 672.5h0M853.2 672.5h0M784 673h0M808.7 673.2h0M808.7 673.5h0M808.7 673.7h0M754.2 674.5h0M853.2 675.4h0M848.3 676.8h0M782.6 677.1h0M770.1 677.7h0M814.8 677.7h0M935.1 672.6h0M736.7 678.6h0M712.1 679.5h0M739.2 679.5h0M713.4 680.3h0M713.4 680.9h0M714.5 681.4h0M713.4 681.7h0M713.9 682.1h0M728 681.9h0M751.1 681.3h0M742.9 682.6h0M751.1 682.5h0M703.2 683h0M700.8 683.5h0M668.7 683.9h0M671.5 684.4h0M673.9 684.6h0M678.8 684.7h0M653.9 685h0M709.4 684.1h0M720.8 684.4h0M746.8 684.5h0M693.5 685.2h0M746.8 685.4h0M749.3 685.3h0M650 685.9h0M652.4 685.9h0M693.5 686h0M636.5 686.3h0M733.9 686.3h0M675.7 685.3h0M756.4 678.1h0M818.8 678.1h0M818.8 678.2h0M803.7 678.4h0M785.1 678.8h0M787.5 679h0M772.6 679.7h0M848.3 679.7h0M808.7 680.2h0M814.8 680.2h0M782.4 680.7h0M818.5 680.8h0M768 681h0M770.1 681.2h0M780 681.3h0M784.3 681.3h0M756.7 681.8h0M765.2 681.8h0M770.2 682h0M784.2 681.9h0M818.5 681.9h0M768.8 682.6h0M818.5 682.4h0M818.5 682.7h0M818.5 682.9h0M827.4 682.7h0M828.6 682.9h0M823.4 683.1h0M828.6 683.2h0M831 683.3h0M858.4 683.1h0M763.9 683.5h0M783.7 683.1h0M781.3 683.4h0M786.6 683.5h0M828.6 683.6h0M818.8 683.8h0M782.7 684.1h0M828.6 684.1h0M747.2 684.5h0M818.8 684.6h0M784.2 684.7h0M784.2 685h0M818.8 685h0M814.8 685.3h0M818.8 685.4h0M803.5 685.3h0M803.5 685.7h0M783.9 685.4h0M782.7 685.6h0M747.2 685.4h0M748.9 685.3h0M770.4 685.9h0M782.7 686.1h0M784.2 686.4h0M819.4 686h0M819.4 686.1h0M828.6 686.2h0M828.6 686.5h0M776.6 686.4h0M766.7 686.5h0M774.2 686.6h0M819.4 686.5h0M937.5 682h0M934 682.9h0M938.9 685h0M934 686.3h0M934 686.6h0M935.4 687.6h0M937.5 687.6h0M772.6 531.9h0M753.6 542.2h0M790 563.4h0M753.8 578.8h0M753.8 584h0M768.5 585.9h0M727.9 595.3h0M772.6 607.9h0M772.6 609.4h0M779.7 613.1h0M769.9 615.5h0M772.6 624.4h0M694.6 628.6h0M808.4 640.9h0M803.5 645.9h0M803.5 650.9h0M808.4 654.6h0M768.5 646.4h0M751.4 649.8h0M772.6 651.4h0M782.4 654.6h0M772.6 660.2h0M727.9 663.9h0M836.9 599h0M836.9 617h0M830.8 628.4h0M934 644h0M947.3 658.9h0M823 652.9h0M828 653.7h0M828 657.9h0M830.8 661.6h0M828.6 664.4h0M690.8 733.5h0M727.9 719.9h0M727.9 749.5h0M727.9 763.6h0M727.9 789.4h0M751.4 736.1h0M753.8 805.2h0M765.1 722.9h0M772.6 727.7h0M772.6 730.5h0M773.7 739.8h0M770.2 769.8h0M768.7 777h0M772.6 813h0M782.4 751.8h0M782.4 776.4h0M782.4 795.4h0M782.4 733.3h0M785.1 734.2h0M803.8 807.4h0M663.1 713.8h0M691 714.7h0M727.9 712.9h0M823.4 762.9h0M836.9 787h0M823.4 802.2h0M943.6 766h0M844.7 735.2h0M943.3 723.1h0M941.1 725.9h0M772.8 904.7h0M753.8 970.4h0M736.3 714.2h0M748.5 713.8h0M754 711.9h0M803.6 713.3h0M808.4 717.6h0M814.8 710.2h0M814.9 713.7h0M814.8 716.6h0M814.9 719.6h0M823.6 718h0M823.6 724.3h0M823.6 732.9h0M808.7 727h0M814.8 727.4h0M828.7 719.2h0M831 722.7h0M828.7 727.8h0M828.3 741.9h0M830.6 713.3h0M836.9 721.2h0M836.9 725.8h0M844.7 711.8h0M844.9 714.9h0M844.7 718h0M848.2 714.1h0M844.7 735.2h0M855.5 707.9h0M855.5 713.3h0M858.4 715.3h0M836.9 706.3h0M844 706.3h0M636.9 693.3h0M636.9 687.5h0M637.1 688.7h0M636.8 689.2h0M639.3 693.9h0M639.2 695.2h0M641.6 697.3h0M642 696.1h0M641.8 692h0M648 696.3h0M647.8 690.7h0M647.8 688.7h0M648.1 692.7h0M647.9 693.8h0M648.2 688.7h0M648.1 690h0M647.9 689.7h0M649.3 689.9h0M649.5 696.1h0M649.1 684.2h0M649.2 691.7h0M649.5 690.8h0M649.2 693.3h0M649.4 690.6h0M649.1 690.3h0M649.2 692h0M649.3 694.6h0M649.5 696.2h0M649.2 691.2h0M651.8 691.2h0M651.6 690.7h0M651.7 690.1h0M651.6 690.5h0M651.7 693.9h0M651.6 696.1h0M651.7 694.4h0M651.6 703.6h0M651.7 690.9h0M651.8 689h0M651.8 689.1h0M651.7 690.1h0M651.7 694.4h0M651.9 694.7h0M653.2 691.5h0M653.1 692.2h0M653.1 692.5h0M653 692.5h0M652.9 689.4h0M652.8 690.7h0M653.1 694.9h0M653.1 693.6h0M653.2 691.4h0M652.8 701.7h0M654.2 694.4h0M654.4 694.5h0M654.3 693.3h0M654.3 690.9h0M654.2 696.3h0M654.1 688.6h0M654.2 694h0M654.1 689h0M654.2 692.5h0M654.2 691.3h0M654.3 693.6h0M654 691.7h0M656.7 697.1h0M656.6 689h0M656.5 691.8h0M656.7 687.9h0M656.5 692.3h0M659.3 691.8h0M659.3 696.5h0M666.8 687.6h0M666.6 688.2h0M666.5 689.1h0M666.7 687.9h0M666.7 688h0M666.5 687h0M666.7 687.2h0M666.4 687.7h0M666.6 691.7h0M666.5 689.6h0M666.6 686.4h0M666.8 688.9h0M666.8 686.8h0M666.7 691.6h0M668 691h0M667.7 691.7h0M667.9 687.8h0M667.8 689.9h0M667.8 695.1h0M667.9 686.2h0M667.7 691.9h0M667.9 689.7h0M667.8 687.3h0M667.7 688.4h0M667.7 689.8h0M667.8 685.7h0M667.8 688.8h0M667.8 687h0M668 689.3h0M667.9 689h0M668 688.1h0M667.7 689.4h0M667.9 687.8h0M668.1 688.6h0M668.9 689.2h0M669 691.7h0M669.2 687.2h0M669.2 690.6h0M669.3 687.8h0M669.3 698.5h0M668.9 687.3h0M669.3 689.7h0M669.3 692h0M669 690.1h0M669.1 687.7h0M669.2 689h0M669.1 689.7h0M670.2 686.8h0M670.2 689.2h0M670.2 685.5h0M670.4 693.7h0M670.3 689.3h0M670.4 688.6h0M670.3 691.8h0M670.5 687.9h0M670.4 689.6h0M670.4 688h0M670.3 688.9h0M670.3 691.8h0M670.3 687.3h0M670.5 687.3h0M670.6 688.2h0M670.5 691.7h0M670.4 689h0M670.6 691.3h0M670.5 697h0M670.3 694.1h0M670.4 689.3h0M670.3 691h0M671.6 690.2h0M671.5 688.1h0M671.7 689.7h0M671.5 689.4h0M671.7 690.7h0M671.5 691.6h0M671.6 689.7h0M671.5 688.8h0M671.7 689.2h0M671.4 689.7h0M671.4 688.8h0M671.7 687.8h0M671.6 694.4h0M671.7 688.8h0M671.4 689.6h0M671.8 690.5h0M671.7 689h0M671.7 693.4h0M671.5 689.6h0M671.8 689h0M671.8 688.3h0M671.4 693h0M671.4 689.5h0M671.7 687.9h0M671.5 690.4h0M671.6 690.4h0M671.5 690.6h0M671.6 692.6h0M673 688.1h0M672.9 686h0M672.9 687.3h0M672.8 687.2h0M673 691.2h0M673.1 689.4h0M673 686.6h0M672.7 688.9h0M672.7 685.7h0M672.7 690.7h0M672.7 689.8h0M673.1 702.2h0M672.7 687h0M672.8 698.1h0M672.7 689.2h0M672.8 687.5h0M673 690.6h0M672.7 684.5h0M675.1 689.5h0M675.2 691.2h0M676.4 687.5h0M676.5 688.7h0M676.4 689.3h0M676.8 688.7h0M676.7 688.8h0M676.5 687.8h0M676.5 686.7h0M676.5 690.6h0M676.6 688.1h0M676.8 691.4h0M676.6 690.1h0M676.5 686.5h0M676.4 690.6h0M676.6 689.9h0M676.5 687.1h0M678 686.6h0M678 687.6h0M678 687.9h0M678 689.3h0M677.7 694.8h0M677.7 689.5h0M677.8 688.7h0M677.7 692.6h0M677.6 689.9h0M677.6 687.2h0M677.8 690.8h0M677.7 687h0M677.7 694h0M677.8 689.3h0M677.9 691.2h0M677.7 689.5h0M677.6 690.3h0M677.7 688.7h0M677.6 694.8h0M678 694.7h0M678 690.9h0M678.9 689.6h0M679.2 691.4h0M678.9 691.2h0M679.1 689.8h0M679 688.2h0M679.1 691.4h0M679.1 695.1h0M679.2 689.8h0M679.2 692.3h0M679.2 691.1h0M679.2 691.4h0M678.9 689.4h0M679.3 691.7h0M679.2 692.7h0M678.9 689.7h0M679.3 691.1h0M678.9 689.6h0M679.1 693h0M679.2 690.1h0M679 690.1h0M678.9 692.4h0M678.9 690.9h0M679 688.1h0M679 689.6h0M679.1 689.7h0M679.3 690.3h0M679.2 691.2h0M679.2 686.5h0M679 690h0M679.3 693.1h0M678.9 687.6h0M679 690.9h0M679.1 687.6h0M679.1 687.5h0M679 694.4h0M678.9 688.9h0M678.9 691.4h0M679.1 689.1h0M678.9 686.5h0M678.9 688.1h0M679.2 688.6h0M679.1 687.7h0M679.2 686.7h0M679 691.7h0M679.2 688h0M679.2 685.7h0M678.9 687.6h0M679 689.8h0M680.5 691.2h0M680.3 685.5h0M680.3 686.9h0M680.4 689h0M680.2 688.4h0M680.2 689.6h0M680.2 689.2h0M680.2 691.7h0M680.2 687.6h0M680.5 692.8h0M680.2 697.3h0M680.1 686.8h0M680.2 688.5h0M680.4 690.2h0M680.1 687.7h0M680.5 688.6h0M680.3 686.5h0M680.1 687.8h0M680.5 688.5h0M680.3 687.2h0M680.3 689.2h0M680.1 695h0M680.4 686.2h0M680.2 688.7h0M680.4 694h0M680.1 687.3h0M680.1 687.9h0M680.3 684.7h0M680.1 687.2h0M680.2 688h0M680.1 688.7h0M680.3 690.1h0M680.5 691h0M680.4 687.5h0M680.2 685.8h0M680.4 688.7h0M680.1 689h0M680.3 690h0M680.4 689.9h0M680.3 688.5h0M680.4 688.4h0M680.3 688h0M681.3 688.2h0M681.5 687.4h0M682.8 690.6h0M682.8 690.9h0M682.6 690.2h0M682.7 688.2h0M682.6 691.3h0M682.9 689.8h0M682.6 685.6h0M682.8 687.2h0M682.7 690h0M683 689.6h0M682.8 689.6h0M682.7 690.3h0M682.8 687.4h0M682.7 689.4h0M682.8 692.7h0M682.9 692.2h0M682.7 686.6h0M682.9 686.5h0M683 687.3h0M682.6 689.6h0M682.7 686.4h0M682.9 687.5h0M683 690.7h0M682.8 686.7h0M683 686.9h0M682.6 688.4h0M683.8 694.1h0M683.9 687.2h0M684.2 689.1h0M684.2 689.2h0M684.1 689.1h0M684.2 687.9h0M684.1 689.8h0M684.1 689.5h0M684.2 691.4h0M686.6 688.1h0M686.4 688.2h0M686.7 687.3h0M686.6 691.3h0M686.4 687.8h0M686.4 688.7h0M686.6 686.4h0M686.3 691.2h0M686.6 695.4h0M686.6 689.3h0M686.4 688.1h0M686.4 688.7h0M686.5 686.4h0M686.5 687.4h0M686.7 686.1h0M686.7 690.4h0M686.5 690.8h0M686.5 691.9h0M686.4 689.1h0M686.7 688.5h0M686.6 689.4h0M686.6 697.2h0M686.7 688.6h0M686.4 690.9h0M687.7 687.8h0M687.7 684.7h0M687.9 688.7h0M687.7 687.6h0M687.6 690.3h0M687.7 687.9h0M687.7 687.5h0M687.9 690.5h0M687.9 688.8h0M687.6 686.8h0M687.6 687.8h0M687.9 691.2h0M687.9 687.5h0M687.6 688.1h0M687.9 686.1h0M687.6 688.6h0M687.7 692.5h0M687.6 690.7h0M687.9 687.7h0M687.8 688.1h0M687.6 688.4h0M687.6 687.5h0M687.8 687.5h0M687.7 686.6h0M687.6 688.8h0M687.7 687.6h0M689 688.9h0M688.9 688.6h0M689 686.6h0M688.9 690.4h0M689 692.6h0M689.1 685.2h0M690.3 687.5h0M690.5 692.2h0M690.1 693.7h0M690.1 689.1h0M690.2 688h0M690.3 690.5h0M690.3 691.6h0M690.3 691.8h0M690.4 689.8h0M690.3 691.8h0M690.3 690.8h0M690.4 689.1h0M690.4 689.4h0M690.3 689.4h0M690.4 689.1h0M690.2 687.9h0M690.5 688.1h0M690.1 690.5h0M690.4 687.5h0M690.3 688.9h0M690.2 691.8h0M694.1 691h0M694.1 688.1h0M693.9 688.4h0M693.8 687.6h0M693.9 687.1h0M693.9 692.8h0M693.8 688.1h0M694.1 690.6h0M693.8 689.8h0M693.8 688.7h0M694 687.2h0M694.2 688.2h0M693.8 689.1h0M693.9 691.2h0M693.9 692.4h0M694.1 690.1h0M693.9 687h0M694 687h0M693.8 687.7h0M694 691.3h0M694.1 689.1h0M693.8 690.6h0M694 687.6h0M694 690h0M693.8 690h0M693.8 688.3h0M694.2 687.9h0M695.3 687.2h0M695.1 689.7h0M695 691.3h0M695.3 691.7h0M695.1 695.9h0M695.1 690.5h0M695.2 688.4h0M695.2 692h0M695.1 690.8h0M695.2 688.2h0M695.2 687.7h0M695.2 692.1h0M695 694.4h0M695.1 688.3h0M695.1 688.5h0M695.3 690.6h0M645.6 697.1h0M645.7 699.3h0M645.4 698h0M645.5 696.4h0M645.6 697.3h0M645.3 703.3h0M645.3 697.4h0M645.8 696.6h0M645.6 701.8h0M649.2 691.7h0M649.1 703.7h0M649.3 698.9h0M649.2 699.6h0M649.4 692.8h0M649.5 693.6h0M650.4 695.3h0M650.6 696.9h0M651.7 695.9h0M651.9 694h0M651.8 704.7h0M651.6 699.6h0M651.8 693h0M651.7 699.1h0M651.6 694.9h0M651.6 695.2h0M659.3 697.5h0M659.1 695h0M659.1 703.1h0M659.2 704.5h0M659.2 694.6h0M665.3 696.2h0M665.3 694h0M666.8 691h0M666.5 694.8h0M666.7 701.8h0M666.7 696.2h0M670.3 698h0M670.4 698.6h0M670.2 694.2h0M670.6 699.3h0M671.5 694.9h0M671.4 700h0M671.6 696.8h0M671.5 696.8h0M671.8 700.2h0M672.9 700.7h0M673 692.3h0M672.9 700.4h0M672.9 687.9h0M672.8 696.3h0M673 698.2h0M673 693.4h0M672.9 694.1h0M672.7 703.9h0M677.7 696.1h0M678 694.9h0M684.1 701.4h0M684.2 691.1h0M684.2 693.8h0M683.8 697.1h0M684.2 698.7h0M684.2 700.3h0M686.5 697.4h0M690.4 695.4h0M690.4 695.9h0M691.6 701.7h0M691.6 707.1h0M695.1 699.1h0M695.2 700.1h0M695.2 694.1h0M695.3 697.7h0M695 695h0M700.2 688.5h0M700 689.1h0M700 689.1h0M700 685.4h0M700.3 687.5h0M700.2 686.4h0M700.2 685.4h0M700 686h0M700.3 689.4h0M700 687.8h0M700.3 689.6h0M700 687.4h0M700.2 685.5h0M700.3 688.4h0M700 686.2h0M700.2 684.1h0M700.3 682.7h0M700 692.3h0M700.1 688.2h0M700.4 691.8h0M700.4 687.5h0M700.2 683.2h0M700.3 686.9h0M700.3 690.4h0M700.3 687.8h0M700.1 691.6h0M700 691.1h0M700.1 683.4h0M700.2 688.6h0M700.4 689.9h0M700 688h0M700.1 688.5h0M700.2 685.1h0M700 687.3h0M700 682.8h0M700 692.1h0M700.2 685.5h0M700.1 694.3h0M700.1 691.3h0M700 682.6h0M700.1 683.7h0M700.2 691h0M700 694.6h0M700.1 685.6h0M700.2 686.1h0M700.3 686.2h0M700.2 690.5h0M700.1 687.5h0M700.2 685.5h0M700.1 692.2h0M700.3 687.4h0M701.2 685.9h0M701.6 693h0M701.6 697.4h0M701.5 708.7h0M701.3 692.9h0M701.6 691.7h0M701.4 685.1h0M701.3 691h0M701.4 686.1h0M701.5 689.9h0M701.3 688.5h0M701.5 694.5h0M701.4 690.1h0M701.6 687.5h0M702.7 686.4h0M702.7 682.9h0M702.5 686.3h0M702.5 687.1h0M702.8 689.9h0M702.7 694.4h0M702.7 692.6h0M702.8 691h0M702.6 686.3h0M702.7 687.6h0M702.7 695.2h0M702.6 690.1h0M702.6 685.8h0M702.5 693h0M702.5 685.8h0M705.1 685h0M705.1 682.2h0M705.3 684.7h0M705.3 686.8h0M705.3 690.9h0M706.4 689h0M706.5 692h0M706.4 689.7h0M706.3 694.8h0M706.4 684.5h0M706.5 692.7h0M706.5 692.1h0M706.3 690.2h0M706.5 684.6h0M706.3 685.9h0M706.4 689.7h0M706.3 685.6h0M707.6 691.4h0M707.8 683.7h0M707.6 685.9h0M707.4 689.5h0M707.5 683.9h0M707.6 685.3h0M707.5 693.3h0M707.6 685.7h0M707.4 686.5h0M707.8 687.9h0M707.5 689.3h0M707.7 685.1h0M707.8 687.2h0M707.6 685.5h0M707.8 685.3h0M707.4 689.1h0M707.6 696h0M707.6 685.1h0M707.8 686.2h0M707.8 689.3h0M707.5 687.8h0M707.5 685.4h0M707.6 687.2h0M707.6 689h0M707.5 693h0M707.8 687h0M707.8 685h0M707.8 686.2h0M707.8 681.9h0M709 684.8h0M709.1 692.6h0M708.9 690.5h0M708.9 686.5h0M708.9 692.9h0M708.8 689.6h0M708.7 686.4h0M708.8 693.7h0M708.7 686.1h0M708.7 696.1h0M709 684.5h0M708.9 686.3h0M708.8 687.7h0M708.7 685.7h0M708.8 683h0M709.1 687h0M708.9 689.4h0M708.7 691.2h0M708.7 685.7h0M708.8 687.8h0M711.3 685h0M711.4 687.8h0M711.5 686.7h0M711.2 688.3h0M711.5 688.8h0M711.5 691.7h0M711.2 693.2h0M711.3 688.9h0M711.5 693.3h0M711.6 691.4h0M711.6 686h0M711.2 692.4h0M711.5 690.6h0M711.2 689.5h0M711.3 698.2h0M712.6 685.4h0M712.5 685.9h0M712.7 694.5h0M712.7 691.8h0M712.4 689.5h0M712.8 685.8h0M712.6 686h0M712.5 690.9h0M712.7 695.7h0M712.4 685.9h0M712.6 684.6h0M712.8 684.7h0M712.6 685h0M712.8 688.7h0M712.4 685.4h0M712.6 688.6h0M712.6 686.5h0M712.4 697h0M712.7 685.1h0M712.7 686.7h0M712.5 686.6h0M712.5 691.4h0M712.7 685.8h0M712.7 685h0M712.6 694.3h0M712.5 685.6h0M712.6 684.7h0M712.8 692.9h0M712.7 697.1h0M712.5 686.2h0M712.5 685.8h0M715 686.5h0M714.9 685.8h0M715.2 691.4h0M715.1 696h0M715.2 688.3h0M714.9 684.7h0M715.1 687h0M715 687.3h0M715 686.1h0M715 684h0M715 687.5h0M715 687.4h0M715 689.1h0M715 690h0M715.1 686.1h0M715.3 690.8h0M715 687.4h0M714.9 693.2h0M715.2 691.4h0M714.9 684.2h0M715.1 687.4h0M715.1 686.6h0M715 688.6h0M715 689.7h0M714.9 686.3h0M715 690.6h0M715.2 694.8h0M715 685.3h0M714.9 693.2h0M715.2 695.4h0M715.2 686.4h0M714.9 686h0M716.4 686.3h0M716.5 685.7h0M716.5 681.5h0M716.5 688.4h0M716.5 691.8h0M716.5 688.7h0M716.4 683.8h0M716.2 684.6h0M716.1 697.2h0M716.5 684.9h0M716.3 691.8h0M716.5 688.2h0M716.2 699.7h0M716.2 690.4h0M716.2 690.9h0M716.3 688.5h0M716.4 686.6h0M716.4 682.9h0M716.2 686h0M716.3 688.2h0M716.3 691.7h0M716.4 693.3h0M716.4 697.2h0M716.4 690.8h0M716.4 699.9h0M716.4 687.7h0M716.3 689.6h0M716.1 687.8h0M716.1 687.3h0M716.3 686.6h0M716.2 686.8h0M716.5 695.8h0M716.3 688.2h0M716.3 686.8h0M716.4 683.9h0M716.5 687.2h0M716.5 688.8h0M716.4 702.4h0M716.3 685.5h0M717.7 689.2h0M717.5 688.8h0M717.7 690.1h0M717.5 687.3h0M717.7 686.1h0M717.4 688.2h0M717.7 687h0M717.4 685.6h0M717.6 686.5h0M717.7 685.2h0M717.5 686.2h0M717.7 686.4h0M717.6 690.1h0M717.6 690.4h0M717.7 683.3h0M717.5 683.9h0M717.5 687.3h0M717.7 686.7h0M717.5 685h0M717.4 686.6h0M717.5 686.6h0M717.4 688.8h0M717.7 686.5h0M717.5 691.6h0M717.7 689.3h0M717.6 685.5h0M717.4 685.6h0M717.7 690.6h0M717.5 700.4h0M717.6 685.5h0M717.4 685.6h0M717.3 687h0M717.4 686.3h0M717.5 686.6h0M717.6 685.2h0M717.6 689.2h0M717.5 685h0M717.4 688.9h0M717.4 686.4h0M717.5 684.9h0M717.7 689.6h0M717.7 685.7h0M717.4 692.1h0M717.7 686h0M717.7 684.1h0M717.6 689.7h0M717.6 686h0M717.6 697.1h0M717.5 687.4h0M717.4 683.3h0M717.6 686.9h0M718.9 688.9h0M718.8 689.6h0M718.6 692.8h0M718.9 687.7h0M718.8 687.7h0M718.8 691.2h0M718.7 698.4h0M718.9 691.1h0M718.9 689.1h0M718.7 686.4h0M718.7 688.2h0M718.9 689.7h0M718.6 686.1h0M718.6 688.9h0M719 690.4h0M718.8 685.5h0M718.7 696.3h0M718.6 689.7h0M719 687.8h0M718.8 691.4h0M718.8 685.9h0M718.8 692.4h0M719 687.2h0M718.9 693.4h0M718.8 694.4h0M718.8 686.8h0M718.7 690.6h0M718.7 693.5h0M720.1 695.7h0M720 689.4h0M720.2 686.2h0M720.1 702h0M720.1 690.6h0M719.9 686.2h0M720.1 686.4h0M719.9 683.1h0M720.1 686.5h0M720.2 688.6h0M720.1 686.4h0M719.9 686.2h0M720.2 689.5h0M720 686.9h0M720.2 695.4h0M720.2 685h0M720.3 686.7h0M719.9 691.4h0M720 693.5h0M720.2 687h0M719.9 691.3h0M721.4 684.6h0M721.2 684.6h0M721.5 687.3h0M721.3 694.2h0M721.1 690h0M721.3 692.6h0M721.4 684.7h0M721.2 687.8h0M721.2 686.7h0M721.4 687.3h0M721.5 687.4h0M721.2 689h0M721.4 691.3h0M721.3 694.2h0M721.1 687h0M721.1 691.2h0M721.4 686h0M721.4 686.5h0M721.3 686.4h0M721.5 693.2h0M721.3 692.7h0M721.4 689h0M722.7 690h0M722.6 689h0M722.6 684.4h0M722.3 692.7h0M722.7 685.2h0M722.7 689h0M722.6 688.5h0M722.7 686.5h0M722.4 684.1h0M722.7 687.7h0M722.4 695.6h0M722.6 686h0M722.4 690.8h0M722.5 690.8h0M722.5 688.4h0M722.7 689.3h0M722.4 696h0M722.3 684.7h0M722.3 686.6h0M722.3 689.1h0M722.6 685.3h0M722.3 698.3h0M722.4 684.2h0M722.3 684.3h0M722.6 686.1h0M722.4 683.9h0M722.5 690.5h0M722.5 689.3h0M722.6 689.4h0M722.3 686.5h0M722.4 688.8h0M728.7 704h0M728.7 694.1h0M728.5 698.8h0M728.7 699.1h0M728.9 696.1h0M728.5 703.2h0M728.8 698.5h0M728.7 696.9h0M728.7 696.9h0M728.6 696.3h0M728.6 697.9h0M728.7 695.2h0M728.8 700.5h0M728.9 695.4h0M728.8 692.3h0M728.6 693.8h0M728.9 701.6h0M728.6 701.1h0M728.8 694h0M728.7 698.7h0M728.7 698.5h0M728.9 698.9h0M728.6 695h0M728.7 701.1h0M728.5 699.5h0M728.6 696.5h0M728.5 703.5h0M728.8 696.1h0M728.9 698.5h0M728.6 697.4h0M729.8 693.7h0M729.9 694.5h0M729.9 697.6h0M729.8 695.1h0M730.1 698.5h0M729.8 698h0M730.2 702h0M730.2 700.7h0M729.9 692.6h0M729.9 693.6h0M729.9 694.8h0M729.9 690h0M729.9 692.7h0M729.8 702.8h0M729.9 696.8h0M729.8 694.4h0M730.2 695.9h0M729.9 694.9h0M730.1 698.1h0M729.8 698.8h0M730.1 693.9h0M730 696.6h0M730.1 699.1h0M729.9 700.7h0M730 699.3h0M730 692.4h0M730 699.5h0M730.1 691h0M730 705.6h0M729.9 696h0M729.9 696.7h0M729.8 692.2h0M730 694.3h0M730.1 696.1h0M731.4 695.9h0M731 699.8h0M731.3 697.5h0M731.3 697.4h0M731 696.2h0M731.2 700.2h0M731 698.1h0M731.4 699.3h0M731.1 695.6h0M731 694.7h0M731.4 695.6h0M731 695.4h0M731.2 700.4h0M731.4 698h0M731.4 699.8h0M731.3 696.2h0M731.1 698.6h0M731.2 694.1h0M731.2 696.4h0M731.2 696h0M731.1 693.2h0M731.3 691.5h0M731.1 703.6h0M731.2 702.6h0M731.4 694.8h0M731.1 700.7h0M731.3 694.8h0M732.3 692h0M732.4 695.8h0M732.7 693.7h0M732.6 694.3h0M732.4 696.6h0M732.5 696.3h0M732.4 698.8h0M732.3 698.5h0M732.5 701.1h0M732.2 696.5h0M732.5 696.3h0M732.5 698.6h0M732.3 698.9h0M732.4 697h0M732.5 697.3h0M732.3 696.4h0M732.4 696.5h0M732.3 695.9h0M732.6 700h0M732.4 698.5h0M732.3 705.4h0M732.2 697h0M732.6 713.4h0M732.2 697.7h0M732.4 702.5h0M732.4 696.9h0M732.3 700.7h0M732.5 699.5h0M732.3 698.4h0M732.6 696.5h0M732.3 700.6h0M732.6 701.5h0M732.4 693.5h0M732.5 692.5h0M732.7 699.9h0M732.5 696.7h0M732.7 692.8h0M732.3 700.8h0M732.3 696.4h0M732.3 696.8h0M732.4 691.9h0M732.5 694.1h0M732.6 695.4h0M732.3 701.9h0M732.5 701h0M732.5 694.4h0M732.5 695.3h0M732.5 696.3h0M732.6 696.2h0M732.6 696.2h0M732.6 702h0M732.7 702.4h0M732.6 699.8h0M732.6 698h0M732.4 695.1h0M732.4 699.7h0M732.3 697.4h0M732.3 697.1h0M732.4 695.1h0M732.3 693.9h0M732.5 697.6h0M732.6 696.4h0M732.6 697.3h0M732.4 702.9h0M732.5 701.2h0M732.6 697.8h0M732.5 695.9h0M732.3 695.9h0M732.3 700.9h0M732.4 696.7h0M732.5 696.4h0M732.5 697.2h0M732.7 698.9h0M732.4 694.8h0M732.6 692.2h0M732.6 699.2h0M732.4 695.5h0M732.5 693.7h0M732.4 697.1h0M732.2 699.7h0M732.6 698.5h0M732.3 700.7h0M732.3 698h0M732.4 695.3h0M732.4 695.9h0M732.3 697.1h0M732.5 699.1h0M732.3 697.8h0M732.6 693.8h0M732.6 705.4h0M733.8 695.7h0M733.9 697.2h0M733.5 699.8h0M733.6 700.1h0M733.7 695h0M733.8 693.5h0M733.7 697.3h0M733.9 700.4h0M733.5 694.1h0M733.8 698.2h0M733.5 701.4h0M733.7 700.4h0M733.9 694.3h0M733.7 693.5h0M733.7 696.6h0M733.7 695.9h0M733.7 700.2h0M734.9 700.2h0M734.9 695h0M735.1 696.3h0M734.8 694.8h0M735.1 696.6h0M735.1 697.5h0M734.9 694.1h0M735.1 696.5h0M734.9 696h0M734.9 697.7h0M734.9 695.3h0M734.9 695.4h0M734.8 698.3h0M734.9 697.6h0M734.8 693.6h0M735.1 692.4h0M735 698.7h0M734.9 696.6h0M734.7 703.2h0M734.8 699.3h0M734.9 693.5h0M734.9 700.8h0M735.1 697.5h0M734.9 696h0M734.8 689.4h0M735 692.2h0M734.7 694.8h0M735.1 695.3h0M734.8 694.9h0M735 700.5h0M734.8 691.2h0M734.9 694.5h0M734.9 699.2h0M735.1 698.5h0M734.8 693.8h0M735.1 694.8h0M734.9 689.8h0M735 695.1h0M734.9 696.9h0M734.8 699.6h0M734.8 695.5h0M734.9 697.8h0M735 694.4h0M734.9 698.6h0M734.9 692.9h0M735.1 692.7h0M735.1 690.9h0M735.1 692.4h0M734.9 697.4h0M734.9 697.2h0M735.1 699.7h0M735 696.2h0M735 689.2h0M735 693.3h0M734.8 696.2h0M734.9 696.3h0M736 693.6h0M736 702.1h0M736.2 703.4h0M736.1 695.4h0M736 696.6h0M736.2 704h0M736.1 699.7h0M736.3 697.6h0M736 696.5h0M736.2 695.8h0M736.3 703.4h0M736.2 699.8h0M736 697.6h0M736.3 701.8h0M736.3 698.9h0M737.4 694.3h0M737.2 689.8h0M737.4 696.6h0M737.4 691.5h0M737.5 694.9h0M737.4 692.4h0M737.5 694.1h0M737.3 701.8h0M737.5 697.4h0M737.5 688h0M737.5 698.7h0M737.4 696.5h0M737.6 697.1h0M737.5 695.3h0M737.3 692.8h0M737.3 691.9h0M737.6 696h0M737.3 695.5h0M737.5 697h0M737.5 696.4h0M737.3 691.8h0M737.6 697.2h0M737.2 698.5h0M737.3 695.3h0M737.5 694.6h0M737.4 695.1h0M737.6 694.1h0M737.3 690.9h0M737.3 695.2h0M737.5 701.7h0M737.4 704.6h0M737.3 695.4h0M737.5 694.7h0M737.5 694.1h0M738.5 692.7h0M738.9 696.9h0M738.7 690.7h0M738.7 695.7h0M738.5 696.9h0M738.6 704.1h0M738.5 698.7h0M738.5 693.1h0M738.6 695.1h0M738.6 697.3h0M738.6 693.6h0M738.8 696.1h0M738.8 692.4h0M738.8 695.1h0M738.8 693.4h0M738.8 699.3h0M738.8 695h0M738.6 695.5h0M738.6 693.2h0M738.7 693.2h0M738.8 701.1h0M738.7 700.6h0M741.1 710.5h0M741.3 699.9h0M741.3 696.3h0M741.2 697h0M741 700.5h0M741.2 695.5h0M741.4 700.8h0M741.1 697.3h0M741.1 696.9h0M741.1 691.1h0M741.1 695.4h0M741.2 699h0M741.1 697.4h0M741.3 703.7h0M741.2 696.4h0M741 698.3h0M741.1 691.6h0M741 696.4h0M741.1 699h0M741.2 699.2h0M741.3 702.8h0M741.4 694h0M741.3 700.5h0M741.3 702.9h0M741.1 698h0M741.2 696.5h0M741.1 696.7h0M741.1 696.5h0M741 698.8h0M741 696.5h0M741.3 698.6h0M741.2 699.5h0M741 699h0M741 697.9h0M741 695.1h0M741.1 697.5h0M741.1 699.7h0M741.3 692.7h0M741.2 693.9h0M741.1 700.8h0M741.2 698.8h0M741.2 698.8h0M741.3 701.3h0M741.3 696.4h0M741.1 693.7h0M742.2 698.7h0M742.5 694.6h0M742.2 697.5h0M742.4 693.8h0M742.5 696.1h0M742.5 698.3h0M742.3 693.9h0M742.3 693.5h0M742.4 693.7h0M742.3 694h0M742.3 693.3h0M742.4 695.9h0M742.5 696.6h0M742.4 693h0M742.6 700.6h0M742.5 693.8h0M742.4 696.2h0M742.3 692.9h0M742.6 698.5h0M742.4 698.1h0M742.3 693.7h0M742.6 689.6h0M742.2 692.1h0M742.2 689.4h0M742.2 701.9h0M742.3 694.8h0M742.6 697.3h0M742.2 697.9h0M742.4 695.4h0M742.2 691h0M742.3 695h0M742.4 695.9h0M742.5 691.1h0M742.5 699h0M742.4 694.5h0M742.4 693.2h0M742.5 694.5h0M742.4 702.9h0M742.5 696.3h0M743.7 697.9h0M743.6 696.1h0M743.4 697h0M743.6 698.7h0M743.6 697.5h0M743.7 696h0M743.8 698h0M743.4 695h0M743.8 701.4h0M743.6 698.7h0M743.4 697.9h0M743.5 699.2h0M743.4 696.5h0M743.8 692.7h0M743.8 697.1h0M743.6 697.3h0M743.5 692.4h0M743.8 695.3h0M743.6 691.9h0M743.5 694.2h0M745 696h0M745.1 691.5h0M744.8 697.1h0M745.1 692.2h0M745 692.5h0M744.7 702h0M744.7 693.2h0M745 695.5h0M744.9 697h0M744.9 688.4h0M745 695.2h0M744.7 696.6h0M744.7 700.8h0M744.9 696.5h0M744.9 701.3h0M744.9 693.8h0M744.7 693.4h0M744.8 692.8h0M744.8 695.8h0M744.7 692.1h0M744.8 696.9h0M744.7 692.9h0M744.9 694.6h0M744.9 698.1h0M744.7 698.8h0M744.9 695h0M745.1 693.2h0M744.9 697.2h0M744.7 696.4h0M744.8 694.7h0M744.7 700.6h0M745 694.8h0M744.8 698.1h0M744.8 692.8h0M744.9 693.9h0M745 689.4h0M744.9 696.1h0M744.9 696.9h0M744.7 695h0M744.8 697.7h0M744.9 692.9h0M745.1 700.4h0M744.7 699.8h0M744.7 695.4h0M745 693.4h0M744.8 692.4h0M745 694.2h0M744.9 693.4h0M744.7 693.2h0M744.7 695.5h0M745 695.1h0M745 693.8h0M744.9 694.4h0M745 694h0M744.8 692.3h0M745 696h0M745.1 697.9h0M744.9 695.5h0M744.8 694h0M745.1 692.8h0M744.7 698.2h0M746 698.1h0M746 700.9h0M746.3 693.4h0M746.1 696.6h0M746.3 690.8h0M746.3 693.2h0M746 698.4h0M745.9 695.5h0M746.2 696.6h0M746.1 701.4h0M746.2 696.3h0M745.9 700.5h0M746.2 697.5h0M746.1 698.3h0M746.3 698h0M746.3 698.7h0M746 695.1h0M746.1 696.2h0M746.2 697h0M747.4 692.4h0M747.6 696h0M747.4 695.3h0M747.4 695.7h0M747.3 698.2h0M747.2 692.5h0M747.3 694.9h0M747.5 694.3h0M747.4 696.9h0M747.3 693.5h0M747.4 691.5h0M747.3 695.4h0M747.4 696.3h0M747.3 691h0M747.1 696.7h0M747.4 695.3h0M747.3 694.2h0M747.6 698h0M747.3 691.8h0M747.4 698.2h0M747.4 698h0M747.4 690.4h0M747.3 696.8h0M747.3 700.6h0M747.4 694.5h0M747.2 699.5h0M747.3 695.8h0M747.2 693h0M747.5 694.4h0M747.5 694.4h0M747.4 695.9h0M747.3 697.4h0M747.4 694.4h0M747.6 691.7h0M747.3 701.6h0M747.2 692.5h0M747.3 695.5h0M747.4 691.2h0M748.6 693.3h0M748.8 699.8h0M748.7 694.9h0M748.7 698.9h0M748.4 694.4h0M748.6 701.4h0M748.5 696.6h0M748.6 697.4h0M748.8 697.6h0M748.5 695.4h0M748.6 697.6h0M748.5 696.9h0M748.4 696.3h0M748.4 700.5h0M748.4 697.2h0M748.6 701.6h0M748.6 701.9h0M748.7 697.8h0M748.6 696.4h0M748.6 699.4h0M749.7 699.1h0M749.8 697.7h0M750.1 693.3h0M750 697.3h0M749.9 698.1h0M749.9 697.4h0M750 697.5h0M749.9 700.8h0M749.7 698.6h0M749.9 696.2h0M749.7 692.7h0M749.7 697.9h0M750 699.9h0M749.7 692.9h0M749.8 694.6h0M749.9 694.5h0M749.7 691h0M750.1 698.9h0M750 702.3h0M749.8 703.6h0M750 695.4h0M749.8 704.5h0M749.9 691.1h0M749.8 696.5h0M749.8 694h0M750 699h0M749.7 695.7h0M749.7 693.9h0M749.7 692.9h0M749.7 697.3h0M749.9 689.7h0M749.9 695.3h0M749.7 698h0M749.9 695.6h0M749.9 693.7h0M750 698h0M749.7 695.3h0M749.8 694.3h0M749.7 695.2h0M749.8 693.8h0M750 689.8h0M749.7 695h0M749.7 698.7h0M749.7 695.3h0M750.1 697.4h0M749.7 696.2h0M749.9 707.9h0M751 700.3h0M751.3 701.2h0M751.2 698.2h0M751.2 689.5h0M751.1 704.1h0M751 692h0M751.2 692.8h0M751 697.6h0M751.3 693.5h0M751.1 698h0M751.2 698.3h0M751.3 700.2h0M753.6 698.1h0M753.5 700.4h0M753.7 697.6h0M753.4 694.8h0M753.8 700.6h0M753.6 694.3h0M753.5 698.7h0M753.5 694.8h0M753.4 697.8h0M753.7 698.4h0M753.8 700.9h0M753.5 704.4h0M753.5 697.6h0M753.6 693.7h0M753.4 695.2h0M753.6 699h0M753.6 693.1h0M753.4 696.9h0M753.7 699.6h0M753.7 697.9h0M753.5 696.2h0M753.8 699.1h0M755 694.4h0M755 694.6h0M754.8 692.2h0M754.7 696.3h0M754.8 696.3h0M754.7 695.1h0M754.9 697.6h0M754.9 699.9h0M754.7 699h0M754.7 694.5h0M754.8 696.3h0M754.8 693.5h0M754.6 695.7h0M754.9 694.5h0M754.7 693.3h0M754.9 697.9h0M754.6 696.9h0M754.8 699.8h0M755.9 693.7h0M756.2 697.3h0M756.1 696.8h0M756 696h0M756.2 695.6h0M755.9 698.3h0M756.1 690.1h0M756.1 690.9h0M756.2 694.6h0M756 702h0M756.2 694.8h0M756.2 694.9h0M756 692.9h0M756.1 695h0M756.2 698.9h0M756.2 700.4h0M755.9 694.2h0M757.4 700.5h0M757.2 700.8h0M757.1 699.5h0M757.4 697.6h0M757.2 695.2h0M757.3 697h0M757.4 696.7h0M757.5 693.9h0M757.4 700.2h0M757.4 699.7h0M757.1 700.2h0M757.3 696.5h0M757.5 694.7h0M757.4 697.5h0M757.2 698.2h0M757.4 698.9h0M757.2 701.1h0M757.2 693.4h0M757.3 701.3h0M757.1 699.1h0M757.5 695.7h0M757.2 701.7h0M757.5 697h0M757.2 700.8h0M757.3 694.7h0M757.1 697.8h0M758.5 699.7h0M758.3 694.2h0M758.7 692.2h0M758.7 699.9h0M758.6 697.7h0M758.4 696.7h0M758.6 695.3h0M758.7 691h0M758.7 692.9h0M758.6 700.9h0M758.4 696.5h0M758.5 691h0M758.3 695h0M758.5 697.3h0M758.6 702.1h0M758.6 696.9h0M758.5 694.6h0M758.5 694.3h0M758.7 693.9h0M758.7 704.4h0M758.7 698.2h0M758.7 699.5h0M758.5 702.2h0M758.7 697.5h0M759.6 706.6h0M759.7 696.5h0M759.9 697.8h0M759.7 700.9h0M759.9 695.7h0M759.8 694.1h0M759.8 693.4h0M759.7 698h0M759.9 695.1h0M759.8 693.1h0M759.8 695h0M759.6 692.5h0M759.8 698.2h0M759.9 701.6h0M759.6 697.5h0M760 703.2h0M759.9 697h0M759.8 698.4h0M761.2 699.3h0M760.9 705h0M760.8 701.4h0M760.9 696.3h0M761.1 698.4h0M760.9 700.2h0M762.2 692.5h0M762.1 703.2h0M762.5 695.4h0M762.2 694.9h0M762.2 691.8h0M762.4 695.9h0M762.4 688.6h0M762.4 694.6h0M762.2 699.9h0M762.3 693.8h0M762.3 693.1h0M762.3 700.8h0M762.3 695h0M762.2 697.8h0M762.4 697.9h0M762.1 694.1h0M762.1 696h0M762.1 698.8h0M762.1 700.3h0M762.3 694.3h0M762.4 696h0M762.3 695.9h0M762.5 695.8h0M762.4 689.6h0M762.5 701.6h0M762.3 701.6h0M762.4 693.4h0M762.4 693.3h0M762.5 695.6h0M762.4 700.8h0M762.1 698.8h0M762.2 694.9h0M762.3 698.3h0M762.2 695.3h0M762.1 693.5h0M762.1 699.4h0M762.3 698.7h0M762.4 691.2h0M762.5 699.8h0M762.1 688.2h0M762.1 705.7h0M762.2 697.5h0M762.4 698h0M762.5 696.1h0M762.3 701.9h0M762.4 701.3h0M762.1 698.8h0M762.4 700.9h0M762.5 697.4h0M762.5 688h0M762.4 691.6h0M762.4 693.5h0M762.5 699.1h0M763.5 701.7h0M763.4 697.9h0M763.3 693.3h0M763.6 697.6h0M763.4 699.2h0M764.6 694.7h0M764.7 699.1h0M764.8 699h0M764.5 696.7h0M764.6 696.4h0M764.9 706.6h0M764.8 697.8h0M764.8 695.7h0M764.9 699.8h0M764.8 697.1h0M764.9 697.5h0M764.6 696.8h0M764.6 695.2h0M764.7 693.7h0M764.9 697.3h0M764.9 695.1h0M764.7 695.1h0M764.8 696.6h0M764.7 698.4h0M764.6 692.8h0M764.6 702.6h0M764.6 698.6h0M764.9 703.8h0M764.9 690.8h0M764.8 698.4h0M764.7 698.2h0M764.6 694.1h0M764.9 702.3h0M764.7 692.8h0M766 695.2h0M766.1 694.4h0M766 697.2h0M766.1 701.9h0M766.2 698.4h0M766.1 696.3h0M765.9 696.1h0M766.2 695h0M766.1 693.7h0M765.8 693.6h0M766 699.6h0M765.9 694h0M766 694.6h0M766 696h0M766.1 691.8h0M766.1 699.9h0M765.8 698h0M766 696.8h0M766.1 698.4h0M766 689.7h0M766 699.4h0M766.1 690.1h0M767.3 696.8h0M767.3 697.9h0M767.3 697.6h0M767.2 699.7h0M767.3 704.4h0M767.3 701.5h0M767.1 696.5h0M767.3 698.6h0M767.1 700h0M767.1 693.9h0M767.4 697.2h0M767.3 697.8h0M767.2 696.1h0M767.1 695.5h0M767.3 701.6h0M767 698.8h0M767.4 695.4h0M767.4 695.8h0M767.1 697.4h0M767.4 700.7h0M767.1 696.6h0M767.1 695.5h0M767.2 697.3h0M767.2 702.5h0M767.1 699h0M767.3 695.1h0M767.3 693.4h0M767.2 695h0M767.2 692.4h0M767.4 698.4h0M767.4 698.5h0M767.2 698h0M767.2 696.3h0M767.4 702.9h0M767.1 696.9h0M767.3 695.3h0M767.4 694.1h0M767.4 696.1h0M767.4 695.3h0M767 691.2h0M767.1 699.9h0M767.3 696.9h0M767.1 697.7h0M767.4 694.8h0M767.3 696h0M767.3 695.7h0M767.1 700.2h0M767.4 695.7h0M767.3 692.3h0M767 689.3h0M767.2 693.3h0M767.1 697.6h0M767.3 692.5h0M767.2 693.6h0M767.1 694.1h0M767 699.4h0M767.2 697.4h0M767.3 694.4h0M767.4 700.5h0M767.4 698.5h0M767.3 696.2h0M767.4 694.5h0M767.4 697.5h0M767.3 696.6h0M767.2 701.5h0M767.3 702.8h0M767.3 699.7h0M767.2 693.3h0M767.3 700.4h0M767.1 695.1h0M767.2 694.3h0M767.4 698h0M768.5 696.5h0M768.6 696.1h0M768.5 694.9h0M768.3 698.9h0M768.4 699h0M768.7 691.2h0M768.4 708h0M768.7 695.6h0M768.4 695.7h0M768.5 694.8h0M768.7 692.3h0M768.4 701.6h0M768.3 698h0M768.4 698.8h0M768.5 695.7h0M768.6 696.1h0M768.3 696.7h0M768.5 701.1h0M768.6 697.4h0M768.6 694.7h0M768.4 696.5h0M768.5 708.1h0M768.3 697h0M768.3 705.5h0M768.4 697.6h0M768.5 706h0M768.5 698.4h0M768.4 700.5h0M768.4 698.3h0M768.5 714.1h0M768.6 700.6h0M768.4 699.6h0M768.5 700.5h0M768.7 699.1h0M768.3 697h0M768.3 698.4h0M768.5 698.8h0M769.6 692.7h0M769.8 693.5h0M769.6 700.2h0M769.6 695.3h0M769.6 697.5h0M769.5 692.9h0M769.6 696.8h0M769.9 696.2h0M769.9 699.7h0M769.8 692.4h0M769.7 698.2h0M769.8 700h0M769.8 694.4h0M769.7 693.9h0M769.6 706h0M769.5 691.8h0M769.7 696.3h0M769.6 696.6h0M769.7 702.6h0M769.7 698.1h0M769.8 696.4h0M769.6 694.3h0M769.8 699h0M769.7 697.6h0M769.5 700.8h0M769.5 694.4h0M769.6 705.1h0M769.8 696.4h0M769.7 697.1h0M769.5 695.8h0M769.6 691.6h0M769.6 700.5h0M769.5 700.9h0M769.8 700.6h0M769.8 697.6h0M769.8 694.7h0M769.6 691.7h0M769.9 694.6h0M769.6 698.3h0M769.8 695.3h0M770.8 701.7h0M770.9 699.3h0M771 694.7h0M771 694.9h0M771.1 697.1h0M770.9 697.6h0M771.1 697.3h0M771.1 694.5h0M771 695.7h0M770.8 695.2h0M771 706.9h0M771 695.1h0M770.8 704.2h0M770.9 703.2h0M771.1 694.7h0M770.8 691.9h0M770.9 697.8h0M771.1 696.1h0M771 696.1h0M771 697.5h0M770.9 694.1h0M771 697.2h0M770.9 697.1h0M771.1 694.1h0M771.1 692.3h0M771 694.4h0M771 701h0M771 697.4h0M771.1 696.1h0M771 693h0M770.9 701.1h0M770.9 696.8h0M771 702.4h0M770.9 697.1h0M771 699.5h0M770.9 698.8h0M770.8 694.5h0M770.9 696.3h0M771.1 699.8h0M771 696.4h0M770.9 700.8h0M770.9 695.1h0M770.9 694.5h0M770.8 698.2h0M771 697.5h0M771.1 699.9h0M773.4 696.1h0M773.3 703.4h0M773.5 693.1h0M773.5 691.6h0M773.4 694.9h0M773.4 699.9h0M773.2 705.6h0M773.5 695.5h0M773.5 695.9h0M773.6 694.2h0M773.4 695.4h0M773.4 695h0M773.3 705.3h0M773.5 697.7h0M773.3 699.3h0M774.8 694.1h0M774.7 698.3h0M774.6 695.3h0M774.7 693.8h0M774.6 689.5h0M774.5 699.4h0M774.6 699.1h0M774.8 691.5h0M774.7 692.1h0M774.7 696.8h0M774.6 697.4h0M774.9 701.2h0M774.5 692.2h0M774.5 697.6h0M774.9 694.1h0M774.6 694.2h0M774.6 699.7h0M774.8 696.2h0M774.6 701.5h0M774.6 702.2h0M774.5 694.5h0M774.6 696.6h0M774.7 698.2h0M774.7 696h0M774.8 702.6h0M774.6 695.6h0M774.6 693.9h0M774.8 692.1h0M774.6 694.1h0M774.5 700.6h0M774.6 694.8h0M774.9 697h0M774.7 704h0M774.5 701.7h0M774.8 698.5h0M774.6 698.5h0M774.6 697.2h0M774.7 701.3h0M774.6 700.1h0M774.5 695.7h0M774.8 697.7h0M774.6 694.7h0M774.7 699.3h0M776.1 696.2h0M776.1 696.3h0M775.7 694.9h0M776.1 694.3h0M775.8 690h0M776.1 691.3h0M775.7 701.6h0M775.9 695.2h0M775.9 699.4h0M776 700.4h0M775.8 697.4h0M775.9 693.5h0M775.8 701.2h0M775.8 699.3h0M775.8 696.6h0M775.9 694.2h0M776.1 694h0M776 693.4h0M776.1 699.7h0M775.8 696.6h0M775.9 696.4h0M776 695.3h0M776.1 696.1h0M775.9 695.4h0M776.1 694.7h0M776.1 694.9h0M776 694.3h0M775.9 692.3h0M776 691.7h0M776 697.1h0M775.9 695.7h0M775.9 697h0M775.9 689.3h0M775.8 693.6h0M776 699.5h0M776.1 692.5h0M775.8 693.8h0M775.9 693.4h0M775.7 696.7h0M776 695.4h0M776.1 692.5h0M775.8 698.2h0M775.8 693.1h0M775.9 694.5h0M776 693.7h0M775.7 700.2h0M775.9 698.9h0M776.1 696.6h0M775.8 691.4h0M775.9 692.7h0M777.3 697.2h0M777.2 697.9h0M777 702.5h0M777 693.7h0M777 700.3h0M777 699.5h0M777.3 696.9h0M777 694.6h0M777.3 695.8h0M776.9 696.8h0M777.3 694h0M777.1 696.4h0M777.3 695.4h0M777.1 701h0M777.1 700.1h0M777.1 705h0M777.2 696.4h0M777.1 699.3h0M777 698.8h0M777.3 694.6h0M777 694.9h0M777.2 688.8h0M777.3 697.1h0M777.1 696.9h0M777.1 699.5h0M777 696.6h0M777.3 695h0M778.3 701.9h0M778.5 694.2h0M778.4 696.8h0M778.6 697.8h0M778.6 698.4h0M778.6 701.4h0M778.5 701.9h0M778.4 696.7h0M778.4 706h0M778.4 699.5h0M778.4 694h0M778.2 694.2h0M778.3 696.9h0M778.4 697h0M778.4 698.8h0M778.5 690.5h0M778.6 692.7h0M778.2 694.6h0M778.3 698.1h0M778.5 698h0M778.5 699.7h0M778.2 697.3h0M778.5 697.9h0M778.5 694.6h0M778.4 694.5h0M778.2 699.4h0M778.4 696.7h0M778.3 702.3h0M778.4 693.7h0M778.3 698.5h0M778.2 702.1h0M778.4 699.3h0M778.2 697.9h0M778.4 698.8h0M778.5 696.3h0M778.3 696.8h0M778.5 699h0M778.3 695.2h0M778.6 696.6h0M779.6 701.5h0M779.8 697.2h0M779.5 699.9h0M779.8 691.4h0M779.5 693.6h0M779.7 697.6h0M779.8 699.8h0M779.8 699.4h0M779.8 697.3h0M779.5 699h0M779.6 697h0M779.8 695.5h0M779.5 701.6h0M779.8 695.8h0M779.7 694.1h0M779.8 697.6h0M779.5 697.7h0M779.5 700.5h0M779.4 696.6h0M779.9 695.5h0M779.8 691.6h0M779.5 697.7h0M779.7 699.9h0M779.8 692.1h0M779.8 697.6h0M779.6 697.6h0M779.5 696.6h0M779.8 693.4h0M779.9 698.5h0M779.7 691.7h0M779.8 702.1h0M779.7 694.5h0M779.8 703.1h0M779.8 695.1h0M779.5 697.2h0M779.7 692.9h0M779.5 693.6h0M779.6 694.9h0M779.6 697.4h0M780.8 699.2h0M780.9 696.2h0M781 696.4h0M780.9 696.6h0M780.7 698.6h0M781 698.8h0M780.7 695.1h0M780.7 700.3h0M781.1 694.2h0M781.1 697.8h0M780.7 700.9h0M781 698h0M780.8 701.8h0M781 694.3h0M780.8 694.5h0M781 699.4h0M780.9 696.2h0M781.1 693.6h0M780.9 697.7h0M780.7 696.1h0M780.8 696.4h0M780.8 698.6h0M782.1 701.8h0M782 696h0M782 696.5h0M782.2 691h0M782.3 700.8h0M782 699.5h0M782.2 693.9h0M782.3 692.3h0M782.2 695.3h0M782 697.6h0M782.1 699.5h0M782.3 695h0M782.2 700.3h0M782.1 697.9h0M783.4 691.9h0M783.5 696h0M783.4 695.7h0M783.2 693h0M783.3 694.9h0M783.3 693.1h0M783.6 695h0M783.6 693.1h0M783.2 695.3h0M783.4 694.3h0M783.4 695.2h0M783.2 693.6h0M783.4 695h0M783.2 698.9h0M783.5 692.7h0M783.3 696h0M783.3 696.4h0M783.2 693.9h0M783.6 693.4h0M783.5 700.2h0M783.4 693.3h0M783.4 700.1h0M783.5 691.4h0M783.4 700.4h0M783.3 695h0M783.3 701.1h0M783.5 698.5h0M783.2 695.3h0M784.4 698.1h0M784.6 698.4h0M784.6 692h0M784.4 695.4h0M784.7 695.4h0M784.8 693.8h0M784.6 701.3h0M784.8 699h0M784.4 701.6h0M784.6 696.8h0M784.7 701h0M784.4 693.8h0M784.8 697.4h0M784.5 699h0M784.8 697.9h0M784.6 696.8h0M784.4 700.6h0M784.6 695.8h0M784.6 695h0M784.6 700.3h0M784.5 696.3h0M784.5 694.5h0M784.8 698.6h0M784.8 707.4h0M784.6 698.3h0M784.6 701.1h0M784.8 693.6h0M784.4 693.1h0M784.5 699.3h0M784.7 698.3h0M784.7 695.5h0M784.8 703.6h0M784.8 690.7h0M784.8 693.2h0M784.4 698.1h0M784.7 699.5h0M784.5 701.3h0M784.5 696.4h0M785.9 696.9h0M785.9 695.4h0M785.7 694.3h0M785.9 696.8h0M785.7 693.2h0M785.9 700.3h0M786 691.9h0M785.7 694.6h0M785.8 693.6h0M785.9 700.7h0M785.8 699.6h0M786 695.4h0M786 693.5h0M785.8 694.4h0M786 701.7h0M785.8 697.3h0M786 698.3h0M786 694.1h0M785.9 695.5h0M785.7 696.1h0M785.9 696.1h0M785.7 694.8h0M785.8 698.9h0M785.8 695h0M785.7 695.9h0M785.9 699.8h0M785.7 696.8h0M785.7 697.7h0M785.9 696.5h0M786 695.8h0M786 695.2h0M785.7 694.5h0M786 695.6h0M786 696.9h0M785.7 696.9h0M785.8 693.9h0M785.6 698.8h0M786 696.9h0M785.9 699.3h0M785.8 698.4h0M785.9 697.9h0M786 700.7h0M785.9 696.7h0M785.8 694.6h0M785.9 697.8h0M785.6 696.6h0M785.9 694.5h0M785.8 693.9h0M785.8 696.2h0M785.8 694.2h0M785.7 697.4h0M785.8 694.1h0M786.1 693h0M785.9 697.9h0M785.7 694.3h0M785.9 695.8h0M785.6 695.9h0M785.9 704.2h0M785.7 692.8h0M785.8 700.6h0M786 703.9h0M786 696.6h0M785.7 695.1h0M786 698.1h0M785.8 693.4h0M785.7 691.2h0M785.9 696.9h0M785.8 692.5h0M785.8 698h0M786 694h0M786.1 696.8h0M785.7 694.3h0M786 696.6h0M785.8 694.6h0M785.9 696.8h0M786 697.1h0M785.6 698.8h0M785.8 694.9h0M785.8 691.8h0M785.7 700.9h0M785.9 696.2h0M785.7 692.8h0M785.8 695.6h0M785.7 699.4h0M785.8 696.3h0M785.8 694h0M785.6 700.6h0M785.7 698h0M786.1 696h0M786.1 703.1h0M787 700h0M787.1 699.4h0M787 697.7h0M787.2 694.3h0M787 704h0M786.9 693.3h0M786.9 703.6h0M787 701h0M787 697.4h0M787 698.4h0M787.2 695h0M787.1 692.5h0M787 701.4h0M786.9 696.1h0M787.1 705.7h0M786.9 704.1h0M786.9 703.1h0M788.5 698.1h0M788.2 698.3h0M788.4 696.7h0M788.5 702.2h0M788.2 699.9h0M788.5 698h0M788.5 696.8h0M788.3 697.2h0M788.2 695.7h0M788.4 698.6h0M788.4 700.4h0M788.2 694.1h0M789.7 694.7h0M789.7 696.8h0M789.7 700.7h0M789.5 697.5h0M789.5 694.6h0M789.7 703.3h0M789.5 693.3h0M789.8 696.3h0M789.5 694.2h0M789.5 695.5h0M789.6 695.2h0M789.7 695h0M789.4 704h0M789.5 694.9h0M789.7 688.6h0M789.6 698.7h0M789.4 698h0M789.6 700.2h0M789.8 700.5h0M789.6 701h0M789.7 692.7h0M789.6 695.3h0M789.5 697.6h0M789.4 704h0M789.5 696.5h0M789.8 693.9h0M789.7 696.4h0M789.5 696.8h0M789.4 696.2h0M789.7 694.9h0M789.7 700.8h0M790.8 698.6h0M790.9 700.8h0M790.7 700.7h0M790.8 696.4h0M791 698.3h0M790.6 702.7h0M790.9 696.8h0M790.6 699.2h0M790.9 694.2h0M790.9 699.4h0M790.9 699.6h0M790.9 696.8h0M790.9 694.7h0M790.9 696.1h0M790.7 701.7h0M790.7 696.5h0M790.9 697.6h0M790.7 695.5h0M790.6 695h0M790.7 695.4h0M790.9 707.3h0M790.7 697.5h0M790.7 694.7h0M790.9 693.2h0M790.9 698.5h0M790.7 696.9h0M790.6 694h0M790.8 697.5h0M790.8 695.6h0M790.9 698.1h0M791 701.4h0M790.6 698.2h0M790.8 700.8h0M791 696.7h0M790.8 693.8h0M790.6 700.5h0M790.8 694.7h0M790.7 696.5h0M790.8 697.7h0M790.7 704.1h0M790.8 698.6h0M790.7 695.7h0M790.7 695.4h0M790.9 695h0M790.8 692.8h0M790.9 697.2h0M790.8 693.3h0M790.9 698.5h0M790.9 696.1h0M791 699h0M792 695.4h0M791.9 700.1h0M792 696.2h0M792.1 695.3h0M792 694h0M792.2 693.7h0M791.9 695.4h0M792 703.7h0M792.1 701.3h0M791.8 694.2h0M792 695.1h0M791.9 696.2h0M792.1 694.7h0M793.2 698.4h0M793.2 694.7h0M793.3 699.1h0M793.3 703.1h0M793.2 696h0M793.1 700.7h0M793.4 696.3h0M793.2 687.2h0M793.2 695.8h0M793.2 698.6h0M793.4 699.2h0M729.9 690.9h0M731.3 688.4h0M731.2 694.1h0M731 688.9h0M731.2 691.8h0M732.5 686.2h0M732.5 689.3h0M732.7 689.4h0M732.4 690.6h0M732.5 689.3h0M732.3 692.6h0M733.7 688.1h0M733.7 689.2h0M733.8 692.1h0M735 689.3h0M734.8 686.9h0M735 686.3h0M734.7 689.4h0M734.9 690.5h0M736 692.1h0M736.3 686.4h0M736.2 687.3h0M736.2 688.9h0M736 684.8h0M736.1 691.1h0M736.2 691h0M736 687.6h0M736 686.6h0M736.2 689.4h0M737.6 690.4h0M742.4 693.6h0M742.3 688.2h0M742.3 691.4h0M742.3 689.7h0M744.7 691.3h0M744.7 688.5h0M746.2 688.5h0M746.2 688.4h0M745.9 688.9h0M746.1 689.1h0M746 687.6h0M746.2 688.5h0M748.7 685.8h0M748.8 691.3h0M751 690.3h0M751 688.2h0M751.2 687.4h0M752.4 686.8h0M752.5 686.8h0M752.4 692.1h0M752.5 688.9h0M756.1 692.1h0M756.3 692.5h0M756 688.7h0M755.8 690h0M756 687h0M756 687.5h0M756.1 692.1h0M756 685.6h0M756.2 685h0M758.5 691.5h0M758.4 690.3h0M758.6 690.9h0M761.1 690.6h0M760.8 688.3h0M761 691.7h0M762.2 688.1h0M762.2 688.1h0M762 688.2h0M762.3 691h0M762.4 690.8h0M763.3 689.9h0M763.6 689.8h0M763.5 690.1h0M763.6 688.2h0M763.4 691.4h0M766.1 694.2h0M766 689.5h0M766 690.1h0M767.2 692.8h0M767.1 691.7h0M767.3 687.1h0M767.4 690.1h0M773.4 687h0M773.5 685.9h0M773.2 692.6h0M776.1 691.4h0M776 693.8h0M776.1 687.8h0M777.3 688.8h0M778.5 688.9h0M778.5 691.1h0M778.3 694.7h0M778.5 692.3h0M778.4 691h0M779.5 687.6h0M779.6 693.7h0M781 689.2h0M781 689.9h0M780.9 687.4h0M781.1 688.8h0M780.7 686.9h0M785.9 690.2h0M785.9 689.9h0M789.5 687.7h0M789.5 689.3h0M789.6 689.3h0M789.6 689.7h0M789.7 691.1h0M789.5 691.6h0M789.6 686.6h0M789.4 686.9h0M789.4 690.1h0M789.7 690.9h0M789.5 690.7h0M790.6 688.5h0M790.8 687.2h0M791 687.4h0M791 688.4h0M790.9 690.9h0M800.6 695.2h0M800.6 699.2h0M800.6 695.4h0M800.5 695.4h0M800.6 698.9h0M801 696.8h0M800.8 694.9h0M800.5 694.6h0M800.7 700.5h0M800.9 694.2h0M800.7 695.4h0M800.9 697.1h0M800.8 692.7h0M800.7 698.1h0M800.5 696.3h0M800.7 697h0M800.8 699.7h0M800.9 693.8h0M800.8 692.8h0M800.7 698.6h0M800.9 706.1h0M800.6 695h0M800.7 695h0M800.6 696.1h0M800.9 699.2h0M800.8 699.1h0M800.6 703.8h0M800.7 700h0M800.7 698.4h0M800.6 699.6h0M800.8 693.1h0M800.6 697.5h0M800.6 698.5h0M800.9 698.5h0M800.6 694.3h0M801.9 697.4h0M802 698h0M801.9 699.1h0M802.1 699.9h0M802 694.2h0M802.1 697.8h0M802 697.9h0M802.1 699h0M801.9 698.2h0M801.9 699.1h0M801.9 698.4h0M801.8 696.8h0M802.2 697.2h0M801.8 702.1h0M802.1 695.8h0M802.1 697.6h0M801.9 694.5h0M801.9 696h0M801.9 695.7h0M801.8 695.5h0M801.8 697.5h0M802.1 696.5h0M801.9 701.1h0M801.8 697.4h0M802.1 695.1h0M801.9 699.3h0M802.2 699.7h0M801.8 692.7h0M802 696.5h0M802.1 697h0M802.2 702.2h0M801.9 697.1h0M802.1 697.8h0M801.9 701h0M802.1 697.3h0M802 698.5h0M802.1 696.9h0M802 695.7h0M801.9 701.8h0M802.1 696.1h0M801.9 694.5h0M801.9 699.8h0M801.9 697.4h0M802 697.6h0M802.2 704.4h0M802.1 698.2h0M801.9 702.5h0M801.8 696.6h0M802.1 698.8h0M802.2 700.3h0M801.8 698.2h0M802 695.4h0M802 697.8h0M802.1 695.3h0M802 701.5h0M802.1 706.9h0M801.9 700.5h0M802.1 699.9h0M803.4 695.7h0M803.3 700.9h0M803.2 698.2h0M803.2 702h0M803.1 694.6h0M803.1 700.9h0M803.4 698.2h0M803.3 700.5h0M803.1 698.4h0M803.4 694.1h0M803 697.6h0M803.2 697h0M803.2 696.9h0M803.4 698.4h0M803.4 697.3h0M803.1 695.4h0M805.7 700.3h0M805.8 696.7h0M805.5 696.2h0M805.8 699.6h0M805.8 698.9h0M805.8 694h0M805.9 697.2h0M805.9 696.5h0M805.5 697.8h0M805.9 695.8h0M805.9 697.4h0M805.7 694.6h0M805.6 695.5h0M805.5 696.9h0M805.7 697h0M805.9 701.7h0M805.6 696.4h0M805.8 697.9h0M805.7 698.3h0M805.7 700.1h0M805.6 697.1h0M805.9 696.2h0M808 700.3h0M808.4 694.8h0M808.2 696.9h0M808.4 696.5h0M808.3 696.4h0M808.4 695.9h0M808.4 699.2h0M808.1 698.3h0M808.3 700h0M808.1 700.6h0M808.1 696.8h0M808.2 698.5h0M808.2 698.8h0M808.2 698.9h0M808.2 699.2h0M808.2 696.8h0M808.3 694.2h0M808.2 697.8h0M808.2 696.7h0M808.2 699.7h0M808 698.3h0M808.4 701h0M808.3 698.9h0M808.2 695.6h0M808.3 699.9h0M808.2 695.9h0M808.1 699.1h0M808.2 700.2h0M808.1 697h0M808.3 696.9h0M808 696.7h0M808.3 697.2h0M808.3 701.1h0M808.2 698.8h0M808.4 698.6h0M808.2 697.8h0M808.2 697.2h0M808 697.8h0M808 697.6h0M808.4 698.8h0M808 695.9h0M808.1 703h0M808.4 696.9h0M808.4 697.1h0M808 697.8h0M808.1 699.7h0M808.2 697.8h0M808.1 697.4h0M808.4 697.3h0M808.1 696.9h0M808.3 698.4h0M808.2 695.3h0M808 696h0M808 700.1h0M808.3 697.6h0M808.1 698.3h0M808 696.9h0M808.2 701h0M808.1 696.9h0M808 697.4h0M808.4 697.1h0M808.2 700.7h0M808.3 696.3h0M808.4 696.9h0M808.1 697h0M808 694.2h0M808.3 698.7h0M808.2 700.5h0M808.2 698.1h0M808.1 695.4h0M808.2 700h0M808.1 698.9h0M808.2 694.8h0M808.2 695.8h0M808.3 700.7h0M808.1 696.6h0M808.3 699.9h0M808.2 701.8h0M808.3 695.3h0M808.4 699.5h0M808 696.4h0M808.2 695.4h0M808.1 693.8h0M808.3 697.7h0M808.1 696.3h0M808.4 694.5h0M808.1 694h0M808 696.7h0M812 699.2h0M812 692.6h0M811.9 701.6h0M812 698.1h0M811.9 695.9h0M812.1 699.8h0M812 699.1h0M812 700.9h0M812.1 697.8h0M812.1 696.6h0M812 700.5h0M812 698.6h0M812 696.8h0M811.9 698h0M812 694h0M812 697h0M811.9 695.8h0M811.8 698.1h0M811.9 698.3h0M811.9 700.7h0M812.1 694.9h0M812.1 694.2h0M812 695h0M811.9 697h0M811.9 702.7h0M811.7 697.6h0M811.8 699.6h0M811.9 696.9h0M811.7 701h0M812.1 696.5h0M812 697.7h0M811.9 698.1h0M812 694.4h0M811.8 694.7h0M812.1 696.4h0M811.8 698.5h0M812 699h0M812 696.7h0M812 694.9h0M811.8 698.5h0M812 697h0M812 694.4h0M811.7 694.6h0M812 695.2h0M812.1 696.7h0M812.1 696.8h0M811.8 695.8h0M812.1 695.5h0M812.1 696.9h0M812.1 698.4h0M812 696.1h0M811.8 695.2h0M811.9 698.5h0M812 693.8h0M811.9 699.7h0M811.8 692.4h0M811.9 699.4h0M814.6 697.9h0M814.6 696.2h0M814.6 696.8h0M814.4 689.5h0M814.5 695.4h0M814.4 691.3h0M814.4 691.3h0M814.3 694.6h0M814.4 697.4h0M814.5 690.8h0M814.3 701.8h0M814.5 693.3h0M814.5 686.3h0M814.2 692.5h0M814.5 697.4h0M814.3 693.3h0M814.3 693.4h0M814.6 700.3h0M814.6 693.3h0M814.6 697.3h0M814.4 692.5h0M814.5 693.1h0M814.4 694.3h0M814.2 690.7h0M814.4 698.2h0M814.2 692.4h0M814.4 696.4h0M814.3 695.9h0M814.6 695.5h0M814.5 701.3h0M814.4 692.6h0M814.3 698h0M814.5 694.1h0M814.5 701.1h0M814.5 689.6h0M814.4 692.9h0M814.4 692.8h0M814.3 694.1h0M814.2 694.5h0M814.3 693.7h0M814.2 696.7h0M814.4 695.9h0M814.5 697.8h0M814.5 696.9h0M814.4 692.2h0M814.6 698.7h0M814.5 695.7h0M814.3 697.6h0M814.3 692.1h0M814.4 694.8h0M814.6 694.9h0M814.2 694.5h0M817 692.6h0M816.7 695h0M816.9 693.4h0M817.1 698.8h0M817 695.5h0M816.7 693.6h0M816.8 695.3h0M817.1 698.3h0M816.7 696.4h0M817.1 694.8h0M816.7 693.1h0M817 695h0M817.1 694.1h0M817 692.2h0M817.1 698.3h0M816.9 696.9h0M816.9 697.8h0M816.9 699.5h0M817 694.1h0M816.8 692.4h0M816.8 694.9h0M817.1 697.5h0M816.9 697.9h0M816.7 695.6h0M816.8 692.7h0M816.9 691.2h0M817 691.3h0M817 692.3h0M816.7 693.3h0M817 691.8h0M817 694.9h0M816.7 695.8h0M816.9 701.2h0M816.8 692.4h0M816.7 689.9h0M817 694.7h0M816.7 694h0M816.7 699h0M816.9 696.6h0M817 702.2h0M817.1 694.4h0M816.7 691.9h0M816.9 691h0M817 694h0M817.1 692.9h0M816.8 697h0M816.8 698h0M817 694.4h0M816.8 695.4h0M816.7 691.6h0M817 696.4h0M816.7 694.1h0M817 694.6h0M817 695h0M816.7 693.4h0M816.9 700.6h0M816.7 695.7h0M817 697.3h0M817 694.2h0M816.8 693.5h0M817 689.8h0M816.9 692.2h0M816.7 696.3h0M816.7 696h0M816.8 696.4h0M817.1 698.3h0M817.1 703.3h0M817 696h0M816.9 692.3h0M816.8 692.1h0M817.1 693.9h0M817 693.3h0M816.9 693.2h0M816.7 692.6h0M816.7 693h0M817.1 692.8h0M817 696.8h0M817 693.9h0M817.1 699.4h0M816.8 694h0M817.1 694.5h0M817 694h0M817 698.1h0M816.8 694h0M817 691.8h0M817.1 699.3h0M817 693h0M816.9 693.6h0M817 693.6h0M817.1 695.4h0M816.7 696.3h0M817.1 699.5h0M816.8 696h0M817 696.6h0M816.7 691.5h0M816.8 697.2h0M816.9 691.6h0M816.9 697.2h0M816.9 695.6h0M816.9 698.9h0M816.8 700.9h0M817 697h0M816.7 700.1h0M816.8 692.9h0M817 696.8h0M816.8 693.5h0M816.8 696.2h0M816.8 696.4h0M819.3 691.1h0M819.3 692.1h0M819.3 695h0M819.2 697.8h0M819.3 696.5h0M819.5 690.3h0M819.2 690.7h0M819.3 701.7h0M819.4 696.8h0M819.3 697.9h0M819.3 693h0M819.2 690.2h0M819.4 695.4h0M819.5 690.9h0M819.4 691.1h0M819.4 692.2h0M819.2 693.2h0M819.4 693h0M819.6 695.7h0M819.3 696.7h0M819.5 690.2h0M819.2 693.4h0M819.6 699.8h0M819.4 692.5h0M819.3 701.2h0M819.5 693.4h0M819.2 695.8h0M819.5 704h0M819.5 693.9h0M819.5 695.4h0M819.6 694.5h0M823 690.5h0M823.3 693.7h0M822.9 695.6h0M823.2 700h0M823 698.4h0M823 693.5h0M823.1 695.2h0M822.9 692.5h0M823.2 695.3h0M823.3 695.3h0M823 693.4h0M823.1 693.7h0M822.9 694.5h0M823 695.3h0M822.9 695.2h0M823.3 693.6h0M822.9 694.8h0M823.2 697.9h0M823.2 695.8h0M823.2 696.5h0M822.9 693.3h0M823.1 697.2h0M823.2 694.4h0M823.2 698.6h0M823.1 693.8h0M823.2 692h0M823.1 694.2h0M823.1 692.9h0M822.9 696.9h0M823.3 695.9h0M823.2 695.2h0M823 696.5h0M822.9 697.4h0M823.1 698.1h0M823 692.3h0M823.2 694h0M823.2 692.1h0M823.2 694.7h0M823.2 694.4h0M823.1 697.6h0M823 694.3h0M823 691.7h0M823.2 694.4h0M823.1 697.2h0M823.3 692.5h0M822.9 692.1h0M823.2 693.6h0M823.3 695.1h0M822.9 692.7h0M822.9 700.9h0M823 690.9h0M823.1 695h0M823 690.2h0M823 696.8h0M825.8 698.3h0M825.5 692.2h0M825.6 699.4h0M825.4 690.5h0M825.6 694.2h0M825.8 702.4h0M825.5 699.7h0M825.5 695.8h0M825.6 693.5h0M825.8 697.9h0M825.6 692.6h0M825.7 694.4h0M825.8 700.5h0M825.7 692.8h0M825.8 693.3h0M825.5 693.9h0M825.6 696.8h0M825.5 690.5h0M825.6 696.9h0M825.4 694.2h0M825.5 693.7h0M825.6 693.6h0M825.6 698.6h0M825.8 691.9h0M825.4 696.9h0M825.7 699.8h0M825.8 696.2h0M825.5 697.4h0M825.4 694.5h0M825.6 694.8h0M825.5 697.5h0M825.4 699.4h0M825.6 703.8h0M825.4 698.4h0M825.7 697.5h0M834.2 692.8h0M834.1 691.2h0M834.5 695.5h0M834.1 695.3h0M834.3 690.9h0M834.3 694.5h0M834.1 692.6h0M834.4 697.1h0M834.3 693.8h0M834.3 698.3h0M834.5 698.2h0M834.1 693.6h0M834.2 697.1h0M834.5 697.9h0M834.1 697.8h0M834.4 693.3h0M834.4 695h0M834.1 695h0M834.2 696.4h0M834.5 696.2h0M834.3 696h0M834.5 693.6h0M834.3 693.8h0M834.4 689.6h0M834.1 697.7h0M834.3 694.2h0M834.5 696.3h0M834.4 693.4h0M834.3 692.8h0M834.2 690.8h0M834.1 690.2h0M834.4 700.5h0M834.3 697.9h0M834.3 697.8h0M834.2 699.3h0M834.4 693.9h0M834.4 694.1h0M834.2 695h0M834.5 696h0M834.2 697.1h0M834.3 696.5h0M834.1 695.3h0M834.4 692.5h0M834.4 699.8h0M834.3 696.1h0M834.4 695.8h0M834.3 695.6h0M834.1 694.4h0M834.2 696.8h0M834.2 696.3h0M834.4 693.6h0M834.1 695.7h0M834.2 692.5h0M834.3 689.1h0M835.4 694.8h0M835.3 694.4h0M835.6 701h0M835.5 694.2h0M835.7 693.6h0M835.4 695.4h0M835.4 702.6h0M835.4 695.8h0M835.3 689.7h0M835.3 698.4h0M835.6 695.2h0M835.5 697.2h0M835.4 697.4h0M839.4 695.9h0M839.4 692.4h0M839.4 700.8h0M839.1 697h0M839.1 694.1h0M839.4 697.3h0M839.4 695.8h0M839.3 695.2h0M839.3 698.1h0M839.3 698h0M839.3 691.5h0M839.3 697.5h0M839.3 695h0M839.4 694.1h0M839.2 695.6h0M840.6 694.2h0M840.7 694.2h0M840.3 698.6h0M840.6 692.7h0M840.5 697.8h0M840.4 691.8h0M840.4 701.2h0M840.5 693.4h0M840.6 697.9h0M840.3 698.1h0M840.6 694.4h0M840.4 691.8h0M840.6 693.4h0M840.5 697.5h0M840.4 691.1h0M840.4 698.9h0M840.6 692.3h0M840.3 694.5h0M840.3 698.2h0M840.4 696.8h0M840.3 693.8h0M840.4 691.3h0M840.3 688.8h0M840.6 691.9h0M840.7 719h0M840.7 691.8h0M840.4 695.8h0M840.3 696.3h0M840.3 693.6h0M840.4 692.9h0M840.3 696.3h0M840.3 692.5h0M840.7 690h0M840.5 693.5h0M840.7 697.5h0M840.3 696.9h0M840.6 692.7h0M840.3 698h0M840.4 691.7h0M840.5 693.6h0M840.4 691.1h0M840.6 694.5h0M840.6 690.9h0M840.5 690h0M840.6 691.3h0M840.6 693.4h0M840.5 697.9h0M840.7 694.9h0M840.4 692.1h0M840.4 688.8h0M840.6 693.4h0M840.7 697.3h0M840.7 696.4h0M840.5 692h0M840.4 691.5h0M840.6 693.1h0M840.4 693h0M840.6 696.9h0M840.4 694h0M840.6 693.3h0M840.4 691.8h0M840.4 694.3h0M840.4 693.4h0M840.4 693.1h0M840.5 693.2h0M840.3 689.5h0M840.3 689.6h0M840.4 693.9h0M840.4 693.9h0M840.5 693.9h0M840.3 691.9h0M840.7 693.7h0M840.7 693.4h0M840.3 698.4h0M840.3 696h0M840.5 697h0M840.3 696.2h0M840.4 692.7h0M840.3 693.3h0M840.5 692.6h0M840.5 694.3h0M840.6 693.5h0M840.7 694.2h0M840.5 695.2h0M840.3 698.9h0M840.4 691.8h0M840.3 692.8h0M840.7 698.1h0M840.3 694.5h0M840.7 699.8h0M840.7 693h0M840.5 692.7h0M840.5 701.1h0M840.5 692h0M840.7 697.5h0M840.6 691.3h0M840.4 694.7h0M840.3 696.9h0M840.5 698.1h0M840.6 696.5h0M840.5 695.4h0M840.5 692.9h0M840.6 692.9h0M840.3 692h0M840.5 692.8h0M840.4 697.1h0M840.7 695.1h0M840.6 699.3h0M840.3 691.9h0M840.4 697.8h0M840.4 695.1h0M841.7 697.9h0M841.6 691.6h0M841.8 694.7h0M841.9 692.5h0M841.7 695.4h0M841.5 693.9h0M841.9 695.3h0M841.5 691.6h0M841.9 698.3h0M841.7 692.7h0M841.7 696.2h0M841.8 697.4h0M841.9 690.3h0M841.8 693h0M841.6 690.3h0M841.9 693.3h0M841.6 690.2h0M841.7 692.6h0M841.8 691.9h0M841.8 691.6h0M841.7 699.2h0M841.6 694.3h0M841.7 694.6h0M841.6 690.6h0M841.6 693.1h0M841.7 691.4h0M841.7 690.5h0M841.9 688.2h0M841.9 688h0M841.9 692.6h0M841.7 694.5h0M841.7 691.3h0M841.9 689.9h0M841.7 695.2h0M841.6 697.4h0M841.8 695.3h0M841.7 691.5h0M841.8 698.5h0M841.9 689.8h0M841.7 695.3h0M841.8 692.3h0M841.9 694.6h0M841.8 698.1h0M841.7 696.8h0M841.9 691h0M841.7 691.8h0M841.6 691.7h0M841.5 694.3h0M841.9 691.6h0M841.8 693.1h0M841.9 696h0M841.9 696.2h0M841.8 691.8h0M841.9 690.9h0M841.8 696.7h0M841.8 690.3h0M841.9 692h0M841.7 696.3h0M841.6 694.7h0M841.6 695.6h0M841.8 695.9h0M841.9 699.1h0M841.7 693.5h0M841.9 691.8h0M841.6 699h0M841.6 693.7h0M841.8 684.7h0M841.7 697.6h0M841.9 692.3h0M841.6 692.9h0M841.5 697h0M841.9 695.3h0M841.7 695.4h0M841.8 700.4h0M841.8 694.2h0M841.6 694.4h0M846.7 691.8h0M846.7 691.6h0M846.8 698.2h0M846.8 692.8h0M846.6 695.1h0M846.5 695.2h0M846.9 694.8h0M846.7 697.5h0M846.5 695.5h0M846.7 696.6h0M846.6 694.7h0M846.7 695.7h0M846.5 695.8h0M846.9 690.2h0M846.6 697.3h0M846.6 701.1h0M846.5 694.4h0M846.7 694.5h0M846.7 694.1h0M846.6 696.4h0M846.7 695.7h0M846.6 690.9h0M846.8 694h0M846.5 701.3h0M846.5 694.2h0M846.8 694h0M846.7 693.4h0M846.7 693.8h0M846.6 692.7h0M846.7 693.7h0M846.5 693.1h0M846.6 693.6h0M846.8 690.1h0M846.8 691.4h0M846.6 688.2h0M846.6 689.7h0M846.7 699.4h0M848 691.2h0M847.8 696.3h0M848.1 700h0M848 695.5h0M848.1 693.5h0M848.1 694.6h0M847.7 689.6h0M848.1 696h0M847.8 693.2h0M847.8 691.4h0M847.8 691.6h0M848 695.4h0M847.9 690.9h0M847.9 693.4h0M847.8 695.7h0M847.7 692.1h0M848 694.5h0M848 695.7h0M847.8 696.6h0M847.7 692.7h0M848 692.8h0M847.7 696.5h0M848.1 696h0M847.8 694.7h0M847.9 693.6h0M848 696.8h0M847.8 696.3h0M847.9 693.3h0M847.9 692.7h0M847.8 693.4h0M847.8 698.7h0M847.9 693h0M847.9 693.8h0M847.8 694.1h0M847.8 694.6h0M847.7 698.3h0M848 696.7h0M847.8 697h0M847.9 702.5h0M848.1 696.5h0M848.1 694.5h0M847.9 695.7h0M847.8 697.5h0M847.7 692.9h0M847.8 692.8h0M847.9 693.1h0M847.8 696.5h0M848.1 698.8h0M848.1 691.4h0M848 694.1h0M847.9 695.6h0M847.9 694.5h0M847.8 695.4h0M847.7 694.2h0M849.4 698.8h0M849.1 700h0M849 697.4h0M849.2 699.8h0M849 697.9h0M849.2 695.7h0M849.4 692.9h0M849.1 695h0M849.4 693.7h0M849.2 692.7h0M849.2 692.2h0M849.2 690.4h0M849.1 692.3h0M849.4 693h0M849.1 691.6h0M849 698.2h0M849.3 692.7h0M849 696h0M849.3 699.6h0M849.3 692.7h0M849.2 699.3h0M849 691.9h0M849.1 699.6h0M849.1 700.3h0M849.2 692.6h0M849.4 693.4h0M849.2 694.1h0M849.1 694.7h0M849 698.6h0M849.4 700.9h0M849.2 693.1h0M849 698h0M850.6 693.7h0M850.5 695.3h0M850.3 695.5h0M850.2 694.4h0M850.5 692.7h0M850.6 692.6h0M850.5 694.2h0M850.2 694.1h0M850.4 696.3h0M850.6 700.1h0M850.3 696.2h0M850.5 696.1h0M850.2 698.2h0M850.6 697.3h0M850.3 699h0M850.3 691h0M850.3 689.8h0M850.5 694.1h0M850.2 692h0M850.4 699h0M850.3 691.9h0M850.4 694.1h0M850.2 693.6h0M850.3 693.1h0M850.3 700.3h0M850.6 698.2h0M850.6 699.8h0M850.4 695.5h0M850.5 697h0M850.6 697.2h0M850.4 698.4h0M850.5 692.3h0M850.2 693.2h0M850.3 702.4h0M850.3 695.1h0M850.3 697.9h0M850.4 697.8h0M850.4 696h0M850.4 693.6h0M850.4 688.4h0M854.2 705.8h0M854.1 695.2h0M854.1 694.2h0M854.1 697h0M854 695.3h0M854.4 694.4h0M854.1 695.8h0M854.2 692.5h0M854.3 700.3h0M854.1 694.6h0M854 695.3h0M854.2 691.8h0M854 696.7h0M854.4 696.6h0M854.2 692.3h0M854.4 699.1h0M853.9 694.6h0M854.3 699.6h0M854.2 700h0M854 695.9h0M854.1 699.2h0M854.2 698.4h0M854.1 698.2h0M853.9 696.1h0M854.2 694.4h0M854 699h0M854.1 694.6h0M854.2 697.1h0M854.2 695.4h0M854.1 694.8h0M854.1 699.5h0M853.9 690.3h0M854.1 695.8h0M854.3 698.8h0M854.3 694.5h0M854.3 697.3h0M855.5 694.8h0M855.6 694.2h0M855.4 698.5h0M855.3 694.7h0M855.5 696.9h0M855.4 697.9h0M855.3 695.1h0M855.4 696.2h0M855.2 693.4h0M855.2 696.1h0M855.6 697.6h0M855.2 697.1h0M855.5 696.3h0M857.9 697.1h0M857.7 696.6h0M857.9 692.5h0M857.8 699.6h0M857.8 703.2h0M858 692.8h0M858 697.4h0M857.9 696h0M858.1 696.5h0M858.1 696.3h0M858.1 698.1h0M858 696.3h0M858.1 693.6h0M858 693.5h0M857.9 696.2h0M857.9 696.8h0M857.9 694.4h0M857.9 695.4h0M858 700.4h0M857.8 696.4h0M857.9 698.4h0M857.8 698.3h0M857.9 696.4h0M858 698h0M858 702h0M858 697.4h0M857.8 694.2h0M857.8 697.7h0M857.8 702.5h0M858 694.8h0M857.7 697.6h0M858 699.2h0M858 699h0M857.9 695.2h0M858.1 700.5h0M857.7 697.5h0M857.8 701h0M857.9 696.3h0M857.8 694.4h0M857.8 695.5h0M858 695.6h0M858 697.7h0M857.7 697h0M857.7 698.5h0M857.9 695.2h0M857.9 696.4h0M857.8 694.1h0M858.1 700.9h0M857.7 693.7h0M857.8 693.8h0M857.7 698.3h0M858.1 692.3h0M858 698.9h0M858 695.2h0M857.7 699.4h0M858 696.3h0M857.7 698.9h0M857.9 700.4h0M857.7 696.3h0M858 696h0M858.9 693.6h0M859.2 693.7h0M859 696.2h0M859.2 699.3h0M859.3 694.2h0M858.9 697.7h0M859.1 694h0M859.3 701.9h0M859.2 696.8h0M859 696.9h0M859 698h0M874.1 700.3h0M874.1 694.3h0M873.9 696.5h0M874.2 694h0M874 698.5h0M873.9 695h0M873.9 700h0M874.2 701.7h0M874.1 695.8h0M873.8 695h0M873.9 696.2h0M874 696.1h0M874.2 695.8h0M873.8 692.6h0M873.8 695.7h0M874.1 695.6h0M873.9 696.1h0M874.1 698.9h0M873.9 694.3h0M874.1 697.8h0M874 696.3h0M874.1 700.7h0M873.9 695.5h0M874 695.7h0M873.8 696.1h0M874 694.7h0M874.2 695.9h0M874.1 699.9h0M874 697.9h0M874.2 697.2h0M873.9 696.3h0M873.8 697.2h0M874.1 696.6h0M874.1 694.5h0M875.4 695.5h0M875.2 702.6h0M872.6 698.6h0M872.8 703.8h0M872.9 700.1h0M872.9 705.9h0M872.6 701.1h0M872.9 701.8h0M872.7 702.5h0M872.9 698.9h0M872.9 699.7h0M872.8 703.9h0M872.7 700.2h0M872.6 697.5h0M872.9 705.2h0M872.6 700.1h0M874 701.2h0M873.9 701.7h0M874.2 706.1h0M874.2 709.9h0M873.8 701.9h0M874.1 699.8h0M875.1 700.6h0M875.4 708.1h0M875.1 702h0M877.8 702h0M932.4 702.9h0M932.6 698.9h0M932.6 700.7h0M932.3 701.5h0M932.2 696.8h0M932.3 702.8h0M932.3 701h0M932.3 705.8h0M932.4 703.4h0M932.6 702h0M932.5 702.1h0M932.4 700.4h0M932.3 699h0M933.8 703.5h0M933.5 696.2h0M933.8 699.9h0M933.4 695.3h0M933.4 702.5h0M933.7 698.4h0M933.7 702.1h0M933.7 702.3h0M933.6 698.5h0M934.7 701h0M934.8 698.6h0M934.7 696.9h0M934.6 703h0M935 701.6h0M934.9 696.3h0M934.7 696.2h0M934.7 698.1h0M934.6 696.8h0M934.7 697.7h0M934.9 694.2h0M934.8 699.9h0M934.8 695h0M934.7 701.1h0M934.7 699.9h0M934.9 697.7h0M934.8 698.3h0M937.4 695h0M937.2 694.7h0M937.4 698.2h0M937.5 692.6h0M937.4 695.7h0M937.4 696.9h0M937.5 696.2h0M937.5 695h0M937.4 698.4h0M937.2 697.3h0M937.4 695.7h0M937.4 695.7h0M937.4 696h0M937.4 695h0M937.3 697.8h0M937.4 702.3h0M937.3 693.1h0M937.2 695.4h0M937.1 692.5h0M937.1 696.4h0M937.4 695.2h0M937.5 698.7h0M937.3 690.7h0M938.6 696.9h0M938.6 697.3h0M938.6 695.9h0M938.5 697.6h0M938.5 698.2h0M938.5 694.5h0M938.5 698.4h0M938.4 693.7h0M938.6 696.1h0M938.7 693.7h0M938.7 696.4h0M938.6 701.1h0M939.8 693.5h0M942.2 702.7h0M942.3 708.2h0M942.4 708h0M942.4 700.9h0M942.2 702.3h0M942.3 704.6h0M942.5 702.9h0M942.5 702.1h0M942.5 707.7h0M942.1 697.9h0M942.2 705.6h0M942.3 703.7h0M942.2 707.1h0M943.4 706.4h0M943.6 702.4h0M943.4 709h0M943.4 709.1h0M943.5 701.8h0M943.3 697.5h0M943.6 694.6h0M945 703.4h0M944.7 704.3h0M945 701.4h0M944.6 700.5h0M944.7 704.2h0M944.7 699.7h0M944.9 700.6h0M944.9 701.3h0M944.8 703.1h0M945 703.3h0M947.2 706.5h0M947.5 699.8h0M947.1 706.7h0M947.4 704.1h0M947.2 703.6h0M947.4 706.5h0M948.6 705.6h0M948.5 705.8h0M948.3 700.1h0M948.6 712.3h0M948.5 701.7h0M948.4 702.1h0M948.4 704.1h0M951 706.2h0M950.9 699.8h0M950.9 703.8h0M951.2 706.2h0M951.1 706.1h0M951 698.2h0M950.9 704.3h0M950.8 702.9h0M951.1 703.4h0M951.2 703.4h0M951 705.6h0M951.1 701h0M952.1 702.4h0M952.4 701.6h0M952.1 701.7h0M952.2 711.6h0M952.4 698.4h0M954.9 703.7h0M954.6 705.5h0M955.7 703.5h0M956 703.7h0M956.1 704.5h0M956.2 698.2h0M956 702.4h0M955.8 704.1h0M956.1 698.4h0M956 704.7h0" stroke="#88b04b" stroke-width="4.5" stroke-linecap="round" fill="none"/>
<path d="M878.1 703.8L878.2 703.8L878.2 703.8L878.3 703.8L878.4 703.8L878.5 703.8L878.6 703.8L878.7 703.8L878.8 703.8L878.8 703.8L878.9 703.8L879 703.8L879.1 703.8L879.2 703.8L879.3 703.8L879.4 703.8L879.5 703.8L879.5 703.8L879.6 703.8L879.7 703.8L879.8 703.8L879.9 703.8L880 703.8L880.1 703.8L880.2 703.7L880.2 703.7L880.3 703.7L880.4 703.7L880.5 703.7L880.6 703.7L880.7 703.7L880.8 703.7L880.9 703.7L880.9 703.7L881 703.7L881.1 703.7L881.2 703.7L881.3 703.7L881.4 703.7L881.5 703.7L881.6 703.7L881.6 703.7L881.7 703.7L881.8 703.7L881.9 703.7L882 703.7L882.1 703.7L882.2 703.7L882.3 703.6L882.3 703.6L882.4 703.6L882.5 703.6L882.6 703.6L882.7 703.6L882.8 703.6L882.9 703.6L883 703.6L883 703.6L883.1 703.6L883.2 703.6L883.3 703.6L883.4 703.6L883.5 703.6L883.6 703.6L883.7 703.6L883.7 703.5L883.8 703.5L883.9 703.5L884 703.5L884.1 703.5L884.2 703.5L884.3 703.5L884.4 703.5L884.4 703.5L884.5 703.5L884.6 703.5L884.7 703.5L884.8 703.5L884.9 703.4L885 703.4L885.1 703.4L885.1 703.4L885.2 703.4L885.3 703.4L885.4 703.4L885.5 703.4L885.6 703.4L885.7 703.4L885.8 703.4L885.8 703.3L885.9 703.3L886 703.3L886.1 703.3L886.2 703.3L886.3 703.3L886.4 703.3L886.5 703.3L886.5 703.3L886.6 703.2L886.7 703.2L886.8 703.2L886.9 703.2L887 703.2L887.1 703.2L887.1 703.2L887.2 703.1L887.3 703.1L887.4 703.1L887.5 703.1L887.6 703.1L887.7 703.1L887.8 703.1L887.8 703L887.9 703L888 703L888.1 703L888.2 703L888.3 703L888.4 702.9L888.5 702.9L888.5 702.9L888.6 702.9L888.7 702.9L888.8 702.8L888.9 702.8L889 702.8L889.1 702.8L889.2 702.7L889.2 702.7L889.3 702.7L889.4 702.7L889.5 702.7L889.6 702.6L889.7 702.6L889.8 702.6L889.9 702.6L889.9 702.5L890 702.5L890.1 702.5L890.2 702.4L890.3 702.4L890.4 702.4L890.5 702.4L890.6 702.3L890.6 702.3L890.7 702.3L890.8 702.2L890.9 702.2L891 702.2L891.1 702.1L891.2 702.1L891.3 702L891.3 702L891.4 702L891.5 701.9L891.6 701.9L891.7 701.8L891.8 701.8L891.9 701.8L892 701.7L892 701.7L892.1 701.6L892.2 701.6L892.3 701.5L892.4 701.5L892.5 701.4L892.6 701.4L892.7 701.3L892.7 701.3L892.8 701.2L892.9 701.2L893 701.1L893.1 701L893.2 701L893.3 700.9L893.4 700.8L893.4 700.8L893.5 700.7L893.6 700.6L893.7 700.6L893.8 700.5L893.9 700.4L894 700.4L894.1 700.3L894.1 700.2L894.2 700.1L894.3 700L894.4 700L894.5 699.9L894.6 699.8L894.7 699.7L894.8 699.6L894.8 699.5L894.9 699.4L895 699.3L895.1 699.2L895.2 699.1L895.3 699L895.4 698.9L895.5 698.8L895.5 698.7L895.6 698.5L895.7 698.4L895.8 698.3L895.9 698.2L896 698L896.1 697.9L896.1 697.8L896.2 697.6L896.3 697.5L896.4 697.4L896.5 697.2L896.6 697.1L896.7 696.9L896.8 696.7L896.8 696.6L896.9 696.4L897 696.3L897.1 696.1L897.2 695.9L897.3 695.7L897.4 695.5L897.5 695.4L897.5 695.2L897.6 695L897.7 694.8L897.8 694.6L897.9 694.4L898 694.2L898.1 693.9L898.2 693.7L898.2 693.5L898.3 693.3L898.4 693L898.5 692.8L898.6 692.6L898.7 692.3L898.8 692.1L898.9 691.8L898.9 691.5L899 691.3L899.1 691L899.2 690.7L899.3 690.5L899.4 690.2L899.5 689.9L899.6 689.6L899.6 689.3L899.7 689L899.8 688.7L899.9 688.4L900 688.1L900.1 687.8L900.2 687.5L900.3 687.2L900.3 686.9L900.4 686.6L900.5 686.2L900.6 685.9L900.7 685.6L900.8 685.3L900.9 684.9L901 684.6L901 684.3L901.1 683.9L901.2 683.6L901.3 683.3L901.4 683L901.5 682.6L901.6 682.3L901.7 682L901.7 681.7L901.8 681.4L901.9 681.1L902 680.8L902.1 680.5L902.2 680.2L902.3 679.9L902.4 679.6L902.4 679.4L902.5 679.1L902.6 678.9L902.7 678.6L902.8 678.4L902.9 678.2L903 678L903.1 677.8L903.1 677.6L903.2 677.4L903.3 677.2L903.4 677.1L903.5 677L903.6 676.9L903.7 676.7L903.8 676.7L903.8 676.6L903.9 676.5L904 676.5L904.1 676.5L904.2 676.4L904.3 676.4L904.4 676.5L904.4 676.5L904.5 676.5L904.6 676.6L904.7 676.7L904.8 676.8L904.9 676.9L905 677L905.1 677.2L905.1 677.3L905.2 677.5L905.3 677.7L905.4 677.8L905.5 678.1L905.6 678.3L905.7 678.5L905.8 678.7L905.8 679L905.9 679.2L906 679.5L906.1 679.8L906.2 680L906.3 680.3L906.4 680.6L906.5 680.9L906.5 681.2L906.6 681.5L906.7 681.8L906.8 682.1L906.9 682.5L907 682.8L907.1 683.1L907.2 683.4L907.2 683.8L907.3 684.1L907.4 684.4L907.5 684.7L907.6 685.1L907.7 685.4L907.8 685.7L907.9 686L907.9 686.4L908 686.7L908.1 687L908.2 687.3L908.3 687.6L908.4 687.9L908.5 688.3L908.6 688.6L908.6 688.9L908.7 689.2L908.8 689.5L908.9 689.7L909 690L909.1 690.3L909.2 690.6L909.3 690.9L909.3 691.1L909.4 691.4L909.5 691.7L909.6 691.9L909.7 692.2L909.8 692.4L909.9 692.7L910 692.9L910 693.1L910.1 693.4L910.2 693.6L910.3 693.8L910.4 694L910.5 694.2L910.6 694.5L910.7 694.7L910.7 694.9L910.8 695.1L910.9 695.2L911 695.4L911.1 695.6L911.2 695.8L911.3 696L911.4 696.2L911.4 696.3L911.5 696.5L911.6 696.7L911.7 696.8L911.8 697L911.9 697.1L912 697.3L912.1 697.4L912.1 697.6L912.2 697.7L912.3 697.8L912.4 698L912.5 698.1L912.6 698.2L912.7 698.3L912.7 698.5L912.8 698.6L912.9 698.7L913 698.8L913.1 698.9L913.2 699L913.3 699.1L913.4 699.2L913.4 699.3L913.5 699.4L913.6 699.5L913.7 699.6L913.8 699.7L913.9 699.8L914 699.9L914.1 700L914.1 700.1L914.2 700.2L914.3 700.2L914.4 700.3L914.5 700.4L914.6 700.5L914.7 700.5L914.8 700.6L914.8 700.7L914.9 700.7L915 700.8L915.1 700.9L915.2 700.9L915.3 701L915.4 701.1L915.5 701.1L915.5 701.2L915.6 701.2L915.7 701.3L915.8 701.3L915.9 701.4L916 701.4L916.1 701.5L916.2 701.5L916.2 701.6L916.3 701.6L916.4 701.7L916.5 701.7L916.6 701.8L916.7 701.8L916.8 701.9L916.9 701.9L916.9 701.9L917 702L917.1 702L917.2 702.1L917.3 702.1L917.4 702.1L917.5 702.2L917.6 702.2L917.6 702.2L917.7 702.3L917.8 702.3L917.9 702.3L918 702.4L918.1 702.4L918.2 702.4L918.3 702.5L918.3 702.5L918.4 702.5L918.5 702.5L918.6 702.6L918.7 702.6L918.8 702.6L918.9 702.6L919 702.7L919 702.7L919.1 702.7L919.2 702.7L919.3 702.8L919.4 702.8L919.5 702.8L919.6 702.8L919.7 702.8L919.7 702.9L919.8 702.9L919.9 702.9L920 702.9L920.1 702.9L920.2 703L920.3 703L920.4 703L920.4 703L920.5 703L920.6 703L920.7 703.1L920.8 703.1L920.9 703.1L921 703.1L921.1 703.1L921.1 703.1L921.2 703.2L921.3 703.2L921.4 703.2L921.5 703.2L921.6 703.2L921.7 703.2L921.7 703.2L921.8 703.2L921.9 703.3L922 703.3L922.1 703.3L922.2 703.3L922.3 703.3L922.4 703.3L922.4 703.3L922.5 703.3L922.6 703.3L922.7 703.4L922.8 703.4L922.9 703.4L923 703.4L923.1 703.4L923.1 703.4L923.2 703.4L923.3 703.4L923.4 703.4L923.5 703.4L923.6 703.5L923.7 703.5L923.8 703.5L923.8 703.5L923.9 703.5L924 703.5L924.1 703.5L924.2 703.5L924.3 703.5L924.4 703.5L924.5 703.5L924.5 703.5L924.6 703.5L924.7 703.6L924.8 703.6L924.9 703.6L925 703.6L925.1 703.6L925.2 703.6L925.2 703.6L925.3 703.6L925.4 703.6L925.5 703.6L925.6 703.6L925.7 703.6L925.8 703.6L925.9 703.6L925.9 703.6L926 703.6L926.1 703.6L926.2 703.7L926.3 703.7L926.4 703.7L926.5 703.7L926.6 703.7L926.6 703.7L926.7 703.7L926.8 703.7L926.9 703.7L927 703.7L927.1 703.7L927.2 703.7L927.3 703.7L927.3 703.7L927.4 703.7L927.5 703.7L927.6 703.7L927.7 703.7L927.8 703.7L927.9 703.7L928 703.7L928 703.7L928.1 703.7L928.2 703.7L928.3 703.8L928.4 703.8L928.5 703.8L928.6 703.8L928.7 703.8L928.7 703.8L928.8 703.8L928.9 703.8L929 703.8L929.1 703.8L929.2 703.8L929.3 703.8L929.4 703.8L929.4 703.8L929.5 703.8L929.6 703.8L929.7 703.8L929.8 703.8L929.9 703.8L930 703.8L930 703.8L930.1 703.8L930.2 703.8L930.3 703.8L930.4 703.8" stroke="#000" stroke-width="3" stroke-dasharray="5 2" fill="none"/>
</svg>
</body></html>
